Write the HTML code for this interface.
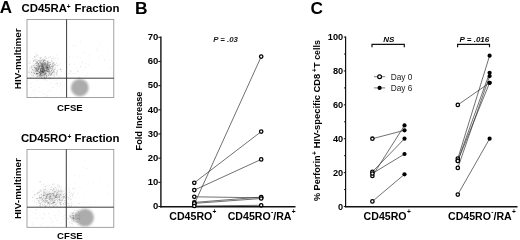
<!DOCTYPE html>
<html><head><meta charset="utf-8"><title>Figure</title>
<style>
html,body{margin:0;padding:0;background:#fff;}
body{width:520px;height:240px;overflow:hidden;font-family:"Liberation Sans",sans-serif;}
svg{display:block;}
</style></head><body>
<svg width="520" height="240" viewBox="0 0 520 240">
<defs><filter id="bl" x="-30%" y="-30%" width="160%" height="160%"><feGaussianBlur stdDeviation="1.1"/></filter><filter id="bl2" x="-50%" y="-50%" width="200%" height="200%"><feGaussianBlur stdDeviation="3"/></filter></defs>
<rect width="520" height="240" fill="#fff"/>
<g opacity="0.999"><text x="-0.3" y="12.7" font-size="17" font-weight="bold" font-family="Liberation Sans, sans-serif">A</text><text x="21.5" y="12.3" font-size="11.4" font-weight="bold" font-family="Liberation Sans, sans-serif">CD45RA</text><text x="66.8" y="8.8" font-size="6.6" font-weight="bold" font-family="Liberation Sans, sans-serif">+</text><text x="74.6" y="12.3" font-size="11.4" font-weight="bold" font-family="Liberation Sans, sans-serif">Fraction</text><rect x="27.0" y="19.5" width="86.8" height="78.0" fill="#fff" stroke="#8a8a8a" stroke-width="0.8"/><ellipse cx="79.8" cy="87.7" rx="8.9" ry="8.7" fill="#acacac" filter="url(#bl)"/><rect x="34.9" y="93.1" width="0.7" height="0.7" fill="#444" fill-opacity="0.07"/><rect x="36.2" y="80.7" width="0.7" height="0.7" fill="#444" fill-opacity="0.05"/><rect x="56.8" y="85.3" width="0.7" height="0.7" fill="#444" fill-opacity="0.10"/><rect x="55.8" y="83.5" width="0.7" height="0.7" fill="#444" fill-opacity="0.18"/><rect x="35.0" y="96.6" width="0.7" height="0.7" fill="#444" fill-opacity="0.18"/><rect x="47.0" y="95.8" width="0.7" height="0.7" fill="#444" fill-opacity="0.18"/><rect x="64.2" y="84.3" width="0.7" height="0.7" fill="#444" fill-opacity="0.11"/><rect x="39.5" y="87.0" width="0.7" height="0.7" fill="#444" fill-opacity="0.13"/><rect x="60.6" y="84.9" width="0.7" height="0.7" fill="#444" fill-opacity="0.13"/><rect x="38.5" y="87.0" width="0.7" height="0.7" fill="#444" fill-opacity="0.06"/><rect x="48.6" y="90.1" width="0.7" height="0.7" fill="#444" fill-opacity="0.14"/><rect x="61.0" y="88.4" width="0.7" height="0.7" fill="#444" fill-opacity="0.09"/><rect x="64.1" y="86.2" width="0.7" height="0.7" fill="#444" fill-opacity="0.08"/><rect x="47.3" y="91.6" width="0.7" height="0.7" fill="#444" fill-opacity="0.09"/><rect x="36.9" y="80.5" width="0.7" height="0.7" fill="#444" fill-opacity="0.13"/><rect x="42.3" y="93.3" width="0.7" height="0.7" fill="#444" fill-opacity="0.07"/><rect x="51.2" y="81.7" width="0.7" height="0.7" fill="#444" fill-opacity="0.08"/><rect x="32.3" y="90.6" width="0.7" height="0.7" fill="#444" fill-opacity="0.16"/><rect x="44.5" y="93.9" width="0.7" height="0.7" fill="#444" fill-opacity="0.17"/><rect x="60.9" y="90.6" width="0.7" height="0.7" fill="#444" fill-opacity="0.12"/><rect x="43.8" y="93.3" width="0.7" height="0.7" fill="#444" fill-opacity="0.09"/><rect x="37.3" y="97.0" width="0.7" height="0.7" fill="#444" fill-opacity="0.19"/><rect x="52.9" y="94.0" width="0.7" height="0.7" fill="#444" fill-opacity="0.06"/><rect x="57.4" y="89.7" width="0.7" height="0.7" fill="#444" fill-opacity="0.09"/><rect x="38.6" y="91.2" width="0.7" height="0.7" fill="#444" fill-opacity="0.19"/><rect x="56.3" y="79.8" width="0.7" height="0.7" fill="#444" fill-opacity="0.14"/><rect x="40.8" y="83.1" width="0.7" height="0.7" fill="#444" fill-opacity="0.06"/><rect x="50.0" y="83.8" width="0.7" height="0.7" fill="#444" fill-opacity="0.10"/><rect x="47.0" y="95.1" width="0.7" height="0.7" fill="#444" fill-opacity="0.09"/><rect x="49.9" y="90.6" width="0.7" height="0.7" fill="#444" fill-opacity="0.16"/><rect x="60.2" y="83.1" width="0.7" height="0.7" fill="#444" fill-opacity="0.18"/><rect x="30.9" y="87.3" width="0.7" height="0.7" fill="#444" fill-opacity="0.16"/><rect x="62.2" y="85.3" width="0.7" height="0.7" fill="#444" fill-opacity="0.15"/><rect x="54.6" y="79.9" width="0.7" height="0.7" fill="#444" fill-opacity="0.16"/><rect x="59.8" y="81.5" width="0.7" height="0.7" fill="#444" fill-opacity="0.10"/><rect x="44.5" y="95.9" width="0.7" height="0.7" fill="#444" fill-opacity="0.19"/><rect x="35.0" y="86.1" width="0.7" height="0.7" fill="#444" fill-opacity="0.07"/><rect x="30.0" y="82.9" width="0.7" height="0.7" fill="#444" fill-opacity="0.19"/><rect x="62.4" y="82.6" width="0.7" height="0.7" fill="#444" fill-opacity="0.14"/><rect x="52.2" y="87.1" width="0.7" height="0.7" fill="#444" fill-opacity="0.18"/><rect x="31.4" y="83.9" width="0.7" height="0.7" fill="#444" fill-opacity="0.07"/><rect x="62.6" y="93.4" width="0.7" height="0.7" fill="#444" fill-opacity="0.12"/><rect x="31.4" y="94.4" width="0.7" height="0.7" fill="#444" fill-opacity="0.17"/><rect x="61.0" y="96.0" width="0.7" height="0.7" fill="#444" fill-opacity="0.15"/><rect x="46.7" y="93.4" width="0.7" height="0.7" fill="#444" fill-opacity="0.07"/><rect x="59.9" y="84.5" width="0.7" height="0.7" fill="#444" fill-opacity="0.12"/><rect x="61.2" y="79.1" width="0.7" height="0.7" fill="#444" fill-opacity="0.10"/><rect x="58.9" y="86.2" width="0.7" height="0.7" fill="#444" fill-opacity="0.19"/><rect x="55.2" y="83.1" width="0.7" height="0.7" fill="#444" fill-opacity="0.12"/><rect x="41.5" y="90.9" width="0.7" height="0.7" fill="#444" fill-opacity="0.16"/><rect x="47.1" y="80.4" width="0.7" height="0.7" fill="#444" fill-opacity="0.18"/><rect x="34.8" y="90.4" width="0.7" height="0.7" fill="#444" fill-opacity="0.17"/><rect x="45.4" y="79.9" width="0.7" height="0.7" fill="#444" fill-opacity="0.13"/><rect x="31.8" y="82.1" width="0.7" height="0.7" fill="#444" fill-opacity="0.08"/><rect x="34.5" y="89.4" width="0.7" height="0.7" fill="#444" fill-opacity="0.16"/><rect x="87.3" y="76.2" width="0.7" height="0.7" fill="#444" fill-opacity="0.06"/><rect x="82.2" y="52.3" width="0.7" height="0.7" fill="#444" fill-opacity="0.14"/><rect x="97.8" y="50.5" width="0.7" height="0.7" fill="#444" fill-opacity="0.12"/><rect x="84.6" y="52.9" width="0.7" height="0.7" fill="#444" fill-opacity="0.06"/><rect x="101.4" y="41.1" width="0.7" height="0.7" fill="#444" fill-opacity="0.12"/><rect x="77.4" y="55.9" width="0.7" height="0.7" fill="#444" fill-opacity="0.17"/><rect x="103.7" y="73.0" width="0.7" height="0.7" fill="#444" fill-opacity="0.16"/><rect x="80.1" y="40.4" width="0.7" height="0.7" fill="#444" fill-opacity="0.08"/><rect x="107.7" y="54.5" width="0.7" height="0.7" fill="#444" fill-opacity="0.11"/><rect x="83.2" y="52.8" width="0.7" height="0.7" fill="#444" fill-opacity="0.08"/><rect x="79.9" y="57.9" width="0.7" height="0.7" fill="#444" fill-opacity="0.13"/><rect x="69.8" y="44.2" width="0.7" height="0.7" fill="#444" fill-opacity="0.05"/><rect x="88.5" y="64.6" width="0.7" height="0.7" fill="#444" fill-opacity="0.20"/><rect x="85.4" y="63.0" width="0.7" height="0.7" fill="#444" fill-opacity="0.18"/><rect x="91.6" y="60.5" width="0.7" height="0.7" fill="#444" fill-opacity="0.08"/><rect x="98.4" y="67.6" width="0.7" height="0.7" fill="#444" fill-opacity="0.10"/><rect x="97.4" y="47.9" width="0.7" height="0.7" fill="#444" fill-opacity="0.07"/><rect x="82.2" y="60.8" width="0.7" height="0.7" fill="#444" fill-opacity="0.12"/><rect x="78.5" y="76.6" width="0.7" height="0.7" fill="#444" fill-opacity="0.17"/><rect x="79.9" y="42.7" width="0.7" height="0.7" fill="#444" fill-opacity="0.17"/><rect x="109.4" y="67.3" width="0.7" height="0.7" fill="#444" fill-opacity="0.17"/><rect x="111.5" y="66.4" width="0.7" height="0.7" fill="#444" fill-opacity="0.07"/><rect x="88.7" y="55.0" width="0.7" height="0.7" fill="#444" fill-opacity="0.15"/><rect x="74.2" y="63.8" width="0.7" height="0.7" fill="#444" fill-opacity="0.17"/><rect x="79.5" y="63.7" width="0.7" height="0.7" fill="#444" fill-opacity="0.11"/><rect x="98.0" y="57.8" width="0.7" height="0.7" fill="#444" fill-opacity="0.21"/><rect x="88.4" y="41.6" width="0.7" height="0.7" fill="#444" fill-opacity="0.06"/><rect x="98.7" y="43.6" width="0.7" height="0.7" fill="#444" fill-opacity="0.18"/><rect x="89.8" y="53.1" width="0.7" height="0.7" fill="#444" fill-opacity="0.12"/><rect x="105.8" y="60.5" width="0.7" height="0.7" fill="#444" fill-opacity="0.12"/><rect x="88.7" y="62.0" width="0.7" height="0.7" fill="#444" fill-opacity="0.13"/><rect x="99.7" y="55.5" width="0.7" height="0.7" fill="#444" fill-opacity="0.10"/><rect x="72.5" y="57.3" width="0.7" height="0.7" fill="#444" fill-opacity="0.08"/><rect x="76.0" y="46.6" width="0.7" height="0.7" fill="#444" fill-opacity="0.11"/><rect x="108.9" y="59.4" width="0.7" height="0.7" fill="#444" fill-opacity="0.10"/><rect x="88.8" y="57.4" width="0.7" height="0.7" fill="#444" fill-opacity="0.06"/><rect x="104.2" y="59.3" width="0.7" height="0.7" fill="#444" fill-opacity="0.22"/><rect x="96.1" y="49.3" width="0.7" height="0.7" fill="#444" fill-opacity="0.22"/><rect x="72.1" y="46.3" width="0.7" height="0.7" fill="#444" fill-opacity="0.07"/><rect x="74.2" y="45.1" width="0.7" height="0.7" fill="#444" fill-opacity="0.20"/><ellipse cx="42.8" cy="68.6" rx="9" ry="7" fill="#777" fill-opacity="0.16" filter="url(#bl2)"/><rect x="43.5" y="75.4" width="0.74" height="0.74" fill="#333" fill-opacity="0.18"/><rect x="40.9" y="67.2" width="0.83" height="0.83" fill="#333" fill-opacity="0.10"/><rect x="42.5" y="72.5" width="0.69" height="0.69" fill="#333" fill-opacity="0.32"/><rect x="47.0" y="63.3" width="0.56" height="0.56" fill="#333" fill-opacity="0.24"/><rect x="33.2" y="60.5" width="0.80" height="0.80" fill="#333" fill-opacity="0.22"/><rect x="41.6" y="66.9" width="0.74" height="0.74" fill="#333" fill-opacity="0.27"/><rect x="42.2" y="69.9" width="0.69" height="0.69" fill="#333" fill-opacity="0.29"/><rect x="39.9" y="57.7" width="0.87" height="0.87" fill="#333" fill-opacity="0.26"/><rect x="32.6" y="74.5" width="0.87" height="0.87" fill="#333" fill-opacity="0.20"/><rect x="45.2" y="66.9" width="0.59" height="0.59" fill="#333" fill-opacity="0.13"/><rect x="50.3" y="67.4" width="0.62" height="0.62" fill="#333" fill-opacity="0.24"/><rect x="35.7" y="68.4" width="0.73" height="0.73" fill="#333" fill-opacity="0.18"/><rect x="29.3" y="62.7" width="0.87" height="0.87" fill="#333" fill-opacity="0.25"/><rect x="56.5" y="55.6" width="0.57" height="0.57" fill="#333" fill-opacity="0.25"/><rect x="54.7" y="57.9" width="0.73" height="0.73" fill="#333" fill-opacity="0.30"/><rect x="41.7" y="65.0" width="0.73" height="0.73" fill="#333" fill-opacity="0.28"/><rect x="42.2" y="70.5" width="0.90" height="0.90" fill="#333" fill-opacity="0.29"/><rect x="53.8" y="73.7" width="0.56" height="0.56" fill="#333" fill-opacity="0.19"/><rect x="39.4" y="77.5" width="0.52" height="0.52" fill="#333" fill-opacity="0.29"/><rect x="41.2" y="67.5" width="0.63" height="0.63" fill="#333" fill-opacity="0.26"/><rect x="57.6" y="58.3" width="0.90" height="0.90" fill="#333" fill-opacity="0.21"/><rect x="41.7" y="70.6" width="0.51" height="0.51" fill="#333" fill-opacity="0.23"/><rect x="45.2" y="73.8" width="0.56" height="0.56" fill="#333" fill-opacity="0.23"/><rect x="56.8" y="71.5" width="0.88" height="0.88" fill="#333" fill-opacity="0.17"/><rect x="48.4" y="65.4" width="0.71" height="0.71" fill="#333" fill-opacity="0.20"/><rect x="36.8" y="62.9" width="0.75" height="0.75" fill="#333" fill-opacity="0.22"/><rect x="50.8" y="66.3" width="0.79" height="0.79" fill="#333" fill-opacity="0.19"/><rect x="43.3" y="73.2" width="0.71" height="0.71" fill="#333" fill-opacity="0.32"/><rect x="41.8" y="68.4" width="0.73" height="0.73" fill="#333" fill-opacity="0.19"/><rect x="52.7" y="69.5" width="0.52" height="0.52" fill="#333" fill-opacity="0.24"/><rect x="37.2" y="64.3" width="0.64" height="0.64" fill="#333" fill-opacity="0.25"/><rect x="39.7" y="60.1" width="0.52" height="0.52" fill="#333" fill-opacity="0.10"/><rect x="34.5" y="56.2" width="0.68" height="0.68" fill="#333" fill-opacity="0.16"/><rect x="37.5" y="66.0" width="0.63" height="0.63" fill="#333" fill-opacity="0.18"/><rect x="36.2" y="73.9" width="0.65" height="0.65" fill="#333" fill-opacity="0.17"/><rect x="43.0" y="67.4" width="0.79" height="0.79" fill="#333" fill-opacity="0.23"/><rect x="40.9" y="72.2" width="0.60" height="0.60" fill="#333" fill-opacity="0.28"/><rect x="45.8" y="73.9" width="0.54" height="0.54" fill="#333" fill-opacity="0.25"/><rect x="40.0" y="73.0" width="0.68" height="0.68" fill="#333" fill-opacity="0.28"/><rect x="45.5" y="66.0" width="0.76" height="0.76" fill="#333" fill-opacity="0.17"/><rect x="48.7" y="64.7" width="0.55" height="0.55" fill="#333" fill-opacity="0.15"/><rect x="38.2" y="67.9" width="0.84" height="0.84" fill="#333" fill-opacity="0.28"/><rect x="45.2" y="72.6" width="0.76" height="0.76" fill="#333" fill-opacity="0.28"/><rect x="45.1" y="63.9" width="0.62" height="0.62" fill="#333" fill-opacity="0.13"/><rect x="44.4" y="64.5" width="0.67" height="0.67" fill="#333" fill-opacity="0.18"/><rect x="36.3" y="71.3" width="0.56" height="0.56" fill="#333" fill-opacity="0.30"/><rect x="60.0" y="69.0" width="0.89" height="0.89" fill="#333" fill-opacity="0.29"/><rect x="47.4" y="66.9" width="0.83" height="0.83" fill="#333" fill-opacity="0.26"/><rect x="38.3" y="63.0" width="0.64" height="0.64" fill="#333" fill-opacity="0.16"/><rect x="43.2" y="70.6" width="0.61" height="0.61" fill="#333" fill-opacity="0.23"/><rect x="43.6" y="67.1" width="0.78" height="0.78" fill="#333" fill-opacity="0.30"/><rect x="56.4" y="63.3" width="0.73" height="0.73" fill="#333" fill-opacity="0.30"/><rect x="54.7" y="69.3" width="0.62" height="0.62" fill="#333" fill-opacity="0.14"/><rect x="38.2" y="63.0" width="0.88" height="0.88" fill="#333" fill-opacity="0.19"/><rect x="37.8" y="65.4" width="0.84" height="0.84" fill="#333" fill-opacity="0.16"/><rect x="30.4" y="69.9" width="0.58" height="0.58" fill="#333" fill-opacity="0.18"/><rect x="29.8" y="66.5" width="0.82" height="0.82" fill="#333" fill-opacity="0.14"/><rect x="54.3" y="64.0" width="0.50" height="0.50" fill="#333" fill-opacity="0.28"/><rect x="32.9" y="60.8" width="0.61" height="0.61" fill="#333" fill-opacity="0.11"/><rect x="41.8" y="75.2" width="0.69" height="0.69" fill="#333" fill-opacity="0.19"/><rect x="42.9" y="68.3" width="0.55" height="0.55" fill="#333" fill-opacity="0.11"/><rect x="44.7" y="70.0" width="0.84" height="0.84" fill="#333" fill-opacity="0.31"/><rect x="50.1" y="71.9" width="0.63" height="0.63" fill="#333" fill-opacity="0.17"/><rect x="36.6" y="74.9" width="0.64" height="0.64" fill="#333" fill-opacity="0.23"/><rect x="45.1" y="73.1" width="0.72" height="0.72" fill="#333" fill-opacity="0.13"/><rect x="41.3" y="63.4" width="0.57" height="0.57" fill="#333" fill-opacity="0.12"/><rect x="35.9" y="73.9" width="0.65" height="0.65" fill="#333" fill-opacity="0.27"/><rect x="46.0" y="61.4" width="0.65" height="0.65" fill="#333" fill-opacity="0.19"/><rect x="31.6" y="68.8" width="0.78" height="0.78" fill="#333" fill-opacity="0.19"/><rect x="37.6" y="69.6" width="0.78" height="0.78" fill="#333" fill-opacity="0.22"/><rect x="49.6" y="71.1" width="0.85" height="0.85" fill="#333" fill-opacity="0.19"/><rect x="49.2" y="66.6" width="0.82" height="0.82" fill="#333" fill-opacity="0.30"/><rect x="42.2" y="74.6" width="0.83" height="0.83" fill="#333" fill-opacity="0.13"/><rect x="34.9" y="59.0" width="0.77" height="0.77" fill="#333" fill-opacity="0.27"/><rect x="41.9" y="61.7" width="0.74" height="0.74" fill="#333" fill-opacity="0.12"/><rect x="46.8" y="68.7" width="0.52" height="0.52" fill="#333" fill-opacity="0.27"/><rect x="45.6" y="69.9" width="0.57" height="0.57" fill="#333" fill-opacity="0.29"/><rect x="56.5" y="70.1" width="0.84" height="0.84" fill="#333" fill-opacity="0.13"/><rect x="36.5" y="59.5" width="0.73" height="0.73" fill="#333" fill-opacity="0.31"/><rect x="43.4" y="67.2" width="0.70" height="0.70" fill="#333" fill-opacity="0.27"/><rect x="42.1" y="66.1" width="0.87" height="0.87" fill="#333" fill-opacity="0.26"/><rect x="48.7" y="70.4" width="0.83" height="0.83" fill="#333" fill-opacity="0.22"/><rect x="43.0" y="72.0" width="0.75" height="0.75" fill="#333" fill-opacity="0.15"/><rect x="43.0" y="63.2" width="0.66" height="0.66" fill="#333" fill-opacity="0.18"/><rect x="38.4" y="73.1" width="0.70" height="0.70" fill="#333" fill-opacity="0.12"/><rect x="50.1" y="67.7" width="0.56" height="0.56" fill="#333" fill-opacity="0.26"/><rect x="38.4" y="60.1" width="0.71" height="0.71" fill="#333" fill-opacity="0.25"/><rect x="32.5" y="69.4" width="0.56" height="0.56" fill="#333" fill-opacity="0.30"/><rect x="52.7" y="73.7" width="0.71" height="0.71" fill="#333" fill-opacity="0.30"/><rect x="32.1" y="71.6" width="0.61" height="0.61" fill="#333" fill-opacity="0.14"/><rect x="45.8" y="75.4" width="0.59" height="0.59" fill="#333" fill-opacity="0.17"/><rect x="36.4" y="56.1" width="0.78" height="0.78" fill="#333" fill-opacity="0.17"/><rect x="30.7" y="74.1" width="0.61" height="0.61" fill="#333" fill-opacity="0.23"/><rect x="43.1" y="69.7" width="0.65" height="0.65" fill="#333" fill-opacity="0.21"/><rect x="46.0" y="73.1" width="0.81" height="0.81" fill="#333" fill-opacity="0.17"/><rect x="33.1" y="69.5" width="0.83" height="0.83" fill="#333" fill-opacity="0.20"/><rect x="46.8" y="62.4" width="0.79" height="0.79" fill="#333" fill-opacity="0.21"/><rect x="47.3" y="64.3" width="0.88" height="0.88" fill="#333" fill-opacity="0.26"/><rect x="37.7" y="69.4" width="0.79" height="0.79" fill="#333" fill-opacity="0.15"/><rect x="34.6" y="56.4" width="0.60" height="0.60" fill="#333" fill-opacity="0.29"/><rect x="44.9" y="72.5" width="0.78" height="0.78" fill="#333" fill-opacity="0.14"/><rect x="52.5" y="59.6" width="0.85" height="0.85" fill="#333" fill-opacity="0.16"/><rect x="39.9" y="73.8" width="0.53" height="0.53" fill="#333" fill-opacity="0.26"/><rect x="54.2" y="74.2" width="0.64" height="0.64" fill="#333" fill-opacity="0.16"/><rect x="33.3" y="64.7" width="0.63" height="0.63" fill="#333" fill-opacity="0.10"/><rect x="35.2" y="71.0" width="0.73" height="0.73" fill="#333" fill-opacity="0.15"/><rect x="49.7" y="67.1" width="0.55" height="0.55" fill="#333" fill-opacity="0.22"/><rect x="41.1" y="76.5" width="0.85" height="0.85" fill="#333" fill-opacity="0.12"/><rect x="45.5" y="67.3" width="0.65" height="0.65" fill="#333" fill-opacity="0.31"/><rect x="44.5" y="59.6" width="0.77" height="0.77" fill="#333" fill-opacity="0.17"/><rect x="35.4" y="60.5" width="0.80" height="0.80" fill="#333" fill-opacity="0.16"/><rect x="53.2" y="66.7" width="0.55" height="0.55" fill="#333" fill-opacity="0.22"/><rect x="36.1" y="68.8" width="0.77" height="0.77" fill="#333" fill-opacity="0.26"/><rect x="38.6" y="67.2" width="0.75" height="0.75" fill="#333" fill-opacity="0.24"/><rect x="40.7" y="66.3" width="0.56" height="0.56" fill="#333" fill-opacity="0.31"/><rect x="37.2" y="76.1" width="0.72" height="0.72" fill="#333" fill-opacity="0.23"/><rect x="38.0" y="63.8" width="0.57" height="0.57" fill="#333" fill-opacity="0.17"/><rect x="53.2" y="72.2" width="0.72" height="0.72" fill="#333" fill-opacity="0.27"/><rect x="42.4" y="63.5" width="0.65" height="0.65" fill="#333" fill-opacity="0.16"/><rect x="44.3" y="67.5" width="0.60" height="0.60" fill="#333" fill-opacity="0.21"/><rect x="43.6" y="63.6" width="0.66" height="0.66" fill="#333" fill-opacity="0.17"/><rect x="30.8" y="66.2" width="0.84" height="0.84" fill="#333" fill-opacity="0.18"/><rect x="47.2" y="71.4" width="0.55" height="0.55" fill="#333" fill-opacity="0.12"/><rect x="44.9" y="60.0" width="0.58" height="0.58" fill="#333" fill-opacity="0.14"/><rect x="32.5" y="73.1" width="0.80" height="0.80" fill="#333" fill-opacity="0.28"/><rect x="39.4" y="66.9" width="0.58" height="0.58" fill="#333" fill-opacity="0.19"/><rect x="33.6" y="67.4" width="0.60" height="0.60" fill="#333" fill-opacity="0.14"/><rect x="43.2" y="67.3" width="0.86" height="0.86" fill="#333" fill-opacity="0.28"/><rect x="49.5" y="66.9" width="0.73" height="0.73" fill="#333" fill-opacity="0.22"/><rect x="29.6" y="57.6" width="0.62" height="0.62" fill="#333" fill-opacity="0.25"/><rect x="48.1" y="63.8" width="0.79" height="0.79" fill="#333" fill-opacity="0.23"/><rect x="55.2" y="68.7" width="0.70" height="0.70" fill="#333" fill-opacity="0.25"/><rect x="34.9" y="67.7" width="0.71" height="0.71" fill="#333" fill-opacity="0.14"/><rect x="51.1" y="70.1" width="0.68" height="0.68" fill="#333" fill-opacity="0.24"/><rect x="45.8" y="66.8" width="0.75" height="0.75" fill="#333" fill-opacity="0.27"/><rect x="49.3" y="70.2" width="0.53" height="0.53" fill="#333" fill-opacity="0.15"/><rect x="41.5" y="65.9" width="0.74" height="0.74" fill="#333" fill-opacity="0.29"/><rect x="53.0" y="64.8" width="0.64" height="0.64" fill="#333" fill-opacity="0.26"/><rect x="48.6" y="56.9" width="0.67" height="0.67" fill="#333" fill-opacity="0.29"/><rect x="43.2" y="62.4" width="0.52" height="0.52" fill="#333" fill-opacity="0.12"/><rect x="47.0" y="70.3" width="0.70" height="0.70" fill="#333" fill-opacity="0.14"/><rect x="40.0" y="62.2" width="0.76" height="0.76" fill="#333" fill-opacity="0.19"/><rect x="40.1" y="74.3" width="0.66" height="0.66" fill="#333" fill-opacity="0.27"/><rect x="41.5" y="63.5" width="0.71" height="0.71" fill="#333" fill-opacity="0.18"/><rect x="38.6" y="66.4" width="0.58" height="0.58" fill="#333" fill-opacity="0.10"/><rect x="43.6" y="65.7" width="0.58" height="0.58" fill="#333" fill-opacity="0.20"/><rect x="43.9" y="71.8" width="0.57" height="0.57" fill="#333" fill-opacity="0.19"/><rect x="46.2" y="69.0" width="0.70" height="0.70" fill="#333" fill-opacity="0.14"/><rect x="44.2" y="69.0" width="0.66" height="0.66" fill="#333" fill-opacity="0.20"/><rect x="42.1" y="66.9" width="0.66" height="0.66" fill="#333" fill-opacity="0.19"/><rect x="61.2" y="70.9" width="0.54" height="0.54" fill="#333" fill-opacity="0.15"/><rect x="38.5" y="69.1" width="0.64" height="0.64" fill="#333" fill-opacity="0.24"/><rect x="44.5" y="69.8" width="0.61" height="0.61" fill="#333" fill-opacity="0.26"/><rect x="44.7" y="62.7" width="0.62" height="0.62" fill="#333" fill-opacity="0.31"/><rect x="42.8" y="72.8" width="0.75" height="0.75" fill="#333" fill-opacity="0.28"/><rect x="41.0" y="70.6" width="0.89" height="0.89" fill="#333" fill-opacity="0.25"/><rect x="42.3" y="68.3" width="0.54" height="0.54" fill="#333" fill-opacity="0.11"/><rect x="43.7" y="69.9" width="0.76" height="0.76" fill="#333" fill-opacity="0.11"/><rect x="46.7" y="66.5" width="0.69" height="0.69" fill="#333" fill-opacity="0.31"/><rect x="48.1" y="57.2" width="0.51" height="0.51" fill="#333" fill-opacity="0.31"/><rect x="39.5" y="75.5" width="0.54" height="0.54" fill="#333" fill-opacity="0.31"/><rect x="48.2" y="72.1" width="0.77" height="0.77" fill="#333" fill-opacity="0.17"/><rect x="46.8" y="67.1" width="0.79" height="0.79" fill="#333" fill-opacity="0.26"/><rect x="47.5" y="62.7" width="0.65" height="0.65" fill="#333" fill-opacity="0.30"/><rect x="38.3" y="70.6" width="0.69" height="0.69" fill="#333" fill-opacity="0.27"/><rect x="42.3" y="71.9" width="0.74" height="0.74" fill="#333" fill-opacity="0.26"/><rect x="41.1" y="63.4" width="0.56" height="0.56" fill="#333" fill-opacity="0.21"/><rect x="42.4" y="67.5" width="0.80" height="0.80" fill="#333" fill-opacity="0.20"/><rect x="41.4" y="66.4" width="0.84" height="0.84" fill="#333" fill-opacity="0.15"/><rect x="33.5" y="60.0" width="0.68" height="0.68" fill="#333" fill-opacity="0.29"/><rect x="52.1" y="63.3" width="0.65" height="0.65" fill="#333" fill-opacity="0.17"/><rect x="49.3" y="71.0" width="0.54" height="0.54" fill="#333" fill-opacity="0.31"/><rect x="39.6" y="67.5" width="0.76" height="0.76" fill="#333" fill-opacity="0.12"/><rect x="42.9" y="70.3" width="0.76" height="0.76" fill="#333" fill-opacity="0.13"/><rect x="41.9" y="68.2" width="0.89" height="0.89" fill="#333" fill-opacity="0.15"/><rect x="44.5" y="75.4" width="0.81" height="0.81" fill="#333" fill-opacity="0.19"/><rect x="32.7" y="62.8" width="0.58" height="0.58" fill="#333" fill-opacity="0.22"/><rect x="44.1" y="70.6" width="0.55" height="0.55" fill="#333" fill-opacity="0.28"/><rect x="61.3" y="70.7" width="0.86" height="0.86" fill="#333" fill-opacity="0.14"/><rect x="49.7" y="71.7" width="0.83" height="0.83" fill="#333" fill-opacity="0.15"/><rect x="35.1" y="63.5" width="0.85" height="0.85" fill="#333" fill-opacity="0.27"/><rect x="37.2" y="74.6" width="0.54" height="0.54" fill="#333" fill-opacity="0.20"/><rect x="47.7" y="62.4" width="0.58" height="0.58" fill="#333" fill-opacity="0.28"/><rect x="35.0" y="67.1" width="0.53" height="0.53" fill="#333" fill-opacity="0.26"/><rect x="38.1" y="73.7" width="0.72" height="0.72" fill="#333" fill-opacity="0.12"/><rect x="42.1" y="63.0" width="0.74" height="0.74" fill="#333" fill-opacity="0.24"/><rect x="44.3" y="73.5" width="0.63" height="0.63" fill="#333" fill-opacity="0.32"/><rect x="40.1" y="69.6" width="0.57" height="0.57" fill="#333" fill-opacity="0.15"/><rect x="53.3" y="64.9" width="0.89" height="0.89" fill="#333" fill-opacity="0.29"/><rect x="30.1" y="60.5" width="0.67" height="0.67" fill="#333" fill-opacity="0.22"/><rect x="57.5" y="64.9" width="0.69" height="0.69" fill="#333" fill-opacity="0.31"/><rect x="43.9" y="63.1" width="0.87" height="0.87" fill="#333" fill-opacity="0.32"/><rect x="44.1" y="70.8" width="0.62" height="0.62" fill="#333" fill-opacity="0.26"/><rect x="32.6" y="67.7" width="0.80" height="0.80" fill="#333" fill-opacity="0.11"/><rect x="41.6" y="74.3" width="0.80" height="0.80" fill="#333" fill-opacity="0.18"/><rect x="42.7" y="64.2" width="0.62" height="0.62" fill="#333" fill-opacity="0.12"/><rect x="40.3" y="69.8" width="0.81" height="0.81" fill="#333" fill-opacity="0.13"/><rect x="36.8" y="54.5" width="0.85" height="0.85" fill="#333" fill-opacity="0.32"/><rect x="39.8" y="70.9" width="0.69" height="0.69" fill="#333" fill-opacity="0.17"/><rect x="33.9" y="67.5" width="0.84" height="0.84" fill="#333" fill-opacity="0.18"/><rect x="41.0" y="74.5" width="0.82" height="0.82" fill="#333" fill-opacity="0.30"/><rect x="41.2" y="72.4" width="0.50" height="0.50" fill="#333" fill-opacity="0.28"/><rect x="48.8" y="73.5" width="0.57" height="0.57" fill="#333" fill-opacity="0.22"/><rect x="47.4" y="69.7" width="0.69" height="0.69" fill="#333" fill-opacity="0.27"/><rect x="55.3" y="67.4" width="0.51" height="0.51" fill="#333" fill-opacity="0.32"/><rect x="43.3" y="69.4" width="0.64" height="0.64" fill="#333" fill-opacity="0.20"/><rect x="51.4" y="70.7" width="0.62" height="0.62" fill="#333" fill-opacity="0.12"/><rect x="37.9" y="70.7" width="0.67" height="0.67" fill="#333" fill-opacity="0.11"/><rect x="35.3" y="62.8" width="0.82" height="0.82" fill="#333" fill-opacity="0.30"/><rect x="42.9" y="71.5" width="0.82" height="0.82" fill="#333" fill-opacity="0.27"/><rect x="29.2" y="68.0" width="0.61" height="0.61" fill="#333" fill-opacity="0.22"/><rect x="43.5" y="69.5" width="0.86" height="0.86" fill="#333" fill-opacity="0.24"/><rect x="49.5" y="65.2" width="0.87" height="0.87" fill="#333" fill-opacity="0.25"/><rect x="46.6" y="61.8" width="0.71" height="0.71" fill="#333" fill-opacity="0.19"/><rect x="45.0" y="71.6" width="0.90" height="0.90" fill="#333" fill-opacity="0.25"/><rect x="35.7" y="67.0" width="0.68" height="0.68" fill="#333" fill-opacity="0.18"/><rect x="45.4" y="63.0" width="0.56" height="0.56" fill="#333" fill-opacity="0.31"/><rect x="39.3" y="74.6" width="0.84" height="0.84" fill="#333" fill-opacity="0.19"/><rect x="50.6" y="57.6" width="0.51" height="0.51" fill="#333" fill-opacity="0.23"/><rect x="34.7" y="65.5" width="0.61" height="0.61" fill="#333" fill-opacity="0.21"/><rect x="38.8" y="57.1" width="0.77" height="0.77" fill="#333" fill-opacity="0.12"/><rect x="36.8" y="73.3" width="0.88" height="0.88" fill="#333" fill-opacity="0.30"/><rect x="39.9" y="65.8" width="0.57" height="0.57" fill="#333" fill-opacity="0.30"/><rect x="32.8" y="75.4" width="0.61" height="0.61" fill="#333" fill-opacity="0.17"/><rect x="59.2" y="64.6" width="0.66" height="0.66" fill="#333" fill-opacity="0.17"/><rect x="42.0" y="71.4" width="0.89" height="0.89" fill="#333" fill-opacity="0.16"/><rect x="47.4" y="70.5" width="0.53" height="0.53" fill="#333" fill-opacity="0.14"/><rect x="31.1" y="67.1" width="0.75" height="0.75" fill="#333" fill-opacity="0.28"/><rect x="43.1" y="68.1" width="0.88" height="0.88" fill="#333" fill-opacity="0.16"/><rect x="48.0" y="70.4" width="0.61" height="0.61" fill="#333" fill-opacity="0.21"/><rect x="40.7" y="68.1" width="0.88" height="0.88" fill="#333" fill-opacity="0.15"/><rect x="52.4" y="77.8" width="0.90" height="0.90" fill="#333" fill-opacity="0.14"/><rect x="38.1" y="61.7" width="0.52" height="0.52" fill="#333" fill-opacity="0.13"/><rect x="43.1" y="65.2" width="0.83" height="0.83" fill="#333" fill-opacity="0.14"/><rect x="44.4" y="67.4" width="0.71" height="0.71" fill="#333" fill-opacity="0.31"/><rect x="40.3" y="70.3" width="0.90" height="0.90" fill="#333" fill-opacity="0.19"/><rect x="42.1" y="71.4" width="0.55" height="0.55" fill="#333" fill-opacity="0.13"/><rect x="33.2" y="78.2" width="0.58" height="0.58" fill="#333" fill-opacity="0.12"/><rect x="65.5" y="61.8" width="0.60" height="0.60" fill="#333" fill-opacity="0.32"/><rect x="31.6" y="69.4" width="0.51" height="0.51" fill="#333" fill-opacity="0.17"/><rect x="36.1" y="76.0" width="0.73" height="0.73" fill="#333" fill-opacity="0.27"/><rect x="34.1" y="70.1" width="0.71" height="0.71" fill="#333" fill-opacity="0.20"/><rect x="45.2" y="65.5" width="0.87" height="0.87" fill="#333" fill-opacity="0.23"/><rect x="45.4" y="65.8" width="0.84" height="0.84" fill="#333" fill-opacity="0.31"/><rect x="45.6" y="72.3" width="0.52" height="0.52" fill="#333" fill-opacity="0.14"/><rect x="50.1" y="67.8" width="0.55" height="0.55" fill="#333" fill-opacity="0.29"/><rect x="57.3" y="69.6" width="0.90" height="0.90" fill="#333" fill-opacity="0.27"/><rect x="39.3" y="62.5" width="0.54" height="0.54" fill="#333" fill-opacity="0.27"/><rect x="35.3" y="67.1" width="0.74" height="0.74" fill="#333" fill-opacity="0.13"/><rect x="39.0" y="74.4" width="0.63" height="0.63" fill="#333" fill-opacity="0.18"/><rect x="36.7" y="74.3" width="0.87" height="0.87" fill="#333" fill-opacity="0.32"/><rect x="51.7" y="60.8" width="0.89" height="0.89" fill="#333" fill-opacity="0.16"/><rect x="42.3" y="71.3" width="0.79" height="0.79" fill="#333" fill-opacity="0.21"/><rect x="37.2" y="75.1" width="0.89" height="0.89" fill="#333" fill-opacity="0.16"/><rect x="34.9" y="70.4" width="0.85" height="0.85" fill="#333" fill-opacity="0.22"/><rect x="51.6" y="68.0" width="0.75" height="0.75" fill="#333" fill-opacity="0.20"/><rect x="49.7" y="71.0" width="0.81" height="0.81" fill="#333" fill-opacity="0.29"/><rect x="56.0" y="72.5" width="0.89" height="0.89" fill="#333" fill-opacity="0.18"/><rect x="39.5" y="71.4" width="0.85" height="0.85" fill="#333" fill-opacity="0.22"/><rect x="29.7" y="73.2" width="0.64" height="0.64" fill="#333" fill-opacity="0.26"/><rect x="40.1" y="74.7" width="0.65" height="0.65" fill="#333" fill-opacity="0.19"/><rect x="34.3" y="59.6" width="0.56" height="0.56" fill="#333" fill-opacity="0.23"/><rect x="44.1" y="73.7" width="0.56" height="0.56" fill="#333" fill-opacity="0.24"/><rect x="48.3" y="70.9" width="0.51" height="0.51" fill="#333" fill-opacity="0.16"/><rect x="31.3" y="66.7" width="0.84" height="0.84" fill="#333" fill-opacity="0.28"/><rect x="49.4" y="65.6" width="0.55" height="0.55" fill="#333" fill-opacity="0.25"/><rect x="47.9" y="65.0" width="0.86" height="0.86" fill="#333" fill-opacity="0.20"/><rect x="41.7" y="72.0" width="0.74" height="0.74" fill="#333" fill-opacity="0.28"/><rect x="44.3" y="69.3" width="0.50" height="0.50" fill="#333" fill-opacity="0.18"/><rect x="45.1" y="65.6" width="0.66" height="0.66" fill="#333" fill-opacity="0.16"/><rect x="35.2" y="68.2" width="0.76" height="0.76" fill="#333" fill-opacity="0.24"/><rect x="39.8" y="69.6" width="0.78" height="0.78" fill="#333" fill-opacity="0.32"/><rect x="49.5" y="71.5" width="0.90" height="0.90" fill="#333" fill-opacity="0.27"/><rect x="43.7" y="68.9" width="0.67" height="0.67" fill="#333" fill-opacity="0.21"/><rect x="53.4" y="62.4" width="0.67" height="0.67" fill="#333" fill-opacity="0.17"/><rect x="29.8" y="63.0" width="0.66" height="0.66" fill="#333" fill-opacity="0.14"/><rect x="51.6" y="72.7" width="0.87" height="0.87" fill="#333" fill-opacity="0.11"/><rect x="33.5" y="67.6" width="0.59" height="0.59" fill="#333" fill-opacity="0.12"/><rect x="28.9" y="70.7" width="0.61" height="0.61" fill="#333" fill-opacity="0.22"/><rect x="53.3" y="67.7" width="0.58" height="0.58" fill="#333" fill-opacity="0.22"/><rect x="48.8" y="73.5" width="0.64" height="0.64" fill="#333" fill-opacity="0.24"/><rect x="44.7" y="56.8" width="0.80" height="0.80" fill="#333" fill-opacity="0.29"/><rect x="43.5" y="70.4" width="0.62" height="0.62" fill="#333" fill-opacity="0.20"/><rect x="46.2" y="67.6" width="0.66" height="0.66" fill="#333" fill-opacity="0.30"/><rect x="43.9" y="72.0" width="0.70" height="0.70" fill="#333" fill-opacity="0.11"/><rect x="32.3" y="75.6" width="0.52" height="0.52" fill="#333" fill-opacity="0.28"/><rect x="37.0" y="71.7" width="0.60" height="0.60" fill="#333" fill-opacity="0.14"/><rect x="41.9" y="76.9" width="0.54" height="0.54" fill="#333" fill-opacity="0.17"/><rect x="44.2" y="74.3" width="0.60" height="0.60" fill="#333" fill-opacity="0.22"/><rect x="41.2" y="65.0" width="0.74" height="0.74" fill="#333" fill-opacity="0.25"/><rect x="48.2" y="76.6" width="0.72" height="0.72" fill="#333" fill-opacity="0.19"/><rect x="34.5" y="64.2" width="0.52" height="0.52" fill="#333" fill-opacity="0.20"/><rect x="46.1" y="58.2" width="0.73" height="0.73" fill="#333" fill-opacity="0.21"/><rect x="40.8" y="65.1" width="0.89" height="0.89" fill="#333" fill-opacity="0.28"/><rect x="38.3" y="69.0" width="0.64" height="0.64" fill="#333" fill-opacity="0.26"/><rect x="41.7" y="61.5" width="0.71" height="0.71" fill="#333" fill-opacity="0.12"/><rect x="47.7" y="63.6" width="0.85" height="0.85" fill="#333" fill-opacity="0.22"/><rect x="34.9" y="70.7" width="0.83" height="0.83" fill="#333" fill-opacity="0.23"/><rect x="43.7" y="70.9" width="0.72" height="0.72" fill="#333" fill-opacity="0.27"/><rect x="49.5" y="64.1" width="0.83" height="0.83" fill="#333" fill-opacity="0.32"/><rect x="42.7" y="64.1" width="0.77" height="0.77" fill="#333" fill-opacity="0.10"/><rect x="42.2" y="63.6" width="0.73" height="0.73" fill="#333" fill-opacity="0.21"/><rect x="42.8" y="77.0" width="0.65" height="0.65" fill="#333" fill-opacity="0.22"/><rect x="49.9" y="73.0" width="0.79" height="0.79" fill="#333" fill-opacity="0.17"/><rect x="46.2" y="73.4" width="0.66" height="0.66" fill="#333" fill-opacity="0.14"/><rect x="39.8" y="67.4" width="0.69" height="0.69" fill="#333" fill-opacity="0.11"/><rect x="45.4" y="74.7" width="0.54" height="0.54" fill="#333" fill-opacity="0.14"/><rect x="48.7" y="63.8" width="0.53" height="0.53" fill="#333" fill-opacity="0.19"/><rect x="41.8" y="73.2" width="0.55" height="0.55" fill="#333" fill-opacity="0.31"/><rect x="50.6" y="66.6" width="0.60" height="0.60" fill="#333" fill-opacity="0.20"/><rect x="47.3" y="67.8" width="0.70" height="0.70" fill="#333" fill-opacity="0.23"/><rect x="44.4" y="72.2" width="0.82" height="0.82" fill="#333" fill-opacity="0.32"/><rect x="41.2" y="57.0" width="0.78" height="0.78" fill="#333" fill-opacity="0.12"/><rect x="42.8" y="64.7" width="0.89" height="0.89" fill="#333" fill-opacity="0.20"/><rect x="37.1" y="76.7" width="0.77" height="0.77" fill="#333" fill-opacity="0.14"/><rect x="41.8" y="75.0" width="0.85" height="0.85" fill="#333" fill-opacity="0.18"/><rect x="42.5" y="62.2" width="0.67" height="0.67" fill="#333" fill-opacity="0.25"/><rect x="44.7" y="64.7" width="0.73" height="0.73" fill="#333" fill-opacity="0.22"/><rect x="41.1" y="69.7" width="0.76" height="0.76" fill="#333" fill-opacity="0.14"/><rect x="45.7" y="77.4" width="0.88" height="0.88" fill="#333" fill-opacity="0.21"/><rect x="49.5" y="61.5" width="0.52" height="0.52" fill="#333" fill-opacity="0.18"/><rect x="31.6" y="65.5" width="0.58" height="0.58" fill="#333" fill-opacity="0.30"/><rect x="42.3" y="62.4" width="0.56" height="0.56" fill="#333" fill-opacity="0.26"/><rect x="32.5" y="66.4" width="0.56" height="0.56" fill="#333" fill-opacity="0.23"/><rect x="49.4" y="74.3" width="0.56" height="0.56" fill="#333" fill-opacity="0.29"/><rect x="45.8" y="68.7" width="0.66" height="0.66" fill="#333" fill-opacity="0.27"/><rect x="38.5" y="65.9" width="0.50" height="0.50" fill="#333" fill-opacity="0.25"/><rect x="40.6" y="76.8" width="0.51" height="0.51" fill="#333" fill-opacity="0.14"/><rect x="36.4" y="68.0" width="0.54" height="0.54" fill="#333" fill-opacity="0.31"/><rect x="45.1" y="63.5" width="0.68" height="0.68" fill="#333" fill-opacity="0.28"/><rect x="39.6" y="64.4" width="0.68" height="0.68" fill="#333" fill-opacity="0.15"/><rect x="44.9" y="63.9" width="0.67" height="0.67" fill="#333" fill-opacity="0.15"/><rect x="48.0" y="71.3" width="0.72" height="0.72" fill="#333" fill-opacity="0.23"/><rect x="37.9" y="66.0" width="0.51" height="0.51" fill="#333" fill-opacity="0.11"/><rect x="40.3" y="71.6" width="0.61" height="0.61" fill="#333" fill-opacity="0.23"/><rect x="43.5" y="61.3" width="0.79" height="0.79" fill="#333" fill-opacity="0.25"/><rect x="35.3" y="67.8" width="0.53" height="0.53" fill="#333" fill-opacity="0.17"/><rect x="45.1" y="62.5" width="0.87" height="0.87" fill="#333" fill-opacity="0.12"/><rect x="34.0" y="64.9" width="0.55" height="0.55" fill="#333" fill-opacity="0.20"/><rect x="47.2" y="68.6" width="0.90" height="0.90" fill="#333" fill-opacity="0.18"/><rect x="48.9" y="73.0" width="0.60" height="0.60" fill="#333" fill-opacity="0.21"/><rect x="49.4" y="66.1" width="0.69" height="0.69" fill="#333" fill-opacity="0.10"/><rect x="54.1" y="68.9" width="0.86" height="0.86" fill="#333" fill-opacity="0.29"/><rect x="53.1" y="71.0" width="0.69" height="0.69" fill="#333" fill-opacity="0.17"/><rect x="40.9" y="73.0" width="0.75" height="0.75" fill="#333" fill-opacity="0.13"/><rect x="58.6" y="76.0" width="0.89" height="0.89" fill="#333" fill-opacity="0.11"/><rect x="43.9" y="70.7" width="0.71" height="0.71" fill="#333" fill-opacity="0.26"/><rect x="43.8" y="62.2" width="0.53" height="0.53" fill="#333" fill-opacity="0.24"/><rect x="38.8" y="62.9" width="0.50" height="0.50" fill="#333" fill-opacity="0.31"/><rect x="52.6" y="72.0" width="0.67" height="0.67" fill="#333" fill-opacity="0.30"/><rect x="40.6" y="61.9" width="0.69" height="0.69" fill="#333" fill-opacity="0.19"/><rect x="41.4" y="67.8" width="0.80" height="0.80" fill="#333" fill-opacity="0.17"/><rect x="42.4" y="74.7" width="0.64" height="0.64" fill="#333" fill-opacity="0.16"/><rect x="35.8" y="61.4" width="0.69" height="0.69" fill="#333" fill-opacity="0.31"/><rect x="44.7" y="73.3" width="0.60" height="0.60" fill="#333" fill-opacity="0.11"/><rect x="34.3" y="64.8" width="0.57" height="0.57" fill="#333" fill-opacity="0.15"/><rect x="46.5" y="70.6" width="0.60" height="0.60" fill="#333" fill-opacity="0.21"/><rect x="49.7" y="64.0" width="0.67" height="0.67" fill="#333" fill-opacity="0.17"/><rect x="54.1" y="70.8" width="0.65" height="0.65" fill="#333" fill-opacity="0.27"/><rect x="41.9" y="64.3" width="0.59" height="0.59" fill="#333" fill-opacity="0.15"/><rect x="46.0" y="75.6" width="0.79" height="0.79" fill="#333" fill-opacity="0.24"/><rect x="52.6" y="74.2" width="0.65" height="0.65" fill="#333" fill-opacity="0.21"/><rect x="35.1" y="68.5" width="0.66" height="0.66" fill="#333" fill-opacity="0.14"/><rect x="35.9" y="61.8" width="0.58" height="0.58" fill="#333" fill-opacity="0.30"/><rect x="52.8" y="62.5" width="0.89" height="0.89" fill="#333" fill-opacity="0.26"/><rect x="50.9" y="75.7" width="0.55" height="0.55" fill="#333" fill-opacity="0.30"/><rect x="28.3" y="61.3" width="0.84" height="0.84" fill="#333" fill-opacity="0.16"/><rect x="49.2" y="65.4" width="0.59" height="0.59" fill="#333" fill-opacity="0.13"/><rect x="46.4" y="63.6" width="0.68" height="0.68" fill="#333" fill-opacity="0.17"/><rect x="47.8" y="66.8" width="0.88" height="0.88" fill="#333" fill-opacity="0.10"/><rect x="39.9" y="73.5" width="0.61" height="0.61" fill="#333" fill-opacity="0.31"/><rect x="55.7" y="74.4" width="0.59" height="0.59" fill="#333" fill-opacity="0.15"/><rect x="47.6" y="67.1" width="0.63" height="0.63" fill="#333" fill-opacity="0.30"/><rect x="41.2" y="72.2" width="0.72" height="0.72" fill="#333" fill-opacity="0.22"/><rect x="35.9" y="72.4" width="0.84" height="0.84" fill="#333" fill-opacity="0.17"/><rect x="53.8" y="65.0" width="0.53" height="0.53" fill="#333" fill-opacity="0.28"/><rect x="42.8" y="72.2" width="0.89" height="0.89" fill="#333" fill-opacity="0.13"/><rect x="56.0" y="61.9" width="0.55" height="0.55" fill="#333" fill-opacity="0.22"/><rect x="40.6" y="69.4" width="0.61" height="0.61" fill="#333" fill-opacity="0.30"/><rect x="38.8" y="76.0" width="0.86" height="0.86" fill="#333" fill-opacity="0.12"/><rect x="37.5" y="71.6" width="0.74" height="0.74" fill="#333" fill-opacity="0.24"/><rect x="42.8" y="71.4" width="0.51" height="0.51" fill="#333" fill-opacity="0.23"/><rect x="47.4" y="65.0" width="0.63" height="0.63" fill="#333" fill-opacity="0.14"/><rect x="47.5" y="71.7" width="0.66" height="0.66" fill="#333" fill-opacity="0.22"/><rect x="39.8" y="72.5" width="0.81" height="0.81" fill="#333" fill-opacity="0.21"/><rect x="31.4" y="72.1" width="0.55" height="0.55" fill="#333" fill-opacity="0.21"/><rect x="49.5" y="77.8" width="0.65" height="0.65" fill="#333" fill-opacity="0.21"/><rect x="28.9" y="67.6" width="0.64" height="0.64" fill="#333" fill-opacity="0.18"/><rect x="42.1" y="69.2" width="0.69" height="0.69" fill="#333" fill-opacity="0.22"/><rect x="34.9" y="68.8" width="0.79" height="0.79" fill="#333" fill-opacity="0.20"/><rect x="53.7" y="75.7" width="0.82" height="0.82" fill="#333" fill-opacity="0.14"/><rect x="42.6" y="70.8" width="0.84" height="0.84" fill="#333" fill-opacity="0.22"/><rect x="51.1" y="59.5" width="0.52" height="0.52" fill="#333" fill-opacity="0.32"/><rect x="40.3" y="70.4" width="0.68" height="0.68" fill="#333" fill-opacity="0.27"/><rect x="42.3" y="59.0" width="0.77" height="0.77" fill="#333" fill-opacity="0.32"/><rect x="49.2" y="63.8" width="0.86" height="0.86" fill="#333" fill-opacity="0.12"/><rect x="45.4" y="69.8" width="0.61" height="0.61" fill="#333" fill-opacity="0.28"/><rect x="41.9" y="67.5" width="0.79" height="0.79" fill="#333" fill-opacity="0.15"/><rect x="51.2" y="70.1" width="0.59" height="0.59" fill="#333" fill-opacity="0.31"/><rect x="39.5" y="60.0" width="0.81" height="0.81" fill="#333" fill-opacity="0.24"/><rect x="42.4" y="67.7" width="0.71" height="0.71" fill="#333" fill-opacity="0.14"/><rect x="47.7" y="67.9" width="0.55" height="0.55" fill="#333" fill-opacity="0.23"/><rect x="47.3" y="63.8" width="0.77" height="0.77" fill="#333" fill-opacity="0.21"/><rect x="50.4" y="75.2" width="0.84" height="0.84" fill="#333" fill-opacity="0.28"/><rect x="41.8" y="72.5" width="0.86" height="0.86" fill="#333" fill-opacity="0.14"/><rect x="36.2" y="70.6" width="0.78" height="0.78" fill="#333" fill-opacity="0.21"/><rect x="40.1" y="73.0" width="0.81" height="0.81" fill="#333" fill-opacity="0.27"/><rect x="42.0" y="70.6" width="0.79" height="0.79" fill="#333" fill-opacity="0.30"/><rect x="36.7" y="65.5" width="0.67" height="0.67" fill="#333" fill-opacity="0.31"/><rect x="43.5" y="71.0" width="0.74" height="0.74" fill="#333" fill-opacity="0.18"/><rect x="38.1" y="63.8" width="0.74" height="0.74" fill="#333" fill-opacity="0.25"/><rect x="36.6" y="64.3" width="0.70" height="0.70" fill="#333" fill-opacity="0.22"/><rect x="45.1" y="65.5" width="0.62" height="0.62" fill="#333" fill-opacity="0.27"/><rect x="44.4" y="66.9" width="0.68" height="0.68" fill="#333" fill-opacity="0.21"/><rect x="41.6" y="65.1" width="0.55" height="0.55" fill="#333" fill-opacity="0.16"/><rect x="34.1" y="65.9" width="0.57" height="0.57" fill="#333" fill-opacity="0.10"/><rect x="33.9" y="70.5" width="0.76" height="0.76" fill="#333" fill-opacity="0.16"/><rect x="46.9" y="61.2" width="0.68" height="0.68" fill="#333" fill-opacity="0.10"/><rect x="40.6" y="68.7" width="0.63" height="0.63" fill="#333" fill-opacity="0.27"/><rect x="40.1" y="75.9" width="0.70" height="0.70" fill="#333" fill-opacity="0.23"/><rect x="48.3" y="63.5" width="0.53" height="0.53" fill="#333" fill-opacity="0.18"/><rect x="36.3" y="66.9" width="0.64" height="0.64" fill="#333" fill-opacity="0.22"/><rect x="44.8" y="68.7" width="0.54" height="0.54" fill="#333" fill-opacity="0.13"/><rect x="48.4" y="62.9" width="0.78" height="0.78" fill="#333" fill-opacity="0.15"/><rect x="41.1" y="67.2" width="0.59" height="0.59" fill="#333" fill-opacity="0.27"/><rect x="46.8" y="68.6" width="0.60" height="0.60" fill="#333" fill-opacity="0.16"/><rect x="51.4" y="61.0" width="0.56" height="0.56" fill="#333" fill-opacity="0.23"/><rect x="32.7" y="72.2" width="0.87" height="0.87" fill="#333" fill-opacity="0.11"/><rect x="51.9" y="58.1" width="0.75" height="0.75" fill="#333" fill-opacity="0.25"/><rect x="48.4" y="67.9" width="0.55" height="0.55" fill="#333" fill-opacity="0.17"/><rect x="48.3" y="77.4" width="0.80" height="0.80" fill="#333" fill-opacity="0.12"/><rect x="31.1" y="75.3" width="0.77" height="0.77" fill="#333" fill-opacity="0.27"/><rect x="44.0" y="67.3" width="0.65" height="0.65" fill="#333" fill-opacity="0.16"/><rect x="33.1" y="72.1" width="0.80" height="0.80" fill="#333" fill-opacity="0.29"/><rect x="52.8" y="65.0" width="0.70" height="0.70" fill="#333" fill-opacity="0.18"/><rect x="42.7" y="58.7" width="0.64" height="0.64" fill="#333" fill-opacity="0.18"/><rect x="38.9" y="66.0" width="0.50" height="0.50" fill="#333" fill-opacity="0.29"/><rect x="37.9" y="63.6" width="0.73" height="0.73" fill="#333" fill-opacity="0.14"/><rect x="50.0" y="63.8" width="0.85" height="0.85" fill="#333" fill-opacity="0.29"/><rect x="49.7" y="77.3" width="0.90" height="0.90" fill="#333" fill-opacity="0.28"/><rect x="43.2" y="63.2" width="0.76" height="0.76" fill="#333" fill-opacity="0.15"/><rect x="45.8" y="77.4" width="0.83" height="0.83" fill="#333" fill-opacity="0.23"/><rect x="39.0" y="72.2" width="0.77" height="0.77" fill="#333" fill-opacity="0.30"/><rect x="36.1" y="73.4" width="0.76" height="0.76" fill="#333" fill-opacity="0.20"/><rect x="36.9" y="68.1" width="0.85" height="0.85" fill="#333" fill-opacity="0.32"/><rect x="43.1" y="64.2" width="0.79" height="0.79" fill="#333" fill-opacity="0.14"/><rect x="47.4" y="61.5" width="0.79" height="0.79" fill="#333" fill-opacity="0.15"/><rect x="35.9" y="67.8" width="0.68" height="0.68" fill="#333" fill-opacity="0.23"/><rect x="35.7" y="61.3" width="0.54" height="0.54" fill="#333" fill-opacity="0.32"/><rect x="37.6" y="62.7" width="0.51" height="0.51" fill="#333" fill-opacity="0.29"/><rect x="45.5" y="61.3" width="0.62" height="0.62" fill="#333" fill-opacity="0.23"/><rect x="40.1" y="66.7" width="0.60" height="0.60" fill="#333" fill-opacity="0.22"/><rect x="54.6" y="64.5" width="0.80" height="0.80" fill="#333" fill-opacity="0.20"/><rect x="36.2" y="73.0" width="0.84" height="0.84" fill="#333" fill-opacity="0.14"/><rect x="43.9" y="59.5" width="0.83" height="0.83" fill="#333" fill-opacity="0.12"/><rect x="52.1" y="69.1" width="0.52" height="0.52" fill="#333" fill-opacity="0.21"/><rect x="29.5" y="73.9" width="0.63" height="0.63" fill="#333" fill-opacity="0.24"/><rect x="45.5" y="63.9" width="0.66" height="0.66" fill="#333" fill-opacity="0.30"/><rect x="59.8" y="75.4" width="0.60" height="0.60" fill="#333" fill-opacity="0.12"/><rect x="43.3" y="66.0" width="0.84" height="0.84" fill="#333" fill-opacity="0.22"/><rect x="37.2" y="65.9" width="0.83" height="0.83" fill="#333" fill-opacity="0.27"/><rect x="33.9" y="65.0" width="0.66" height="0.66" fill="#333" fill-opacity="0.17"/><rect x="62.0" y="67.9" width="0.58" height="0.58" fill="#333" fill-opacity="0.10"/><rect x="44.8" y="78.1" width="0.57" height="0.57" fill="#333" fill-opacity="0.14"/><rect x="43.2" y="65.3" width="0.68" height="0.68" fill="#333" fill-opacity="0.32"/><rect x="53.5" y="62.7" width="0.81" height="0.81" fill="#333" fill-opacity="0.15"/><rect x="38.4" y="70.5" width="0.78" height="0.78" fill="#333" fill-opacity="0.11"/><rect x="37.1" y="66.9" width="0.58" height="0.58" fill="#333" fill-opacity="0.28"/><rect x="39.9" y="69.4" width="0.85" height="0.85" fill="#333" fill-opacity="0.18"/><rect x="38.6" y="68.6" width="0.76" height="0.76" fill="#333" fill-opacity="0.15"/><rect x="56.3" y="72.6" width="0.83" height="0.83" fill="#333" fill-opacity="0.24"/><rect x="41.1" y="70.2" width="0.75" height="0.75" fill="#333" fill-opacity="0.14"/><rect x="46.2" y="69.0" width="0.85" height="0.85" fill="#333" fill-opacity="0.27"/><rect x="51.3" y="60.5" width="0.85" height="0.85" fill="#333" fill-opacity="0.22"/><rect x="39.8" y="62.1" width="0.51" height="0.51" fill="#333" fill-opacity="0.19"/><rect x="47.4" y="70.8" width="0.55" height="0.55" fill="#333" fill-opacity="0.20"/><rect x="52.1" y="67.3" width="0.86" height="0.86" fill="#333" fill-opacity="0.26"/><rect x="48.3" y="67.5" width="0.82" height="0.82" fill="#333" fill-opacity="0.13"/><rect x="52.7" y="62.4" width="0.74" height="0.74" fill="#333" fill-opacity="0.19"/><rect x="46.8" y="71.2" width="0.80" height="0.80" fill="#333" fill-opacity="0.19"/><rect x="56.8" y="75.2" width="0.89" height="0.89" fill="#333" fill-opacity="0.11"/><rect x="50.2" y="56.4" width="0.78" height="0.78" fill="#333" fill-opacity="0.20"/><rect x="54.4" y="75.7" width="0.52" height="0.52" fill="#333" fill-opacity="0.23"/><rect x="48.7" y="66.9" width="0.60" height="0.60" fill="#333" fill-opacity="0.11"/><rect x="48.6" y="69.3" width="0.90" height="0.90" fill="#333" fill-opacity="0.26"/><rect x="33.2" y="60.8" width="0.79" height="0.79" fill="#333" fill-opacity="0.28"/><rect x="38.7" y="71.3" width="0.72" height="0.72" fill="#333" fill-opacity="0.13"/><rect x="46.2" y="77.1" width="0.73" height="0.73" fill="#333" fill-opacity="0.17"/><rect x="36.1" y="66.9" width="0.60" height="0.60" fill="#333" fill-opacity="0.21"/><rect x="41.5" y="65.9" width="0.89" height="0.89" fill="#333" fill-opacity="0.42"/><rect x="33.0" y="75.5" width="0.88" height="0.88" fill="#333" fill-opacity="0.40"/><rect x="34.6" y="67.4" width="0.58" height="0.58" fill="#333" fill-opacity="0.42"/><rect x="36.2" y="68.0" width="0.76" height="0.76" fill="#333" fill-opacity="0.34"/><rect x="50.3" y="64.6" width="0.56" height="0.56" fill="#333" fill-opacity="0.47"/><rect x="40.8" y="63.0" width="0.50" height="0.50" fill="#333" fill-opacity="0.53"/><rect x="37.4" y="73.3" width="0.66" height="0.66" fill="#333" fill-opacity="0.39"/><rect x="36.8" y="70.6" width="0.71" height="0.71" fill="#333" fill-opacity="0.54"/><rect x="43.9" y="65.1" width="0.74" height="0.74" fill="#333" fill-opacity="0.43"/><rect x="42.4" y="60.0" width="0.89" height="0.89" fill="#333" fill-opacity="0.18"/><rect x="39.8" y="66.5" width="0.54" height="0.54" fill="#333" fill-opacity="0.34"/><rect x="43.9" y="76.6" width="0.85" height="0.85" fill="#333" fill-opacity="0.43"/><rect x="44.1" y="70.3" width="0.70" height="0.70" fill="#333" fill-opacity="0.30"/><rect x="41.8" y="65.2" width="0.73" height="0.73" fill="#333" fill-opacity="0.44"/><rect x="40.7" y="75.8" width="0.74" height="0.74" fill="#333" fill-opacity="0.18"/><rect x="43.4" y="69.7" width="0.71" height="0.71" fill="#333" fill-opacity="0.34"/><rect x="39.1" y="66.0" width="0.81" height="0.81" fill="#333" fill-opacity="0.52"/><rect x="43.1" y="68.9" width="0.66" height="0.66" fill="#333" fill-opacity="0.53"/><rect x="45.3" y="70.2" width="0.57" height="0.57" fill="#333" fill-opacity="0.43"/><rect x="37.6" y="73.1" width="0.76" height="0.76" fill="#333" fill-opacity="0.29"/><rect x="51.2" y="66.2" width="0.75" height="0.75" fill="#333" fill-opacity="0.40"/><rect x="40.2" y="74.2" width="0.73" height="0.73" fill="#333" fill-opacity="0.41"/><rect x="34.5" y="69.0" width="0.79" height="0.79" fill="#333" fill-opacity="0.23"/><rect x="44.1" y="68.4" width="0.89" height="0.89" fill="#333" fill-opacity="0.25"/><rect x="50.8" y="72.4" width="0.53" height="0.53" fill="#333" fill-opacity="0.38"/><rect x="42.4" y="68.2" width="0.62" height="0.62" fill="#333" fill-opacity="0.49"/><rect x="52.3" y="64.5" width="0.66" height="0.66" fill="#333" fill-opacity="0.20"/><rect x="47.6" y="74.4" width="0.53" height="0.53" fill="#333" fill-opacity="0.19"/><rect x="50.2" y="74.1" width="0.63" height="0.63" fill="#333" fill-opacity="0.25"/><rect x="36.8" y="70.4" width="0.88" height="0.88" fill="#333" fill-opacity="0.32"/><rect x="39.7" y="72.6" width="0.60" height="0.60" fill="#333" fill-opacity="0.49"/><rect x="47.2" y="75.7" width="0.86" height="0.86" fill="#333" fill-opacity="0.28"/><rect x="44.9" y="65.0" width="0.54" height="0.54" fill="#333" fill-opacity="0.28"/><rect x="46.6" y="65.4" width="0.57" height="0.57" fill="#333" fill-opacity="0.29"/><rect x="44.3" y="77.0" width="0.72" height="0.72" fill="#333" fill-opacity="0.20"/><rect x="38.5" y="65.0" width="0.66" height="0.66" fill="#333" fill-opacity="0.35"/><rect x="46.1" y="75.9" width="0.73" height="0.73" fill="#333" fill-opacity="0.51"/><rect x="42.7" y="77.9" width="0.57" height="0.57" fill="#333" fill-opacity="0.23"/><rect x="36.2" y="63.0" width="0.54" height="0.54" fill="#333" fill-opacity="0.38"/><rect x="45.7" y="68.3" width="0.90" height="0.90" fill="#333" fill-opacity="0.29"/><rect x="45.0" y="61.8" width="0.84" height="0.84" fill="#333" fill-opacity="0.18"/><rect x="42.2" y="69.0" width="0.87" height="0.87" fill="#333" fill-opacity="0.47"/><rect x="48.1" y="70.0" width="0.63" height="0.63" fill="#333" fill-opacity="0.51"/><rect x="40.0" y="75.5" width="0.90" height="0.90" fill="#333" fill-opacity="0.33"/><rect x="48.9" y="62.1" width="0.58" height="0.58" fill="#333" fill-opacity="0.43"/><rect x="40.3" y="63.5" width="0.73" height="0.73" fill="#333" fill-opacity="0.34"/><rect x="41.7" y="71.2" width="0.65" height="0.65" fill="#333" fill-opacity="0.51"/><rect x="53.6" y="75.7" width="0.77" height="0.77" fill="#333" fill-opacity="0.35"/><rect x="41.3" y="70.6" width="0.83" height="0.83" fill="#333" fill-opacity="0.28"/><rect x="41.2" y="77.8" width="0.86" height="0.86" fill="#333" fill-opacity="0.27"/><rect x="45.1" y="72.7" width="0.56" height="0.56" fill="#333" fill-opacity="0.20"/><rect x="38.1" y="68.0" width="0.59" height="0.59" fill="#333" fill-opacity="0.37"/><rect x="41.2" y="72.0" width="0.53" height="0.53" fill="#333" fill-opacity="0.51"/><rect x="34.3" y="72.7" width="0.60" height="0.60" fill="#333" fill-opacity="0.38"/><rect x="45.2" y="68.6" width="0.51" height="0.51" fill="#333" fill-opacity="0.20"/><rect x="33.6" y="71.7" width="0.61" height="0.61" fill="#333" fill-opacity="0.26"/><rect x="43.4" y="67.0" width="0.77" height="0.77" fill="#333" fill-opacity="0.16"/><rect x="48.0" y="71.3" width="0.74" height="0.74" fill="#333" fill-opacity="0.21"/><rect x="46.1" y="64.9" width="0.75" height="0.75" fill="#333" fill-opacity="0.26"/><rect x="42.3" y="67.2" width="0.65" height="0.65" fill="#333" fill-opacity="0.25"/><rect x="38.8" y="68.5" width="0.60" height="0.60" fill="#333" fill-opacity="0.41"/><rect x="46.6" y="66.4" width="0.53" height="0.53" fill="#333" fill-opacity="0.24"/><rect x="45.2" y="70.7" width="0.67" height="0.67" fill="#333" fill-opacity="0.50"/><rect x="30.9" y="72.3" width="0.81" height="0.81" fill="#333" fill-opacity="0.54"/><rect x="43.1" y="72.3" width="0.60" height="0.60" fill="#333" fill-opacity="0.35"/><rect x="40.8" y="71.0" width="0.80" height="0.80" fill="#333" fill-opacity="0.25"/><rect x="38.5" y="65.8" width="0.75" height="0.75" fill="#333" fill-opacity="0.34"/><rect x="42.4" y="67.8" width="0.69" height="0.69" fill="#333" fill-opacity="0.49"/><rect x="35.9" y="77.5" width="0.64" height="0.64" fill="#333" fill-opacity="0.45"/><rect x="48.1" y="69.3" width="0.65" height="0.65" fill="#333" fill-opacity="0.33"/><rect x="48.2" y="71.8" width="0.80" height="0.80" fill="#333" fill-opacity="0.25"/><rect x="38.7" y="68.0" width="0.68" height="0.68" fill="#333" fill-opacity="0.48"/><rect x="46.3" y="70.3" width="0.67" height="0.67" fill="#333" fill-opacity="0.17"/><rect x="52.8" y="63.2" width="0.56" height="0.56" fill="#333" fill-opacity="0.41"/><rect x="43.0" y="71.4" width="0.76" height="0.76" fill="#333" fill-opacity="0.30"/><rect x="48.5" y="69.3" width="0.76" height="0.76" fill="#333" fill-opacity="0.32"/><rect x="45.1" y="64.9" width="0.61" height="0.61" fill="#333" fill-opacity="0.39"/><rect x="36.0" y="70.3" width="0.71" height="0.71" fill="#333" fill-opacity="0.17"/><rect x="39.6" y="68.6" width="0.83" height="0.83" fill="#333" fill-opacity="0.25"/><rect x="40.9" y="70.8" width="0.71" height="0.71" fill="#333" fill-opacity="0.26"/><rect x="39.1" y="70.9" width="0.59" height="0.59" fill="#333" fill-opacity="0.28"/><rect x="36.0" y="68.4" width="0.74" height="0.74" fill="#333" fill-opacity="0.19"/><rect x="45.3" y="67.8" width="0.64" height="0.64" fill="#333" fill-opacity="0.43"/><rect x="50.6" y="74.1" width="0.81" height="0.81" fill="#333" fill-opacity="0.51"/><rect x="33.8" y="59.8" width="0.77" height="0.77" fill="#333" fill-opacity="0.37"/><rect x="37.1" y="61.8" width="0.62" height="0.62" fill="#333" fill-opacity="0.49"/><rect x="44.4" y="73.7" width="0.64" height="0.64" fill="#333" fill-opacity="0.39"/><rect x="49.0" y="62.3" width="0.71" height="0.71" fill="#333" fill-opacity="0.42"/><rect x="41.7" y="66.0" width="0.55" height="0.55" fill="#333" fill-opacity="0.47"/><rect x="48.6" y="65.2" width="0.58" height="0.58" fill="#333" fill-opacity="0.26"/><rect x="38.3" y="65.8" width="0.54" height="0.54" fill="#333" fill-opacity="0.43"/><rect x="46.5" y="65.5" width="0.80" height="0.80" fill="#333" fill-opacity="0.33"/><rect x="38.5" y="65.8" width="0.69" height="0.69" fill="#333" fill-opacity="0.27"/><rect x="46.6" y="69.2" width="0.55" height="0.55" fill="#333" fill-opacity="0.48"/><rect x="51.1" y="72.8" width="0.71" height="0.71" fill="#333" fill-opacity="0.30"/><rect x="36.0" y="65.1" width="0.81" height="0.81" fill="#333" fill-opacity="0.28"/><rect x="52.5" y="68.6" width="0.75" height="0.75" fill="#333" fill-opacity="0.27"/><rect x="40.0" y="75.2" width="0.74" height="0.74" fill="#333" fill-opacity="0.30"/><rect x="38.7" y="75.8" width="0.58" height="0.58" fill="#333" fill-opacity="0.46"/><rect x="43.3" y="58.6" width="0.58" height="0.58" fill="#333" fill-opacity="0.24"/><rect x="54.5" y="64.1" width="0.81" height="0.81" fill="#333" fill-opacity="0.20"/><rect x="46.3" y="67.2" width="0.62" height="0.62" fill="#333" fill-opacity="0.46"/><rect x="44.2" y="63.7" width="0.55" height="0.55" fill="#333" fill-opacity="0.34"/><rect x="38.3" y="63.3" width="0.52" height="0.52" fill="#333" fill-opacity="0.27"/><rect x="46.1" y="70.4" width="0.80" height="0.80" fill="#333" fill-opacity="0.55"/><rect x="49.4" y="64.4" width="0.65" height="0.65" fill="#333" fill-opacity="0.20"/><rect x="52.1" y="66.1" width="0.83" height="0.83" fill="#333" fill-opacity="0.55"/><rect x="40.7" y="61.7" width="0.67" height="0.67" fill="#333" fill-opacity="0.52"/><rect x="47.0" y="69.4" width="0.61" height="0.61" fill="#333" fill-opacity="0.16"/><rect x="39.4" y="66.8" width="0.54" height="0.54" fill="#333" fill-opacity="0.25"/><rect x="39.0" y="72.5" width="0.88" height="0.88" fill="#333" fill-opacity="0.39"/><rect x="46.3" y="70.0" width="0.87" height="0.87" fill="#333" fill-opacity="0.18"/><rect x="37.9" y="64.1" width="0.50" height="0.50" fill="#333" fill-opacity="0.48"/><rect x="46.5" y="66.4" width="0.66" height="0.66" fill="#333" fill-opacity="0.40"/><rect x="42.7" y="65.0" width="0.60" height="0.60" fill="#333" fill-opacity="0.26"/><rect x="41.9" y="64.0" width="0.64" height="0.64" fill="#333" fill-opacity="0.21"/><rect x="38.4" y="66.9" width="0.84" height="0.84" fill="#333" fill-opacity="0.39"/><rect x="37.1" y="62.8" width="0.85" height="0.85" fill="#333" fill-opacity="0.27"/><rect x="48.5" y="66.7" width="0.53" height="0.53" fill="#333" fill-opacity="0.16"/><rect x="43.3" y="60.2" width="0.70" height="0.70" fill="#333" fill-opacity="0.44"/><rect x="40.4" y="68.1" width="0.90" height="0.90" fill="#333" fill-opacity="0.39"/><rect x="44.7" y="74.1" width="0.76" height="0.76" fill="#333" fill-opacity="0.49"/><rect x="40.6" y="71.1" width="0.87" height="0.87" fill="#333" fill-opacity="0.44"/><rect x="46.4" y="65.6" width="0.82" height="0.82" fill="#333" fill-opacity="0.45"/><rect x="36.9" y="73.6" width="0.58" height="0.58" fill="#333" fill-opacity="0.30"/><rect x="50.8" y="68.6" width="0.52" height="0.52" fill="#333" fill-opacity="0.45"/><rect x="46.9" y="70.0" width="0.79" height="0.79" fill="#333" fill-opacity="0.23"/><rect x="45.2" y="73.8" width="0.64" height="0.64" fill="#333" fill-opacity="0.37"/><rect x="46.1" y="65.0" width="0.77" height="0.77" fill="#333" fill-opacity="0.35"/><rect x="40.2" y="70.1" width="0.80" height="0.80" fill="#333" fill-opacity="0.53"/><rect x="37.2" y="67.2" width="0.62" height="0.62" fill="#333" fill-opacity="0.40"/><rect x="48.4" y="70.9" width="0.54" height="0.54" fill="#333" fill-opacity="0.51"/><rect x="47.6" y="68.1" width="0.81" height="0.81" fill="#333" fill-opacity="0.55"/><rect x="42.3" y="71.5" width="0.89" height="0.89" fill="#333" fill-opacity="0.51"/><rect x="45.0" y="63.4" width="0.81" height="0.81" fill="#333" fill-opacity="0.37"/><rect x="47.0" y="61.5" width="0.83" height="0.83" fill="#333" fill-opacity="0.27"/><rect x="49.1" y="67.0" width="0.58" height="0.58" fill="#333" fill-opacity="0.15"/><rect x="39.7" y="65.0" width="0.76" height="0.76" fill="#333" fill-opacity="0.52"/><rect x="41.9" y="66.3" width="0.78" height="0.78" fill="#333" fill-opacity="0.36"/><rect x="52.1" y="64.1" width="0.70" height="0.70" fill="#333" fill-opacity="0.26"/><rect x="45.0" y="68.4" width="0.57" height="0.57" fill="#333" fill-opacity="0.18"/><rect x="42.3" y="64.9" width="0.83" height="0.83" fill="#333" fill-opacity="0.43"/><rect x="43.3" y="67.5" width="0.82" height="0.82" fill="#333" fill-opacity="0.43"/><rect x="39.9" y="60.6" width="0.75" height="0.75" fill="#333" fill-opacity="0.48"/><rect x="47.0" y="64.7" width="0.61" height="0.61" fill="#333" fill-opacity="0.19"/><rect x="46.9" y="67.0" width="0.85" height="0.85" fill="#333" fill-opacity="0.34"/><rect x="39.3" y="61.8" width="0.70" height="0.70" fill="#333" fill-opacity="0.34"/><rect x="45.8" y="69.9" width="0.71" height="0.71" fill="#333" fill-opacity="0.21"/><rect x="40.9" y="68.3" width="0.54" height="0.54" fill="#333" fill-opacity="0.40"/><rect x="41.9" y="69.2" width="0.56" height="0.56" fill="#333" fill-opacity="0.34"/><rect x="47.2" y="67.1" width="0.68" height="0.68" fill="#333" fill-opacity="0.48"/><rect x="38.3" y="75.7" width="0.71" height="0.71" fill="#333" fill-opacity="0.26"/><rect x="32.5" y="58.3" width="0.52" height="0.52" fill="#333" fill-opacity="0.43"/><rect x="30.9" y="71.4" width="0.65" height="0.65" fill="#333" fill-opacity="0.49"/><rect x="45.5" y="71.0" width="0.57" height="0.57" fill="#333" fill-opacity="0.45"/><rect x="45.9" y="66.5" width="0.78" height="0.78" fill="#333" fill-opacity="0.43"/><rect x="43.1" y="73.7" width="0.61" height="0.61" fill="#333" fill-opacity="0.40"/><rect x="35.9" y="67.4" width="0.61" height="0.61" fill="#333" fill-opacity="0.53"/><rect x="45.5" y="73.0" width="0.69" height="0.69" fill="#333" fill-opacity="0.39"/><rect x="45.7" y="67.1" width="0.69" height="0.69" fill="#333" fill-opacity="0.35"/><rect x="44.6" y="73.0" width="0.65" height="0.65" fill="#333" fill-opacity="0.33"/><rect x="44.9" y="56.4" width="0.59" height="0.59" fill="#333" fill-opacity="0.54"/><rect x="34.3" y="76.0" width="0.54" height="0.54" fill="#333" fill-opacity="0.18"/><rect x="54.4" y="72.8" width="0.67" height="0.67" fill="#333" fill-opacity="0.35"/><rect x="51.3" y="73.7" width="0.78" height="0.78" fill="#333" fill-opacity="0.55"/><rect x="48.3" y="65.7" width="0.57" height="0.57" fill="#333" fill-opacity="0.27"/><rect x="41.9" y="70.9" width="0.52" height="0.52" fill="#333" fill-opacity="0.30"/><rect x="53.1" y="70.9" width="0.83" height="0.83" fill="#333" fill-opacity="0.49"/><rect x="39.5" y="72.3" width="0.81" height="0.81" fill="#333" fill-opacity="0.37"/><rect x="40.8" y="73.4" width="0.84" height="0.84" fill="#333" fill-opacity="0.37"/><rect x="42.6" y="68.9" width="0.85" height="0.85" fill="#333" fill-opacity="0.31"/><rect x="46.0" y="73.8" width="0.61" height="0.61" fill="#333" fill-opacity="0.20"/><rect x="41.2" y="67.2" width="0.73" height="0.73" fill="#333" fill-opacity="0.33"/><rect x="36.4" y="73.2" width="0.61" height="0.61" fill="#333" fill-opacity="0.49"/><rect x="43.4" y="61.6" width="0.74" height="0.74" fill="#333" fill-opacity="0.39"/><rect x="35.3" y="65.8" width="0.61" height="0.61" fill="#333" fill-opacity="0.43"/><rect x="38.2" y="63.2" width="0.86" height="0.86" fill="#333" fill-opacity="0.33"/><rect x="40.3" y="73.5" width="0.74" height="0.74" fill="#333" fill-opacity="0.38"/><rect x="45.8" y="74.3" width="0.71" height="0.71" fill="#333" fill-opacity="0.20"/><rect x="35.5" y="70.6" width="0.89" height="0.89" fill="#333" fill-opacity="0.49"/><rect x="44.2" y="77.7" width="0.70" height="0.70" fill="#333" fill-opacity="0.34"/><rect x="52.4" y="70.7" width="0.61" height="0.61" fill="#333" fill-opacity="0.24"/><rect x="41.6" y="71.5" width="0.62" height="0.62" fill="#333" fill-opacity="0.27"/><rect x="38.2" y="67.8" width="0.87" height="0.87" fill="#333" fill-opacity="0.45"/><rect x="47.2" y="66.9" width="0.79" height="0.79" fill="#333" fill-opacity="0.42"/><rect x="42.0" y="64.4" width="0.80" height="0.80" fill="#333" fill-opacity="0.23"/><rect x="40.2" y="65.4" width="0.53" height="0.53" fill="#333" fill-opacity="0.42"/><rect x="45.0" y="59.8" width="0.55" height="0.55" fill="#333" fill-opacity="0.54"/><rect x="39.7" y="61.8" width="0.74" height="0.74" fill="#333" fill-opacity="0.21"/><rect x="44.1" y="71.3" width="0.61" height="0.61" fill="#333" fill-opacity="0.16"/><rect x="46.7" y="64.1" width="0.89" height="0.89" fill="#333" fill-opacity="0.47"/><rect x="48.4" y="75.2" width="0.76" height="0.76" fill="#333" fill-opacity="0.51"/><rect x="41.2" y="70.9" width="0.65" height="0.65" fill="#333" fill-opacity="0.33"/><rect x="42.3" y="74.9" width="0.60" height="0.60" fill="#333" fill-opacity="0.40"/><rect x="45.5" y="73.0" width="0.77" height="0.77" fill="#333" fill-opacity="0.43"/><rect x="36.1" y="61.7" width="0.68" height="0.68" fill="#333" fill-opacity="0.45"/><rect x="42.6" y="62.4" width="0.57" height="0.57" fill="#333" fill-opacity="0.29"/><rect x="37.1" y="73.3" width="0.62" height="0.62" fill="#333" fill-opacity="0.45"/><rect x="40.9" y="68.2" width="0.68" height="0.68" fill="#333" fill-opacity="0.39"/><rect x="43.9" y="60.3" width="0.89" height="0.89" fill="#333" fill-opacity="0.17"/><rect x="48.9" y="78.1" width="0.59" height="0.59" fill="#333" fill-opacity="0.54"/><rect x="42.1" y="70.9" width="0.80" height="0.80" fill="#333" fill-opacity="0.51"/><rect x="51.7" y="67.0" width="0.81" height="0.81" fill="#333" fill-opacity="0.29"/><rect x="40.0" y="71.5" width="0.78" height="0.78" fill="#333" fill-opacity="0.32"/><rect x="40.2" y="73.5" width="0.82" height="0.82" fill="#333" fill-opacity="0.38"/><rect x="37.7" y="69.4" width="0.68" height="0.68" fill="#333" fill-opacity="0.37"/><rect x="42.5" y="66.6" width="0.52" height="0.52" fill="#333" fill-opacity="0.22"/><rect x="34.5" y="72.8" width="0.75" height="0.75" fill="#333" fill-opacity="0.39"/><rect x="51.3" y="65.5" width="0.59" height="0.59" fill="#333" fill-opacity="0.27"/><rect x="39.3" y="67.9" width="0.53" height="0.53" fill="#333" fill-opacity="0.39"/><rect x="36.6" y="72.9" width="0.56" height="0.56" fill="#333" fill-opacity="0.25"/><rect x="42.8" y="65.8" width="0.75" height="0.75" fill="#333" fill-opacity="0.51"/><rect x="47.5" y="65.3" width="0.60" height="0.60" fill="#333" fill-opacity="0.35"/><rect x="54.4" y="72.3" width="0.53" height="0.53" fill="#333" fill-opacity="0.24"/><rect x="48.5" y="66.5" width="0.87" height="0.87" fill="#333" fill-opacity="0.38"/><rect x="42.4" y="65.4" width="0.76" height="0.76" fill="#333" fill-opacity="0.26"/><rect x="41.3" y="65.9" width="0.70" height="0.70" fill="#333" fill-opacity="0.25"/><rect x="51.2" y="71.4" width="0.56" height="0.56" fill="#333" fill-opacity="0.41"/><rect x="36.9" y="65.9" width="0.67" height="0.67" fill="#333" fill-opacity="0.19"/><rect x="44.2" y="64.1" width="0.59" height="0.59" fill="#333" fill-opacity="0.44"/><rect x="50.2" y="68.5" width="0.50" height="0.50" fill="#333" fill-opacity="0.37"/><rect x="42.6" y="68.8" width="0.57" height="0.57" fill="#333" fill-opacity="0.33"/><rect x="42.9" y="72.2" width="0.61" height="0.61" fill="#333" fill-opacity="0.21"/><rect x="40.1" y="68.5" width="0.88" height="0.88" fill="#333" fill-opacity="0.37"/><rect x="40.6" y="58.3" width="0.76" height="0.76" fill="#333" fill-opacity="0.19"/><rect x="43.5" y="78.4" width="0.79" height="0.79" fill="#333" fill-opacity="0.35"/><rect x="43.2" y="66.4" width="0.82" height="0.82" fill="#333" fill-opacity="0.19"/><rect x="45.0" y="64.5" width="0.51" height="0.51" fill="#333" fill-opacity="0.16"/><rect x="45.2" y="62.5" width="0.77" height="0.77" fill="#333" fill-opacity="0.30"/><rect x="43.0" y="68.1" width="0.89" height="0.89" fill="#333" fill-opacity="0.45"/><rect x="49.9" y="62.2" width="0.74" height="0.74" fill="#333" fill-opacity="0.33"/><rect x="49.5" y="73.5" width="0.66" height="0.66" fill="#333" fill-opacity="0.41"/><rect x="45.8" y="69.4" width="0.87" height="0.87" fill="#333" fill-opacity="0.31"/><rect x="32.9" y="70.1" width="0.60" height="0.60" fill="#333" fill-opacity="0.22"/><rect x="43.1" y="72.0" width="0.65" height="0.65" fill="#333" fill-opacity="0.47"/><rect x="39.6" y="74.3" width="0.85" height="0.85" fill="#333" fill-opacity="0.33"/><rect x="39.6" y="61.1" width="0.66" height="0.66" fill="#333" fill-opacity="0.32"/><rect x="28.6" y="72.3" width="0.73" height="0.73" fill="#333" fill-opacity="0.53"/><rect x="40.9" y="68.7" width="0.74" height="0.74" fill="#333" fill-opacity="0.49"/><rect x="40.2" y="69.9" width="0.78" height="0.78" fill="#333" fill-opacity="0.34"/><rect x="42.3" y="71.9" width="0.70" height="0.70" fill="#333" fill-opacity="0.35"/><rect x="44.6" y="68.7" width="0.78" height="0.78" fill="#333" fill-opacity="0.30"/><rect x="42.1" y="69.1" width="0.58" height="0.58" fill="#333" fill-opacity="0.25"/><rect x="43.1" y="65.6" width="0.62" height="0.62" fill="#333" fill-opacity="0.54"/><rect x="43.2" y="69.3" width="0.71" height="0.71" fill="#333" fill-opacity="0.35"/><rect x="44.2" y="62.5" width="0.52" height="0.52" fill="#333" fill-opacity="0.37"/><rect x="46.2" y="67.2" width="0.57" height="0.57" fill="#333" fill-opacity="0.24"/><rect x="36.6" y="65.4" width="0.60" height="0.60" fill="#333" fill-opacity="0.28"/><rect x="49.5" y="69.0" width="0.55" height="0.55" fill="#333" fill-opacity="0.43"/><rect x="43.3" y="75.6" width="0.55" height="0.55" fill="#333" fill-opacity="0.43"/><rect x="50.7" y="68.1" width="0.63" height="0.63" fill="#333" fill-opacity="0.44"/><rect x="48.1" y="67.7" width="0.89" height="0.89" fill="#333" fill-opacity="0.40"/><rect x="44.4" y="66.3" width="0.58" height="0.58" fill="#333" fill-opacity="0.20"/><rect x="50.4" y="74.6" width="0.69" height="0.69" fill="#333" fill-opacity="0.37"/><rect x="38.8" y="72.2" width="0.79" height="0.79" fill="#333" fill-opacity="0.32"/><rect x="34.1" y="72.9" width="0.85" height="0.85" fill="#333" fill-opacity="0.49"/><rect x="42.8" y="66.0" width="0.84" height="0.84" fill="#333" fill-opacity="0.32"/><rect x="38.8" y="72.9" width="0.83" height="0.83" fill="#333" fill-opacity="0.23"/><rect x="40.4" y="72.0" width="0.54" height="0.54" fill="#333" fill-opacity="0.48"/><rect x="48.1" y="68.8" width="0.55" height="0.55" fill="#333" fill-opacity="0.33"/><rect x="36.1" y="73.1" width="0.87" height="0.87" fill="#333" fill-opacity="0.50"/><rect x="43.3" y="67.0" width="0.68" height="0.68" fill="#333" fill-opacity="0.30"/><rect x="51.4" y="69.9" width="0.81" height="0.81" fill="#333" fill-opacity="0.26"/><rect x="41.0" y="65.6" width="0.68" height="0.68" fill="#333" fill-opacity="0.29"/><rect x="43.1" y="69.2" width="0.59" height="0.59" fill="#333" fill-opacity="0.32"/><rect x="42.5" y="76.0" width="0.66" height="0.66" fill="#333" fill-opacity="0.45"/><rect x="51.2" y="69.7" width="0.54" height="0.54" fill="#333" fill-opacity="0.26"/><rect x="43.0" y="59.5" width="0.72" height="0.72" fill="#333" fill-opacity="0.25"/><rect x="47.4" y="65.3" width="0.56" height="0.56" fill="#333" fill-opacity="0.29"/><rect x="53.2" y="70.1" width="0.57" height="0.57" fill="#333" fill-opacity="0.47"/><rect x="40.8" y="66.4" width="0.65" height="0.65" fill="#333" fill-opacity="0.45"/><rect x="40.7" y="63.7" width="0.73" height="0.73" fill="#333" fill-opacity="0.18"/><rect x="41.9" y="67.5" width="0.61" height="0.61" fill="#333" fill-opacity="0.16"/><rect x="40.4" y="57.2" width="0.84" height="0.84" fill="#333" fill-opacity="0.33"/><rect x="41.8" y="65.3" width="0.84" height="0.84" fill="#333" fill-opacity="0.33"/><rect x="36.9" y="69.1" width="0.56" height="0.56" fill="#333" fill-opacity="0.44"/><rect x="36.9" y="69.9" width="0.78" height="0.78" fill="#333" fill-opacity="0.38"/><rect x="42.1" y="73.3" width="0.54" height="0.54" fill="#333" fill-opacity="0.33"/><rect x="45.7" y="58.3" width="0.66" height="0.66" fill="#333" fill-opacity="0.37"/><rect x="39.1" y="72.0" width="0.61" height="0.61" fill="#333" fill-opacity="0.30"/><rect x="47.3" y="67.3" width="0.76" height="0.76" fill="#333" fill-opacity="0.24"/><rect x="47.5" y="68.7" width="0.83" height="0.83" fill="#333" fill-opacity="0.37"/><rect x="42.3" y="69.9" width="0.50" height="0.50" fill="#333" fill-opacity="0.54"/><rect x="37.6" y="71.1" width="0.64" height="0.64" fill="#333" fill-opacity="0.54"/><rect x="43.0" y="72.0" width="0.56" height="0.56" fill="#333" fill-opacity="0.30"/><rect x="47.6" y="65.6" width="0.61" height="0.61" fill="#333" fill-opacity="0.44"/><rect x="37.3" y="60.6" width="0.88" height="0.88" fill="#333" fill-opacity="0.24"/><rect x="41.1" y="75.1" width="0.69" height="0.69" fill="#333" fill-opacity="0.53"/><rect x="47.4" y="66.8" width="0.87" height="0.87" fill="#333" fill-opacity="0.32"/><rect x="41.5" y="67.8" width="0.71" height="0.71" fill="#333" fill-opacity="0.21"/><rect x="41.9" y="69.8" width="0.63" height="0.63" fill="#333" fill-opacity="0.48"/><rect x="46.7" y="66.3" width="0.67" height="0.67" fill="#333" fill-opacity="0.22"/><rect x="47.8" y="60.5" width="0.60" height="0.60" fill="#333" fill-opacity="0.38"/><rect x="39.0" y="68.0" width="0.50" height="0.50" fill="#333" fill-opacity="0.29"/><rect x="54.3" y="69.7" width="0.60" height="0.60" fill="#333" fill-opacity="0.46"/><rect x="41.7" y="67.8" width="0.75" height="0.75" fill="#333" fill-opacity="0.48"/><rect x="41.8" y="64.2" width="0.83" height="0.83" fill="#333" fill-opacity="0.32"/><rect x="42.0" y="70.1" width="0.87" height="0.87" fill="#333" fill-opacity="0.20"/><rect x="42.5" y="70.1" width="0.55" height="0.55" fill="#333" fill-opacity="0.38"/><rect x="35.1" y="71.8" width="0.67" height="0.67" fill="#333" fill-opacity="0.24"/><rect x="52.0" y="65.1" width="0.51" height="0.51" fill="#333" fill-opacity="0.50"/><rect x="49.1" y="67.7" width="0.89" height="0.89" fill="#333" fill-opacity="0.21"/><rect x="53.2" y="77.1" width="0.53" height="0.53" fill="#333" fill-opacity="0.16"/><rect x="36.0" y="69.6" width="0.83" height="0.83" fill="#333" fill-opacity="0.38"/><rect x="49.1" y="72.8" width="0.88" height="0.88" fill="#333" fill-opacity="0.28"/><rect x="37.4" y="64.0" width="0.87" height="0.87" fill="#333" fill-opacity="0.20"/><rect x="42.0" y="71.4" width="0.81" height="0.81" fill="#333" fill-opacity="0.32"/><rect x="40.3" y="72.9" width="0.60" height="0.60" fill="#333" fill-opacity="0.39"/><rect x="46.6" y="71.5" width="0.77" height="0.77" fill="#333" fill-opacity="0.44"/><rect x="44.5" y="74.6" width="0.78" height="0.78" fill="#333" fill-opacity="0.48"/><rect x="43.4" y="69.7" width="0.78" height="0.78" fill="#333" fill-opacity="0.54"/><rect x="41.6" y="75.4" width="0.75" height="0.75" fill="#333" fill-opacity="0.38"/><rect x="38.1" y="73.4" width="0.65" height="0.65" fill="#333" fill-opacity="0.30"/><rect x="39.1" y="74.7" width="0.62" height="0.62" fill="#333" fill-opacity="0.49"/><rect x="46.2" y="70.0" width="0.64" height="0.64" fill="#333" fill-opacity="0.45"/><rect x="52.4" y="69.1" width="0.53" height="0.53" fill="#333" fill-opacity="0.32"/><rect x="42.7" y="63.6" width="0.83" height="0.83" fill="#333" fill-opacity="0.49"/><rect x="47.4" y="60.8" width="0.82" height="0.82" fill="#333" fill-opacity="0.30"/><rect x="35.5" y="68.8" width="0.75" height="0.75" fill="#333" fill-opacity="0.24"/><rect x="51.7" y="72.3" width="0.73" height="0.73" fill="#333" fill-opacity="0.22"/><rect x="47.9" y="62.0" width="0.67" height="0.67" fill="#333" fill-opacity="0.49"/><rect x="55.9" y="73.8" width="0.85" height="0.85" fill="#333" fill-opacity="0.27"/><rect x="38.2" y="71.0" width="0.72" height="0.72" fill="#333" fill-opacity="0.37"/><rect x="44.0" y="63.1" width="0.71" height="0.71" fill="#333" fill-opacity="0.22"/><rect x="50.9" y="73.2" width="0.65" height="0.65" fill="#333" fill-opacity="0.22"/><rect x="38.9" y="66.5" width="0.82" height="0.82" fill="#333" fill-opacity="0.51"/><rect x="40.2" y="72.5" width="0.70" height="0.70" fill="#333" fill-opacity="0.45"/><rect x="39.8" y="65.7" width="0.74" height="0.74" fill="#333" fill-opacity="0.38"/><rect x="46.6" y="66.3" width="0.59" height="0.59" fill="#333" fill-opacity="0.47"/><rect x="41.9" y="71.6" width="0.54" height="0.54" fill="#333" fill-opacity="0.52"/><rect x="41.5" y="73.2" width="0.76" height="0.76" fill="#333" fill-opacity="0.43"/><rect x="46.4" y="71.5" width="0.56" height="0.56" fill="#333" fill-opacity="0.44"/><rect x="49.5" y="74.0" width="0.53" height="0.53" fill="#333" fill-opacity="0.15"/><rect x="46.4" y="76.0" width="0.67" height="0.67" fill="#333" fill-opacity="0.29"/><rect x="32.6" y="66.4" width="0.58" height="0.58" fill="#333" fill-opacity="0.17"/><rect x="36.9" y="72.1" width="0.67" height="0.67" fill="#333" fill-opacity="0.20"/><rect x="41.1" y="68.0" width="0.52" height="0.52" fill="#333" fill-opacity="0.28"/><rect x="43.4" y="68.3" width="0.75" height="0.75" fill="#333" fill-opacity="0.21"/><rect x="43.6" y="74.0" width="0.90" height="0.90" fill="#333" fill-opacity="0.29"/><rect x="38.6" y="67.0" width="0.69" height="0.69" fill="#333" fill-opacity="0.22"/><rect x="44.0" y="62.0" width="0.71" height="0.71" fill="#333" fill-opacity="0.43"/><rect x="47.4" y="66.9" width="0.88" height="0.88" fill="#333" fill-opacity="0.37"/><rect x="44.2" y="64.0" width="0.81" height="0.81" fill="#333" fill-opacity="0.47"/><rect x="41.4" y="72.7" width="0.65" height="0.65" fill="#333" fill-opacity="0.45"/><rect x="39.1" y="72.8" width="0.60" height="0.60" fill="#333" fill-opacity="0.18"/><rect x="46.6" y="68.3" width="0.50" height="0.50" fill="#333" fill-opacity="0.47"/><rect x="40.7" y="73.3" width="0.88" height="0.88" fill="#333" fill-opacity="0.28"/><rect x="46.9" y="67.7" width="0.87" height="0.87" fill="#333" fill-opacity="0.20"/><rect x="44.5" y="63.7" width="0.50" height="0.50" fill="#333" fill-opacity="0.17"/><rect x="39.9" y="62.7" width="0.63" height="0.63" fill="#333" fill-opacity="0.34"/><rect x="42.0" y="72.6" width="0.74" height="0.74" fill="#333" fill-opacity="0.32"/><rect x="38.9" y="70.6" width="0.76" height="0.76" fill="#333" fill-opacity="0.24"/><rect x="45.7" y="67.6" width="0.76" height="0.76" fill="#333" fill-opacity="0.46"/><rect x="43.1" y="70.9" width="0.56" height="0.56" fill="#333" fill-opacity="0.48"/><rect x="44.4" y="69.8" width="0.65" height="0.65" fill="#333" fill-opacity="0.48"/><rect x="46.9" y="68.6" width="0.69" height="0.69" fill="#333" fill-opacity="0.36"/><rect x="48.6" y="75.1" width="0.61" height="0.61" fill="#333" fill-opacity="0.43"/><rect x="41.2" y="71.5" width="0.74" height="0.74" fill="#333" fill-opacity="0.16"/><rect x="41.7" y="74.7" width="0.63" height="0.63" fill="#333" fill-opacity="0.49"/><rect x="41.7" y="72.5" width="0.52" height="0.52" fill="#333" fill-opacity="0.34"/><rect x="39.5" y="70.9" width="0.83" height="0.83" fill="#333" fill-opacity="0.19"/><rect x="40.9" y="64.0" width="0.79" height="0.79" fill="#333" fill-opacity="0.18"/><rect x="35.3" y="74.6" width="0.60" height="0.60" fill="#333" fill-opacity="0.41"/><rect x="42.9" y="63.0" width="0.82" height="0.82" fill="#333" fill-opacity="0.29"/><rect x="41.5" y="70.7" width="0.75" height="0.75" fill="#333" fill-opacity="0.17"/><rect x="42.4" y="71.0" width="0.81" height="0.81" fill="#333" fill-opacity="0.17"/><rect x="41.0" y="76.8" width="0.83" height="0.83" fill="#333" fill-opacity="0.51"/><rect x="35.9" y="62.9" width="0.63" height="0.63" fill="#333" fill-opacity="0.51"/><rect x="35.3" y="74.9" width="0.54" height="0.54" fill="#333" fill-opacity="0.27"/><rect x="49.0" y="69.9" width="0.88" height="0.88" fill="#333" fill-opacity="0.27"/><rect x="47.8" y="68.9" width="0.74" height="0.74" fill="#333" fill-opacity="0.43"/><rect x="46.4" y="63.3" width="0.89" height="0.89" fill="#333" fill-opacity="0.50"/><rect x="47.2" y="64.3" width="0.71" height="0.71" fill="#333" fill-opacity="0.31"/><rect x="43.5" y="71.8" width="0.68" height="0.68" fill="#333" fill-opacity="0.36"/><rect x="41.2" y="69.7" width="0.63" height="0.63" fill="#333" fill-opacity="0.54"/><rect x="38.2" y="69.1" width="0.81" height="0.81" fill="#333" fill-opacity="0.37"/><rect x="49.1" y="66.4" width="0.65" height="0.65" fill="#333" fill-opacity="0.53"/><rect x="38.3" y="69.2" width="0.55" height="0.55" fill="#333" fill-opacity="0.54"/><rect x="44.1" y="75.7" width="0.53" height="0.53" fill="#333" fill-opacity="0.25"/><rect x="39.0" y="72.1" width="0.59" height="0.59" fill="#333" fill-opacity="0.33"/><rect x="40.4" y="71.4" width="0.70" height="0.70" fill="#333" fill-opacity="0.22"/><rect x="43.3" y="71.3" width="0.85" height="0.85" fill="#333" fill-opacity="0.52"/><rect x="38.3" y="72.1" width="0.51" height="0.51" fill="#333" fill-opacity="0.19"/><rect x="30.8" y="67.8" width="0.68" height="0.68" fill="#333" fill-opacity="0.18"/><rect x="43.0" y="68.0" width="0.60" height="0.60" fill="#333" fill-opacity="0.38"/><rect x="43.0" y="60.8" width="0.81" height="0.81" fill="#333" fill-opacity="0.50"/><rect x="49.0" y="71.8" width="0.62" height="0.62" fill="#333" fill-opacity="0.37"/><rect x="44.5" y="73.1" width="0.66" height="0.66" fill="#333" fill-opacity="0.32"/><rect x="46.3" y="67.7" width="0.56" height="0.56" fill="#333" fill-opacity="0.49"/><rect x="40.8" y="64.4" width="0.69" height="0.69" fill="#333" fill-opacity="0.31"/><rect x="45.2" y="70.8" width="0.58" height="0.58" fill="#333" fill-opacity="0.31"/><rect x="47.1" y="63.3" width="0.78" height="0.78" fill="#333" fill-opacity="0.40"/><rect x="43.2" y="69.1" width="0.85" height="0.85" fill="#333" fill-opacity="0.18"/><rect x="29.4" y="69.5" width="0.65" height="0.65" fill="#333" fill-opacity="0.28"/><rect x="37.0" y="62.1" width="0.69" height="0.69" fill="#333" fill-opacity="0.32"/><rect x="40.5" y="71.0" width="0.86" height="0.86" fill="#333" fill-opacity="0.51"/><rect x="40.3" y="69.5" width="0.69" height="0.69" fill="#333" fill-opacity="0.50"/><rect x="42.7" y="64.2" width="0.80" height="0.80" fill="#333" fill-opacity="0.18"/><rect x="52.1" y="74.7" width="0.64" height="0.64" fill="#333" fill-opacity="0.22"/><rect x="46.3" y="68.7" width="0.54" height="0.54" fill="#333" fill-opacity="0.41"/><rect x="44.1" y="69.6" width="0.71" height="0.71" fill="#333" fill-opacity="0.16"/><rect x="44.1" y="75.5" width="0.70" height="0.70" fill="#333" fill-opacity="0.42"/><rect x="54.7" y="63.7" width="0.81" height="0.81" fill="#333" fill-opacity="0.27"/><rect x="41.7" y="66.1" width="0.51" height="0.51" fill="#333" fill-opacity="0.46"/><rect x="37.8" y="60.5" width="0.78" height="0.78" fill="#333" fill-opacity="0.41"/><rect x="40.0" y="65.0" width="0.65" height="0.65" fill="#333" fill-opacity="0.19"/><rect x="39.4" y="75.7" width="0.89" height="0.89" fill="#333" fill-opacity="0.50"/><rect x="37.5" y="76.3" width="0.51" height="0.51" fill="#333" fill-opacity="0.51"/><rect x="40.7" y="68.1" width="0.68" height="0.68" fill="#333" fill-opacity="0.18"/><rect x="41.9" y="66.1" width="0.69" height="0.69" fill="#333" fill-opacity="0.28"/><rect x="40.3" y="68.0" width="0.51" height="0.51" fill="#333" fill-opacity="0.22"/><rect x="46.1" y="75.1" width="0.84" height="0.84" fill="#333" fill-opacity="0.41"/><rect x="43.4" y="67.2" width="0.83" height="0.83" fill="#333" fill-opacity="0.28"/><rect x="36.8" y="62.0" width="0.84" height="0.84" fill="#333" fill-opacity="0.16"/><rect x="35.8" y="73.1" width="0.64" height="0.64" fill="#333" fill-opacity="0.38"/><rect x="41.7" y="68.4" width="0.85" height="0.85" fill="#333" fill-opacity="0.52"/><rect x="38.5" y="63.7" width="0.68" height="0.68" fill="#333" fill-opacity="0.44"/><rect x="43.1" y="74.7" width="0.85" height="0.85" fill="#333" fill-opacity="0.54"/><rect x="43.7" y="66.2" width="0.61" height="0.61" fill="#333" fill-opacity="0.27"/><rect x="32.9" y="65.0" width="0.73" height="0.73" fill="#333" fill-opacity="0.40"/><rect x="40.0" y="69.8" width="0.89" height="0.89" fill="#333" fill-opacity="0.26"/><rect x="48.9" y="65.3" width="0.59" height="0.59" fill="#333" fill-opacity="0.42"/><rect x="43.9" y="68.7" width="0.58" height="0.58" fill="#333" fill-opacity="0.16"/><rect x="49.3" y="67.9" width="0.54" height="0.54" fill="#333" fill-opacity="0.24"/><rect x="43.6" y="68.7" width="0.63" height="0.63" fill="#333" fill-opacity="0.20"/><rect x="44.8" y="71.1" width="0.55" height="0.55" fill="#333" fill-opacity="0.40"/><rect x="48.5" y="74.0" width="0.75" height="0.75" fill="#333" fill-opacity="0.26"/><rect x="41.1" y="74.9" width="0.61" height="0.61" fill="#333" fill-opacity="0.15"/><rect x="45.5" y="66.0" width="0.58" height="0.58" fill="#333" fill-opacity="0.40"/><rect x="46.9" y="71.3" width="0.51" height="0.51" fill="#333" fill-opacity="0.33"/><rect x="37.6" y="67.8" width="0.80" height="0.80" fill="#333" fill-opacity="0.29"/><rect x="46.7" y="65.8" width="0.81" height="0.81" fill="#333" fill-opacity="0.27"/><rect x="43.1" y="63.6" width="0.64" height="0.64" fill="#333" fill-opacity="0.40"/><rect x="41.8" y="63.2" width="0.62" height="0.62" fill="#333" fill-opacity="0.49"/><rect x="52.0" y="72.0" width="0.82" height="0.82" fill="#333" fill-opacity="0.38"/><rect x="42.6" y="61.4" width="0.85" height="0.85" fill="#333" fill-opacity="0.29"/><rect x="39.0" y="65.7" width="0.54" height="0.54" fill="#333" fill-opacity="0.22"/><rect x="43.3" y="72.3" width="0.75" height="0.75" fill="#333" fill-opacity="0.28"/><rect x="49.0" y="67.3" width="0.50" height="0.50" fill="#333" fill-opacity="0.42"/><rect x="40.7" y="63.7" width="0.64" height="0.64" fill="#333" fill-opacity="0.46"/><rect x="39.1" y="64.6" width="0.67" height="0.67" fill="#333" fill-opacity="0.46"/><rect x="47.4" y="61.1" width="0.70" height="0.70" fill="#333" fill-opacity="0.36"/><rect x="41.1" y="63.7" width="0.87" height="0.87" fill="#333" fill-opacity="0.54"/><rect x="35.2" y="68.7" width="0.86" height="0.86" fill="#333" fill-opacity="0.19"/><rect x="42.0" y="67.9" width="0.84" height="0.84" fill="#333" fill-opacity="0.15"/><rect x="44.2" y="62.9" width="0.60" height="0.60" fill="#333" fill-opacity="0.31"/><rect x="32.0" y="69.5" width="0.52" height="0.52" fill="#333" fill-opacity="0.40"/><rect x="43.4" y="70.3" width="0.84" height="0.84" fill="#333" fill-opacity="0.50"/><rect x="47.5" y="66.6" width="0.52" height="0.52" fill="#333" fill-opacity="0.28"/><rect x="42.7" y="72.5" width="0.64" height="0.64" fill="#333" fill-opacity="0.31"/><rect x="41.4" y="60.4" width="0.83" height="0.83" fill="#333" fill-opacity="0.30"/><rect x="41.8" y="71.8" width="0.54" height="0.54" fill="#333" fill-opacity="0.47"/><rect x="56.7" y="74.6" width="0.66" height="0.66" fill="#333" fill-opacity="0.34"/><rect x="44.2" y="59.8" width="0.82" height="0.82" fill="#333" fill-opacity="0.30"/><rect x="50.0" y="75.0" width="0.65" height="0.65" fill="#333" fill-opacity="0.32"/><rect x="44.7" y="68.8" width="0.55" height="0.55" fill="#333" fill-opacity="0.31"/><rect x="33.8" y="56.6" width="0.80" height="0.80" fill="#333" fill-opacity="0.27"/><rect x="36.8" y="65.6" width="0.69" height="0.69" fill="#333" fill-opacity="0.46"/><rect x="44.2" y="66.4" width="0.71" height="0.71" fill="#333" fill-opacity="0.42"/><rect x="44.0" y="71.5" width="0.75" height="0.75" fill="#333" fill-opacity="0.53"/><rect x="36.9" y="68.7" width="0.75" height="0.75" fill="#333" fill-opacity="0.49"/><rect x="44.9" y="78.4" width="0.81" height="0.81" fill="#333" fill-opacity="0.49"/><rect x="40.9" y="62.5" width="0.89" height="0.89" fill="#333" fill-opacity="0.28"/><rect x="42.1" y="66.2" width="0.67" height="0.67" fill="#333" fill-opacity="0.47"/><rect x="52.4" y="71.8" width="0.67" height="0.67" fill="#333" fill-opacity="0.24"/><rect x="47.8" y="71.5" width="0.83" height="0.83" fill="#333" fill-opacity="0.37"/><rect x="52.8" y="66.1" width="0.66" height="0.66" fill="#333" fill-opacity="0.42"/><rect x="46.1" y="67.5" width="0.73" height="0.73" fill="#333" fill-opacity="0.28"/><rect x="38.4" y="72.6" width="0.60" height="0.60" fill="#333" fill-opacity="0.20"/><rect x="48.1" y="69.2" width="0.83" height="0.83" fill="#333" fill-opacity="0.25"/><rect x="42.7" y="71.3" width="0.58" height="0.58" fill="#333" fill-opacity="0.44"/><rect x="46.1" y="64.2" width="0.78" height="0.78" fill="#333" fill-opacity="0.21"/><rect x="47.1" y="68.5" width="0.72" height="0.72" fill="#333" fill-opacity="0.37"/><rect x="56.9" y="64.8" width="0.65" height="0.65" fill="#333" fill-opacity="0.17"/><rect x="44.6" y="64.5" width="0.73" height="0.73" fill="#333" fill-opacity="0.35"/><rect x="44.2" y="68.7" width="0.66" height="0.66" fill="#333" fill-opacity="0.51"/><rect x="36.8" y="70.4" width="0.86" height="0.86" fill="#333" fill-opacity="0.45"/><rect x="48.9" y="71.6" width="0.72" height="0.72" fill="#333" fill-opacity="0.15"/><rect x="45.1" y="64.2" width="0.84" height="0.84" fill="#333" fill-opacity="0.30"/><rect x="38.9" y="59.9" width="0.62" height="0.62" fill="#333" fill-opacity="0.37"/><rect x="40.8" y="64.1" width="0.55" height="0.55" fill="#333" fill-opacity="0.15"/><rect x="49.8" y="67.1" width="0.80" height="0.80" fill="#333" fill-opacity="0.16"/><rect x="42.9" y="67.3" width="0.57" height="0.57" fill="#333" fill-opacity="0.55"/><rect x="34.9" y="68.3" width="0.64" height="0.64" fill="#333" fill-opacity="0.35"/><rect x="35.8" y="69.4" width="0.85" height="0.85" fill="#333" fill-opacity="0.53"/><rect x="51.8" y="68.1" width="0.64" height="0.64" fill="#333" fill-opacity="0.34"/><rect x="52.3" y="63.5" width="0.81" height="0.81" fill="#333" fill-opacity="0.27"/><rect x="41.8" y="69.8" width="0.86" height="0.86" fill="#333" fill-opacity="0.34"/><rect x="33.8" y="67.0" width="0.82" height="0.82" fill="#333" fill-opacity="0.49"/><rect x="39.5" y="77.4" width="0.70" height="0.70" fill="#333" fill-opacity="0.18"/><rect x="47.1" y="70.7" width="0.83" height="0.83" fill="#333" fill-opacity="0.50"/><rect x="49.2" y="68.4" width="0.57" height="0.57" fill="#333" fill-opacity="0.36"/><rect x="32.0" y="69.5" width="0.84" height="0.84" fill="#333" fill-opacity="0.29"/><rect x="39.8" y="75.7" width="0.89" height="0.89" fill="#333" fill-opacity="0.23"/><rect x="44.3" y="69.8" width="0.81" height="0.81" fill="#333" fill-opacity="0.38"/><rect x="41.6" y="64.4" width="0.58" height="0.58" fill="#333" fill-opacity="0.44"/><rect x="40.9" y="71.7" width="0.52" height="0.52" fill="#333" fill-opacity="0.24"/><rect x="44.2" y="73.7" width="0.63" height="0.63" fill="#333" fill-opacity="0.39"/><rect x="39.4" y="66.2" width="0.51" height="0.51" fill="#333" fill-opacity="0.47"/><rect x="44.3" y="59.7" width="0.75" height="0.75" fill="#333" fill-opacity="0.38"/><rect x="45.6" y="68.3" width="0.70" height="0.70" fill="#333" fill-opacity="0.19"/><rect x="41.8" y="63.5" width="0.67" height="0.67" fill="#333" fill-opacity="0.34"/><rect x="32.9" y="70.7" width="0.76" height="0.76" fill="#333" fill-opacity="0.18"/><rect x="50.8" y="73.0" width="0.82" height="0.82" fill="#333" fill-opacity="0.25"/><rect x="39.8" y="74.0" width="0.88" height="0.88" fill="#333" fill-opacity="0.35"/><rect x="36.9" y="69.5" width="0.60" height="0.60" fill="#333" fill-opacity="0.35"/><rect x="47.1" y="67.2" width="0.58" height="0.58" fill="#333" fill-opacity="0.21"/><rect x="40.7" y="59.7" width="0.88" height="0.88" fill="#333" fill-opacity="0.39"/><rect x="44.5" y="77.2" width="0.59" height="0.59" fill="#333" fill-opacity="0.46"/><rect x="47.2" y="71.0" width="0.70" height="0.70" fill="#333" fill-opacity="0.32"/><rect x="42.2" y="65.6" width="0.63" height="0.63" fill="#333" fill-opacity="0.25"/><rect x="45.7" y="72.4" width="0.61" height="0.61" fill="#333" fill-opacity="0.39"/><rect x="48.1" y="73.7" width="0.84" height="0.84" fill="#333" fill-opacity="0.18"/><rect x="40.1" y="66.6" width="0.84" height="0.84" fill="#333" fill-opacity="0.15"/><rect x="51.1" y="69.6" width="0.78" height="0.78" fill="#333" fill-opacity="0.36"/><rect x="79.0" y="77.2" width="0.74" height="0.74" fill="#333" fill-opacity="0.12"/><rect x="83.9" y="69.8" width="0.60" height="0.60" fill="#333" fill-opacity="0.11"/><rect x="77.8" y="67.2" width="0.64" height="0.64" fill="#333" fill-opacity="0.18"/><rect x="70.8" y="71.2" width="0.65" height="0.65" fill="#333" fill-opacity="0.24"/><rect x="72.6" y="76.1" width="0.54" height="0.54" fill="#333" fill-opacity="0.12"/><rect x="72.7" y="73.4" width="0.74" height="0.74" fill="#333" fill-opacity="0.13"/><rect x="75.1" y="75.9" width="0.52" height="0.52" fill="#333" fill-opacity="0.17"/><rect x="78.4" y="77.5" width="0.70" height="0.70" fill="#333" fill-opacity="0.09"/><rect x="68.3" y="73.7" width="0.55" height="0.55" fill="#333" fill-opacity="0.08"/><rect x="86.7" y="74.8" width="0.59" height="0.59" fill="#333" fill-opacity="0.12"/><rect x="69.8" y="70.3" width="0.87" height="0.87" fill="#333" fill-opacity="0.25"/><rect x="75.3" y="68.0" width="0.68" height="0.68" fill="#333" fill-opacity="0.12"/><rect x="74.2" y="73.5" width="0.61" height="0.61" fill="#333" fill-opacity="0.11"/><rect x="75.1" y="72.8" width="0.88" height="0.88" fill="#333" fill-opacity="0.13"/><rect x="80.3" y="66.3" width="0.88" height="0.88" fill="#333" fill-opacity="0.24"/><rect x="77.6" y="71.7" width="0.71" height="0.71" fill="#333" fill-opacity="0.14"/><rect x="77.4" y="71.0" width="0.82" height="0.82" fill="#333" fill-opacity="0.20"/><rect x="77.8" y="69.7" width="0.69" height="0.69" fill="#333" fill-opacity="0.19"/><rect x="76.5" y="68.7" width="0.50" height="0.50" fill="#333" fill-opacity="0.19"/><rect x="82.2" y="71.9" width="0.67" height="0.67" fill="#333" fill-opacity="0.14"/><rect x="69.9" y="73.4" width="0.85" height="0.85" fill="#333" fill-opacity="0.14"/><rect x="68.7" y="73.4" width="0.83" height="0.83" fill="#333" fill-opacity="0.12"/><rect x="69.0" y="63.8" width="0.82" height="0.82" fill="#333" fill-opacity="0.25"/><rect x="84.8" y="75.4" width="0.55" height="0.55" fill="#333" fill-opacity="0.24"/><rect x="86.6" y="72.8" width="0.77" height="0.77" fill="#333" fill-opacity="0.14"/><rect x="82.0" y="62.3" width="0.84" height="0.84" fill="#333" fill-opacity="0.17"/><rect x="84.7" y="67.4" width="0.87" height="0.87" fill="#333" fill-opacity="0.14"/><rect x="36.4" y="74.4" width="0.54" height="0.54" fill="#333" fill-opacity="0.09"/><rect x="54.9" y="65.6" width="0.69" height="0.69" fill="#333" fill-opacity="0.23"/><rect x="43.2" y="60.6" width="0.63" height="0.63" fill="#333" fill-opacity="0.11"/><rect x="41.1" y="65.9" width="0.52" height="0.52" fill="#333" fill-opacity="0.27"/><rect x="44.3" y="65.1" width="0.78" height="0.78" fill="#333" fill-opacity="0.10"/><rect x="41.2" y="70.7" width="0.77" height="0.77" fill="#333" fill-opacity="0.11"/><rect x="53.2" y="69.9" width="0.60" height="0.60" fill="#333" fill-opacity="0.27"/><rect x="46.4" y="67.7" width="0.52" height="0.52" fill="#333" fill-opacity="0.12"/><rect x="43.4" y="60.0" width="0.83" height="0.83" fill="#333" fill-opacity="0.23"/><rect x="44.2" y="65.7" width="0.51" height="0.51" fill="#333" fill-opacity="0.17"/><rect x="47.8" y="62.5" width="0.86" height="0.86" fill="#333" fill-opacity="0.17"/><rect x="58.6" y="68.5" width="0.85" height="0.85" fill="#333" fill-opacity="0.16"/><rect x="48.9" y="65.0" width="0.88" height="0.88" fill="#333" fill-opacity="0.17"/><rect x="67.1" y="67.5" width="0.57" height="0.57" fill="#333" fill-opacity="0.18"/><rect x="50.3" y="66.0" width="0.66" height="0.66" fill="#333" fill-opacity="0.20"/><rect x="50.5" y="63.5" width="0.84" height="0.84" fill="#333" fill-opacity="0.16"/><rect x="39.7" y="44.2" width="0.55" height="0.55" fill="#333" fill-opacity="0.10"/><rect x="39.8" y="61.6" width="0.69" height="0.69" fill="#333" fill-opacity="0.26"/><rect x="55.9" y="71.3" width="0.82" height="0.82" fill="#333" fill-opacity="0.13"/><rect x="52.2" y="56.0" width="0.73" height="0.73" fill="#333" fill-opacity="0.10"/><rect x="53.8" y="87.3" width="0.76" height="0.76" fill="#333" fill-opacity="0.11"/><rect x="43.6" y="64.4" width="0.55" height="0.55" fill="#333" fill-opacity="0.20"/><rect x="52.7" y="70.9" width="0.68" height="0.68" fill="#333" fill-opacity="0.10"/><rect x="35.1" y="54.6" width="0.69" height="0.69" fill="#333" fill-opacity="0.13"/><rect x="41.8" y="63.3" width="0.65" height="0.65" fill="#333" fill-opacity="0.14"/><rect x="49.8" y="63.3" width="0.56" height="0.56" fill="#333" fill-opacity="0.23"/><rect x="42.0" y="74.4" width="0.56" height="0.56" fill="#333" fill-opacity="0.13"/><rect x="30.5" y="76.8" width="0.90" height="0.90" fill="#333" fill-opacity="0.21"/><rect x="41.6" y="74.5" width="0.70" height="0.70" fill="#333" fill-opacity="0.13"/><rect x="57.9" y="77.9" width="0.52" height="0.52" fill="#333" fill-opacity="0.16"/><rect x="34.4" y="68.7" width="0.62" height="0.62" fill="#333" fill-opacity="0.12"/><rect x="38.9" y="65.7" width="0.63" height="0.63" fill="#333" fill-opacity="0.09"/><rect x="45.6" y="76.3" width="0.61" height="0.61" fill="#333" fill-opacity="0.17"/><rect x="56.9" y="82.8" width="0.79" height="0.79" fill="#333" fill-opacity="0.27"/><rect x="56.7" y="65.1" width="0.68" height="0.68" fill="#333" fill-opacity="0.23"/><rect x="34.9" y="57.4" width="0.82" height="0.82" fill="#333" fill-opacity="0.22"/><rect x="38.0" y="64.8" width="0.86" height="0.86" fill="#333" fill-opacity="0.24"/><rect x="45.6" y="73.2" width="0.60" height="0.60" fill="#333" fill-opacity="0.08"/><rect x="47.8" y="73.3" width="0.63" height="0.63" fill="#333" fill-opacity="0.11"/><rect x="57.4" y="84.6" width="0.51" height="0.51" fill="#333" fill-opacity="0.09"/><rect x="53.6" y="65.7" width="0.63" height="0.63" fill="#333" fill-opacity="0.23"/><rect x="47.8" y="69.2" width="0.52" height="0.52" fill="#333" fill-opacity="0.26"/><rect x="37.7" y="70.9" width="0.65" height="0.65" fill="#333" fill-opacity="0.21"/><rect x="47.5" y="64.5" width="0.89" height="0.89" fill="#333" fill-opacity="0.19"/><rect x="64.6" y="73.4" width="0.90" height="0.90" fill="#333" fill-opacity="0.16"/><rect x="42.6" y="63.9" width="0.57" height="0.57" fill="#333" fill-opacity="0.23"/><rect x="28.8" y="67.0" width="0.52" height="0.52" fill="#333" fill-opacity="0.11"/><rect x="48.5" y="65.2" width="0.69" height="0.69" fill="#333" fill-opacity="0.23"/><rect x="51.8" y="82.0" width="0.61" height="0.61" fill="#333" fill-opacity="0.15"/><rect x="69.1" y="56.5" width="0.89" height="0.89" fill="#333" fill-opacity="0.15"/><rect x="58.8" y="76.8" width="0.60" height="0.60" fill="#333" fill-opacity="0.20"/><rect x="38.0" y="72.7" width="0.67" height="0.67" fill="#333" fill-opacity="0.21"/><rect x="31.7" y="73.5" width="0.53" height="0.53" fill="#333" fill-opacity="0.15"/><rect x="45.5" y="74.5" width="0.57" height="0.57" fill="#333" fill-opacity="0.26"/><rect x="53.2" y="67.5" width="0.79" height="0.79" fill="#333" fill-opacity="0.12"/><rect x="53.7" y="64.0" width="0.55" height="0.55" fill="#333" fill-opacity="0.13"/><rect x="60.6" y="69.5" width="0.63" height="0.63" fill="#333" fill-opacity="0.23"/><rect x="28.2" y="71.0" width="0.77" height="0.77" fill="#333" fill-opacity="0.22"/><rect x="51.5" y="66.4" width="0.75" height="0.75" fill="#333" fill-opacity="0.27"/><rect x="38.6" y="78.6" width="0.66" height="0.66" fill="#333" fill-opacity="0.14"/><rect x="53.0" y="57.6" width="0.82" height="0.82" fill="#333" fill-opacity="0.20"/><rect x="51.6" y="63.8" width="0.88" height="0.88" fill="#333" fill-opacity="0.10"/><rect x="55.1" y="71.8" width="0.72" height="0.72" fill="#333" fill-opacity="0.10"/><rect x="45.5" y="67.2" width="0.66" height="0.66" fill="#333" fill-opacity="0.18"/><rect x="34.6" y="55.9" width="0.52" height="0.52" fill="#333" fill-opacity="0.21"/><rect x="38.3" y="75.2" width="0.84" height="0.84" fill="#333" fill-opacity="0.11"/><rect x="39.0" y="74.1" width="0.71" height="0.71" fill="#333" fill-opacity="0.12"/><rect x="46.7" y="65.8" width="0.62" height="0.62" fill="#333" fill-opacity="0.18"/><rect x="54.3" y="71.7" width="0.75" height="0.75" fill="#333" fill-opacity="0.21"/><rect x="60.6" y="68.7" width="0.79" height="0.79" fill="#333" fill-opacity="0.27"/><rect x="36.5" y="55.3" width="0.80" height="0.80" fill="#333" fill-opacity="0.25"/><rect x="41.2" y="74.0" width="0.51" height="0.51" fill="#333" fill-opacity="0.25"/><rect x="30.3" y="77.5" width="0.70" height="0.70" fill="#333" fill-opacity="0.14"/><rect x="36.8" y="77.2" width="0.52" height="0.52" fill="#333" fill-opacity="0.25"/><rect x="28.4" y="76.4" width="0.89" height="0.89" fill="#333" fill-opacity="0.16"/><rect x="43.4" y="77.2" width="0.85" height="0.85" fill="#333" fill-opacity="0.11"/><rect x="42.0" y="63.9" width="0.53" height="0.53" fill="#333" fill-opacity="0.25"/><rect x="60.6" y="63.5" width="0.73" height="0.73" fill="#333" fill-opacity="0.13"/><rect x="38.5" y="75.4" width="0.68" height="0.68" fill="#333" fill-opacity="0.27"/><rect x="42.4" y="68.0" width="0.69" height="0.69" fill="#333" fill-opacity="0.09"/><rect x="44.0" y="70.5" width="0.76" height="0.76" fill="#333" fill-opacity="0.23"/><rect x="47.3" y="73.6" width="0.86" height="0.86" fill="#333" fill-opacity="0.17"/><rect x="39.8" y="62.5" width="0.64" height="0.64" fill="#333" fill-opacity="0.19"/><rect x="40.0" y="71.7" width="0.51" height="0.51" fill="#333" fill-opacity="0.22"/><rect x="40.7" y="68.5" width="0.80" height="0.80" fill="#333" fill-opacity="0.11"/><rect x="52.8" y="62.7" width="0.78" height="0.78" fill="#333" fill-opacity="0.27"/><rect x="31.7" y="66.7" width="0.54" height="0.54" fill="#333" fill-opacity="0.08"/><rect x="44.9" y="62.2" width="0.60" height="0.60" fill="#333" fill-opacity="0.27"/><rect x="43.6" y="73.7" width="0.72" height="0.72" fill="#333" fill-opacity="0.27"/><rect x="44.9" y="71.6" width="0.51" height="0.51" fill="#333" fill-opacity="0.20"/><rect x="48.8" y="65.9" width="0.85" height="0.85" fill="#333" fill-opacity="0.23"/><rect x="41.8" y="78.0" width="0.68" height="0.68" fill="#333" fill-opacity="0.22"/><rect x="44.5" y="78.0" width="0.73" height="0.73" fill="#333" fill-opacity="0.08"/><rect x="54.9" y="67.7" width="0.63" height="0.63" fill="#333" fill-opacity="0.23"/><rect x="37.8" y="73.9" width="0.63" height="0.63" fill="#333" fill-opacity="0.26"/><rect x="57.1" y="71.5" width="0.74" height="0.74" fill="#333" fill-opacity="0.20"/><rect x="36.8" y="70.1" width="0.60" height="0.60" fill="#333" fill-opacity="0.22"/><rect x="44.6" y="73.4" width="0.58" height="0.58" fill="#333" fill-opacity="0.09"/><rect x="40.4" y="62.7" width="0.59" height="0.59" fill="#333" fill-opacity="0.17"/><rect x="44.2" y="79.6" width="0.56" height="0.56" fill="#333" fill-opacity="0.27"/><rect x="35.6" y="52.5" width="0.86" height="0.86" fill="#333" fill-opacity="0.19"/><line x1="27.0" x2="113.8" y1="78.2" y2="78.2" stroke="#262626" stroke-width="0.9"/><line x1="66.6" x2="66.6" y1="19.5" y2="97.5" stroke="#262626" stroke-width="0.9"/><text transform="translate(21.0,58.8) rotate(-90)" text-anchor="middle" font-size="9.85" font-weight="bold" font-family="Liberation Sans, sans-serif">HIV-multimer</text><text x="69.9" y="110.7" text-anchor="middle" font-size="9.6" font-weight="bold" font-family="Liberation Sans, sans-serif">CFSE</text><text x="20.9" y="142.3" font-size="11.4" font-weight="bold" font-family="Liberation Sans, sans-serif">CD45RO</text><text x="67.4" y="138.8" font-size="6.6" font-weight="bold" font-family="Liberation Sans, sans-serif">+</text><text x="74.6" y="142.3" font-size="11.4" font-weight="bold" font-family="Liberation Sans, sans-serif">Fraction</text><rect x="27.0" y="149.4" width="86.8" height="77.9" fill="#fff" stroke="#8a8a8a" stroke-width="0.8"/><ellipse cx="84.9" cy="217.6" rx="9.0" ry="8.9" fill="#acacac" filter="url(#bl)"/><rect x="54.2" y="215.2" width="0.7" height="0.7" fill="#444" fill-opacity="0.18"/><rect x="31.3" y="214.7" width="0.7" height="0.7" fill="#444" fill-opacity="0.07"/><rect x="62.9" y="218.9" width="0.7" height="0.7" fill="#444" fill-opacity="0.13"/><rect x="46.0" y="213.8" width="0.7" height="0.7" fill="#444" fill-opacity="0.05"/><rect x="43.5" y="214.7" width="0.7" height="0.7" fill="#444" fill-opacity="0.11"/><rect x="53.2" y="212.3" width="0.7" height="0.7" fill="#444" fill-opacity="0.08"/><rect x="32.7" y="222.2" width="0.7" height="0.7" fill="#444" fill-opacity="0.18"/><rect x="34.8" y="212.5" width="0.7" height="0.7" fill="#444" fill-opacity="0.07"/><rect x="42.9" y="217.7" width="0.7" height="0.7" fill="#444" fill-opacity="0.17"/><rect x="35.2" y="213.1" width="0.7" height="0.7" fill="#444" fill-opacity="0.17"/><rect x="32.8" y="224.5" width="0.7" height="0.7" fill="#444" fill-opacity="0.17"/><rect x="58.2" y="211.4" width="0.7" height="0.7" fill="#444" fill-opacity="0.12"/><rect x="57.7" y="217.1" width="0.7" height="0.7" fill="#444" fill-opacity="0.08"/><rect x="51.9" y="221.4" width="0.7" height="0.7" fill="#444" fill-opacity="0.14"/><rect x="35.0" y="209.3" width="0.7" height="0.7" fill="#444" fill-opacity="0.09"/><rect x="55.0" y="216.9" width="0.7" height="0.7" fill="#444" fill-opacity="0.18"/><rect x="38.3" y="222.9" width="0.7" height="0.7" fill="#444" fill-opacity="0.06"/><rect x="36.4" y="209.1" width="0.7" height="0.7" fill="#444" fill-opacity="0.14"/><rect x="64.1" y="214.4" width="0.7" height="0.7" fill="#444" fill-opacity="0.09"/><rect x="32.3" y="212.0" width="0.7" height="0.7" fill="#444" fill-opacity="0.09"/><rect x="33.2" y="218.4" width="0.7" height="0.7" fill="#444" fill-opacity="0.10"/><rect x="30.6" y="220.7" width="0.7" height="0.7" fill="#444" fill-opacity="0.11"/><rect x="43.0" y="223.7" width="0.7" height="0.7" fill="#444" fill-opacity="0.09"/><rect x="58.7" y="210.5" width="0.7" height="0.7" fill="#444" fill-opacity="0.17"/><rect x="31.7" y="223.7" width="0.7" height="0.7" fill="#444" fill-opacity="0.18"/><rect x="41.2" y="218.3" width="0.7" height="0.7" fill="#444" fill-opacity="0.13"/><rect x="60.1" y="213.1" width="0.7" height="0.7" fill="#444" fill-opacity="0.14"/><rect x="44.2" y="208.3" width="0.7" height="0.7" fill="#444" fill-opacity="0.14"/><rect x="62.6" y="216.1" width="0.7" height="0.7" fill="#444" fill-opacity="0.10"/><rect x="48.7" y="225.5" width="0.7" height="0.7" fill="#444" fill-opacity="0.13"/><rect x="58.8" y="221.9" width="0.7" height="0.7" fill="#444" fill-opacity="0.05"/><rect x="52.6" y="225.7" width="0.7" height="0.7" fill="#444" fill-opacity="0.13"/><rect x="36.1" y="218.3" width="0.7" height="0.7" fill="#444" fill-opacity="0.18"/><rect x="43.6" y="212.9" width="0.7" height="0.7" fill="#444" fill-opacity="0.17"/><rect x="55.7" y="214.4" width="0.7" height="0.7" fill="#444" fill-opacity="0.10"/><rect x="30.3" y="209.9" width="0.7" height="0.7" fill="#444" fill-opacity="0.16"/><rect x="57.3" y="220.3" width="0.7" height="0.7" fill="#444" fill-opacity="0.18"/><rect x="41.0" y="225.2" width="0.7" height="0.7" fill="#444" fill-opacity="0.14"/><rect x="28.6" y="216.7" width="0.7" height="0.7" fill="#444" fill-opacity="0.15"/><rect x="48.1" y="213.3" width="0.7" height="0.7" fill="#444" fill-opacity="0.18"/><rect x="45.2" y="214.4" width="0.7" height="0.7" fill="#444" fill-opacity="0.12"/><rect x="39.7" y="214.2" width="0.7" height="0.7" fill="#444" fill-opacity="0.14"/><rect x="28.7" y="210.6" width="0.7" height="0.7" fill="#444" fill-opacity="0.07"/><rect x="39.9" y="216.3" width="0.7" height="0.7" fill="#444" fill-opacity="0.06"/><rect x="61.9" y="209.5" width="0.7" height="0.7" fill="#444" fill-opacity="0.06"/><rect x="55.5" y="214.4" width="0.7" height="0.7" fill="#444" fill-opacity="0.08"/><rect x="49.8" y="208.2" width="0.7" height="0.7" fill="#444" fill-opacity="0.08"/><rect x="46.5" y="225.5" width="0.7" height="0.7" fill="#444" fill-opacity="0.10"/><rect x="56.0" y="219.4" width="0.7" height="0.7" fill="#444" fill-opacity="0.06"/><rect x="50.9" y="222.4" width="0.7" height="0.7" fill="#444" fill-opacity="0.17"/><rect x="50.0" y="217.5" width="0.7" height="0.7" fill="#444" fill-opacity="0.13"/><rect x="60.7" y="222.9" width="0.7" height="0.7" fill="#444" fill-opacity="0.16"/><rect x="65.1" y="215.1" width="0.7" height="0.7" fill="#444" fill-opacity="0.17"/><rect x="52.1" y="224.8" width="0.7" height="0.7" fill="#444" fill-opacity="0.14"/><rect x="53.0" y="221.4" width="0.7" height="0.7" fill="#444" fill-opacity="0.11"/><rect x="55.0" y="224.9" width="0.7" height="0.7" fill="#444" fill-opacity="0.07"/><rect x="51.1" y="219.0" width="0.7" height="0.7" fill="#444" fill-opacity="0.14"/><rect x="58.5" y="214.6" width="0.7" height="0.7" fill="#444" fill-opacity="0.06"/><rect x="39.7" y="224.7" width="0.7" height="0.7" fill="#444" fill-opacity="0.15"/><rect x="64.3" y="218.5" width="0.7" height="0.7" fill="#444" fill-opacity="0.17"/><rect x="42.3" y="218.2" width="0.7" height="0.7" fill="#444" fill-opacity="0.15"/><rect x="41.8" y="210.9" width="0.7" height="0.7" fill="#444" fill-opacity="0.07"/><rect x="48.8" y="213.1" width="0.7" height="0.7" fill="#444" fill-opacity="0.10"/><rect x="61.5" y="222.4" width="0.7" height="0.7" fill="#444" fill-opacity="0.06"/><rect x="49.3" y="217.1" width="0.7" height="0.7" fill="#444" fill-opacity="0.08"/><rect x="35.9" y="210.6" width="0.7" height="0.7" fill="#444" fill-opacity="0.15"/><rect x="62.7" y="215.7" width="0.7" height="0.7" fill="#444" fill-opacity="0.16"/><rect x="40.4" y="209.2" width="0.7" height="0.7" fill="#444" fill-opacity="0.16"/><rect x="42.9" y="214.4" width="0.7" height="0.7" fill="#444" fill-opacity="0.10"/><rect x="65.2" y="211.0" width="0.7" height="0.7" fill="#444" fill-opacity="0.06"/><rect x="91.8" y="196.3" width="0.7" height="0.7" fill="#444" fill-opacity="0.05"/><rect x="90.0" y="204.0" width="0.7" height="0.7" fill="#444" fill-opacity="0.12"/><rect x="75.1" y="175.1" width="0.7" height="0.7" fill="#444" fill-opacity="0.17"/><rect x="85.7" y="184.1" width="0.7" height="0.7" fill="#444" fill-opacity="0.09"/><rect x="108.3" y="185.4" width="0.7" height="0.7" fill="#444" fill-opacity="0.16"/><rect x="79.7" y="186.4" width="0.7" height="0.7" fill="#444" fill-opacity="0.05"/><rect x="93.5" y="182.4" width="0.7" height="0.7" fill="#444" fill-opacity="0.09"/><rect x="74.9" y="190.1" width="0.7" height="0.7" fill="#444" fill-opacity="0.15"/><rect x="107.2" y="192.9" width="0.7" height="0.7" fill="#444" fill-opacity="0.19"/><rect x="84.5" y="160.3" width="0.7" height="0.7" fill="#444" fill-opacity="0.13"/><rect x="82.4" y="187.6" width="0.7" height="0.7" fill="#444" fill-opacity="0.13"/><rect x="111.7" y="205.8" width="0.7" height="0.7" fill="#444" fill-opacity="0.16"/><rect x="82.6" y="175.1" width="0.7" height="0.7" fill="#444" fill-opacity="0.08"/><rect x="74.7" y="182.7" width="0.7" height="0.7" fill="#444" fill-opacity="0.15"/><rect x="88.0" y="182.7" width="0.7" height="0.7" fill="#444" fill-opacity="0.10"/><rect x="83.4" y="202.3" width="0.7" height="0.7" fill="#444" fill-opacity="0.11"/><rect x="68.0" y="187.9" width="0.7" height="0.7" fill="#444" fill-opacity="0.13"/><rect x="70.2" y="183.8" width="0.7" height="0.7" fill="#444" fill-opacity="0.17"/><rect x="79.2" y="175.6" width="0.7" height="0.7" fill="#444" fill-opacity="0.15"/><rect x="94.8" y="201.4" width="0.7" height="0.7" fill="#444" fill-opacity="0.09"/><rect x="86.6" y="168.0" width="0.7" height="0.7" fill="#444" fill-opacity="0.20"/><rect x="84.2" y="196.7" width="0.7" height="0.7" fill="#444" fill-opacity="0.13"/><rect x="71.4" y="201.5" width="0.7" height="0.7" fill="#444" fill-opacity="0.08"/><rect x="68.1" y="203.2" width="0.7" height="0.7" fill="#444" fill-opacity="0.09"/><rect x="69.3" y="165.9" width="0.7" height="0.7" fill="#444" fill-opacity="0.15"/><rect x="99.5" y="181.7" width="0.7" height="0.7" fill="#444" fill-opacity="0.12"/><rect x="79.6" y="201.7" width="0.7" height="0.7" fill="#444" fill-opacity="0.06"/><rect x="71.2" y="198.8" width="0.7" height="0.7" fill="#444" fill-opacity="0.18"/><rect x="100.8" y="205.8" width="0.7" height="0.7" fill="#444" fill-opacity="0.19"/><rect x="82.6" y="166.3" width="0.7" height="0.7" fill="#444" fill-opacity="0.14"/><ellipse cx="74" cy="217" rx="4" ry="4" fill="#999" fill-opacity="0.22" filter="url(#bl)"/><rect x="76.9" y="218.3" width="0.92" height="0.92" fill="#666" fill-opacity="0.14"/><rect x="79.0" y="218.3" width="0.65" height="0.65" fill="#666" fill-opacity="0.38"/><rect x="72.9" y="217.1" width="0.63" height="0.63" fill="#666" fill-opacity="0.19"/><rect x="72.6" y="217.9" width="0.92" height="0.92" fill="#666" fill-opacity="0.26"/><rect x="76.4" y="210.1" width="0.89" height="0.89" fill="#666" fill-opacity="0.21"/><rect x="76.0" y="214.7" width="0.80" height="0.80" fill="#666" fill-opacity="0.39"/><rect x="74.6" y="216.1" width="0.88" height="0.88" fill="#666" fill-opacity="0.29"/><rect x="78.1" y="214.9" width="0.78" height="0.78" fill="#666" fill-opacity="0.22"/><rect x="72.9" y="215.7" width="1.00" height="1.00" fill="#666" fill-opacity="0.21"/><rect x="74.5" y="222.5" width="0.69" height="0.69" fill="#666" fill-opacity="0.14"/><rect x="76.5" y="218.8" width="0.60" height="0.60" fill="#666" fill-opacity="0.17"/><rect x="76.5" y="215.8" width="0.66" height="0.66" fill="#666" fill-opacity="0.18"/><rect x="75.5" y="219.4" width="0.64" height="0.64" fill="#666" fill-opacity="0.25"/><rect x="72.9" y="215.8" width="0.69" height="0.69" fill="#666" fill-opacity="0.32"/><rect x="70.4" y="214.1" width="0.95" height="0.95" fill="#666" fill-opacity="0.17"/><rect x="72.5" y="214.7" width="0.77" height="0.77" fill="#666" fill-opacity="0.23"/><rect x="78.9" y="216.7" width="0.94" height="0.94" fill="#666" fill-opacity="0.13"/><rect x="69.0" y="215.5" width="0.73" height="0.73" fill="#666" fill-opacity="0.16"/><rect x="79.4" y="215.3" width="0.80" height="0.80" fill="#666" fill-opacity="0.29"/><rect x="74.0" y="220.3" width="0.78" height="0.78" fill="#666" fill-opacity="0.26"/><rect x="69.8" y="217.3" width="0.88" height="0.88" fill="#666" fill-opacity="0.38"/><rect x="74.5" y="215.3" width="0.74" height="0.74" fill="#666" fill-opacity="0.27"/><rect x="75.6" y="219.0" width="1.00" height="1.00" fill="#666" fill-opacity="0.36"/><rect x="72.9" y="217.5" width="0.66" height="0.66" fill="#666" fill-opacity="0.27"/><rect x="72.8" y="217.7" width="0.72" height="0.72" fill="#666" fill-opacity="0.29"/><rect x="73.4" y="219.2" width="0.90" height="0.90" fill="#666" fill-opacity="0.19"/><rect x="75.2" y="215.2" width="0.83" height="0.83" fill="#666" fill-opacity="0.15"/><rect x="73.5" y="218.7" width="0.85" height="0.85" fill="#666" fill-opacity="0.33"/><rect x="69.6" y="222.3" width="0.84" height="0.84" fill="#666" fill-opacity="0.27"/><rect x="69.2" y="215.4" width="0.67" height="0.67" fill="#666" fill-opacity="0.39"/><rect x="69.8" y="215.9" width="0.93" height="0.93" fill="#666" fill-opacity="0.35"/><rect x="75.5" y="217.6" width="0.72" height="0.72" fill="#666" fill-opacity="0.35"/><rect x="76.8" y="214.7" width="0.74" height="0.74" fill="#666" fill-opacity="0.27"/><rect x="76.9" y="217.8" width="0.67" height="0.67" fill="#666" fill-opacity="0.30"/><rect x="74.0" y="221.4" width="0.85" height="0.85" fill="#666" fill-opacity="0.28"/><rect x="77.2" y="221.6" width="0.99" height="0.99" fill="#666" fill-opacity="0.24"/><rect x="74.5" y="217.9" width="0.97" height="0.97" fill="#666" fill-opacity="0.35"/><rect x="73.9" y="220.6" width="0.85" height="0.85" fill="#666" fill-opacity="0.30"/><rect x="74.4" y="217.0" width="0.81" height="0.81" fill="#666" fill-opacity="0.15"/><rect x="73.1" y="218.8" width="0.74" height="0.74" fill="#666" fill-opacity="0.27"/><rect x="76.4" y="215.3" width="0.80" height="0.80" fill="#666" fill-opacity="0.36"/><rect x="78.4" y="218.0" width="0.68" height="0.68" fill="#666" fill-opacity="0.34"/><rect x="71.2" y="212.2" width="0.74" height="0.74" fill="#666" fill-opacity="0.18"/><rect x="77.4" y="210.2" width="0.80" height="0.80" fill="#666" fill-opacity="0.17"/><rect x="71.4" y="222.8" width="0.71" height="0.71" fill="#666" fill-opacity="0.36"/><rect x="71.3" y="216.5" width="0.91" height="0.91" fill="#666" fill-opacity="0.22"/><rect x="75.5" y="218.5" width="0.80" height="0.80" fill="#666" fill-opacity="0.32"/><rect x="72.0" y="217.7" width="0.80" height="0.80" fill="#666" fill-opacity="0.22"/><rect x="78.5" y="212.7" width="0.82" height="0.82" fill="#666" fill-opacity="0.33"/><rect x="72.2" y="213.0" width="0.92" height="0.92" fill="#666" fill-opacity="0.38"/><rect x="76.4" y="212.0" width="0.77" height="0.77" fill="#666" fill-opacity="0.28"/><rect x="68.2" y="219.4" width="0.67" height="0.67" fill="#666" fill-opacity="0.36"/><rect x="75.3" y="216.2" width="0.62" height="0.62" fill="#666" fill-opacity="0.23"/><rect x="77.0" y="217.6" width="0.68" height="0.68" fill="#666" fill-opacity="0.35"/><rect x="76.8" y="222.0" width="0.98" height="0.98" fill="#666" fill-opacity="0.34"/><rect x="75.1" y="214.6" width="0.72" height="0.72" fill="#666" fill-opacity="0.19"/><rect x="74.2" y="209.8" width="1.00" height="1.00" fill="#666" fill-opacity="0.23"/><rect x="74.8" y="214.1" width="0.75" height="0.75" fill="#666" fill-opacity="0.33"/><rect x="77.1" y="213.8" width="0.83" height="0.83" fill="#666" fill-opacity="0.30"/><rect x="71.2" y="220.3" width="0.68" height="0.68" fill="#666" fill-opacity="0.37"/><rect x="73.2" y="211.9" width="0.75" height="0.75" fill="#666" fill-opacity="0.27"/><rect x="72.2" y="218.8" width="0.65" height="0.65" fill="#666" fill-opacity="0.38"/><rect x="76.7" y="221.0" width="0.62" height="0.62" fill="#666" fill-opacity="0.35"/><rect x="71.9" y="223.6" width="0.87" height="0.87" fill="#666" fill-opacity="0.38"/><rect x="70.9" y="217.5" width="0.99" height="0.99" fill="#666" fill-opacity="0.35"/><rect x="69.8" y="215.9" width="0.93" height="0.93" fill="#666" fill-opacity="0.35"/><rect x="73.2" y="217.3" width="0.77" height="0.77" fill="#666" fill-opacity="0.39"/><rect x="72.4" y="212.6" width="0.62" height="0.62" fill="#666" fill-opacity="0.15"/><rect x="67.7" y="217.8" width="0.93" height="0.93" fill="#666" fill-opacity="0.28"/><rect x="72.3" y="220.8" width="0.72" height="0.72" fill="#666" fill-opacity="0.34"/><rect x="69.0" y="221.7" width="0.66" height="0.66" fill="#666" fill-opacity="0.19"/><rect x="71.8" y="218.3" width="0.76" height="0.76" fill="#666" fill-opacity="0.31"/><rect x="72.9" y="215.1" width="0.97" height="0.97" fill="#666" fill-opacity="0.33"/><rect x="73.3" y="220.9" width="0.62" height="0.62" fill="#666" fill-opacity="0.38"/><rect x="75.6" y="219.1" width="0.77" height="0.77" fill="#666" fill-opacity="0.24"/><rect x="76.3" y="217.2" width="0.75" height="0.75" fill="#666" fill-opacity="0.13"/><rect x="72.8" y="220.2" width="0.60" height="0.60" fill="#666" fill-opacity="0.29"/><rect x="73.6" y="212.4" width="0.80" height="0.80" fill="#666" fill-opacity="0.14"/><rect x="75.5" y="215.8" width="0.82" height="0.82" fill="#666" fill-opacity="0.35"/><rect x="73.2" y="212.1" width="0.79" height="0.79" fill="#666" fill-opacity="0.34"/><rect x="76.5" y="222.5" width="0.72" height="0.72" fill="#666" fill-opacity="0.14"/><rect x="75.2" y="214.4" width="0.98" height="0.98" fill="#666" fill-opacity="0.25"/><rect x="76.0" y="212.9" width="0.73" height="0.73" fill="#666" fill-opacity="0.32"/><rect x="70.3" y="212.2" width="0.75" height="0.75" fill="#666" fill-opacity="0.16"/><rect x="72.2" y="216.8" width="0.94" height="0.94" fill="#666" fill-opacity="0.38"/><rect x="76.9" y="218.0" width="0.61" height="0.61" fill="#666" fill-opacity="0.26"/><rect x="75.2" y="213.8" width="0.72" height="0.72" fill="#666" fill-opacity="0.18"/><rect x="76.2" y="220.8" width="0.78" height="0.78" fill="#666" fill-opacity="0.40"/><rect x="79.1" y="219.3" width="0.78" height="0.78" fill="#666" fill-opacity="0.34"/><rect x="73.2" y="214.9" width="1.00" height="1.00" fill="#666" fill-opacity="0.35"/><rect x="75.2" y="220.1" width="0.65" height="0.65" fill="#666" fill-opacity="0.21"/><rect x="76.1" y="218.9" width="0.83" height="0.83" fill="#666" fill-opacity="0.12"/><rect x="75.1" y="220.9" width="0.92" height="0.92" fill="#666" fill-opacity="0.38"/><rect x="74.3" y="218.2" width="0.60" height="0.60" fill="#666" fill-opacity="0.30"/><rect x="72.7" y="217.3" width="0.79" height="0.79" fill="#666" fill-opacity="0.29"/><rect x="69.6" y="216.5" width="0.74" height="0.74" fill="#666" fill-opacity="0.22"/><rect x="73.3" y="218.3" width="0.70" height="0.70" fill="#666" fill-opacity="0.17"/><rect x="73.5" y="217.3" width="0.92" height="0.92" fill="#666" fill-opacity="0.36"/><rect x="79.4" y="215.9" width="0.88" height="0.88" fill="#666" fill-opacity="0.13"/><rect x="77.6" y="211.3" width="0.97" height="0.97" fill="#666" fill-opacity="0.34"/><rect x="71.9" y="215.1" width="0.86" height="0.86" fill="#666" fill-opacity="0.24"/><rect x="70.6" y="213.7" width="0.74" height="0.74" fill="#666" fill-opacity="0.14"/><rect x="74.9" y="212.1" width="0.80" height="0.80" fill="#666" fill-opacity="0.24"/><rect x="75.6" y="221.9" width="0.70" height="0.70" fill="#666" fill-opacity="0.34"/><rect x="73.0" y="220.3" width="0.61" height="0.61" fill="#666" fill-opacity="0.33"/><rect x="75.4" y="212.5" width="0.94" height="0.94" fill="#666" fill-opacity="0.23"/><rect x="75.4" y="217.1" width="0.70" height="0.70" fill="#666" fill-opacity="0.30"/><rect x="74.1" y="218.4" width="0.94" height="0.94" fill="#666" fill-opacity="0.34"/><rect x="73.2" y="216.7" width="0.89" height="0.89" fill="#666" fill-opacity="0.33"/><rect x="73.0" y="218.7" width="0.71" height="0.71" fill="#666" fill-opacity="0.21"/><rect x="77.7" y="224.1" width="0.80" height="0.80" fill="#666" fill-opacity="0.33"/><rect x="73.3" y="218.5" width="0.74" height="0.74" fill="#666" fill-opacity="0.28"/><rect x="74.0" y="215.1" width="0.81" height="0.81" fill="#666" fill-opacity="0.24"/><rect x="72.0" y="215.3" width="0.92" height="0.92" fill="#666" fill-opacity="0.21"/><rect x="72.6" y="213.0" width="0.70" height="0.70" fill="#666" fill-opacity="0.27"/><rect x="75.2" y="216.8" width="0.62" height="0.62" fill="#666" fill-opacity="0.26"/><rect x="78.7" y="218.3" width="0.75" height="0.75" fill="#666" fill-opacity="0.28"/><rect x="74.3" y="216.3" width="0.99" height="0.99" fill="#666" fill-opacity="0.22"/><rect x="75.3" y="213.3" width="0.97" height="0.97" fill="#666" fill-opacity="0.33"/><rect x="73.1" y="218.0" width="0.81" height="0.81" fill="#666" fill-opacity="0.35"/><rect x="76.9" y="213.5" width="0.61" height="0.61" fill="#666" fill-opacity="0.19"/><rect x="71.3" y="215.2" width="0.88" height="0.88" fill="#666" fill-opacity="0.22"/><rect x="70.2" y="221.2" width="0.61" height="0.61" fill="#666" fill-opacity="0.14"/><rect x="72.8" y="218.5" width="0.86" height="0.86" fill="#666" fill-opacity="0.37"/><ellipse cx="52" cy="197" rx="13" ry="7.5" fill="#777" fill-opacity="0.10" filter="url(#bl2)"/><rect x="58.1" y="202.0" width="0.62" height="0.62" fill="#333" fill-opacity="0.15"/><rect x="58.9" y="199.9" width="0.79" height="0.79" fill="#333" fill-opacity="0.19"/><rect x="57.5" y="196.8" width="0.75" height="0.75" fill="#333" fill-opacity="0.25"/><rect x="55.1" y="196.8" width="0.66" height="0.66" fill="#333" fill-opacity="0.31"/><rect x="38.8" y="196.9" width="0.65" height="0.65" fill="#333" fill-opacity="0.32"/><rect x="56.4" y="190.3" width="0.58" height="0.58" fill="#333" fill-opacity="0.17"/><rect x="56.9" y="206.5" width="0.56" height="0.56" fill="#333" fill-opacity="0.38"/><rect x="49.2" y="195.8" width="0.77" height="0.77" fill="#333" fill-opacity="0.12"/><rect x="43.6" y="195.0" width="0.68" height="0.68" fill="#333" fill-opacity="0.24"/><rect x="47.0" y="200.1" width="0.53" height="0.53" fill="#333" fill-opacity="0.40"/><rect x="47.5" y="195.2" width="0.52" height="0.52" fill="#333" fill-opacity="0.22"/><rect x="59.2" y="202.9" width="0.67" height="0.67" fill="#333" fill-opacity="0.11"/><rect x="43.6" y="192.4" width="0.67" height="0.67" fill="#333" fill-opacity="0.13"/><rect x="44.9" y="205.8" width="0.74" height="0.74" fill="#333" fill-opacity="0.38"/><rect x="53.9" y="191.4" width="0.79" height="0.79" fill="#333" fill-opacity="0.41"/><rect x="55.9" y="194.9" width="0.77" height="0.77" fill="#333" fill-opacity="0.32"/><rect x="45.9" y="186.0" width="0.55" height="0.55" fill="#333" fill-opacity="0.17"/><rect x="46.4" y="195.5" width="0.86" height="0.86" fill="#333" fill-opacity="0.41"/><rect x="36.7" y="198.2" width="0.87" height="0.87" fill="#333" fill-opacity="0.30"/><rect x="46.5" y="195.8" width="0.61" height="0.61" fill="#333" fill-opacity="0.42"/><rect x="63.2" y="203.2" width="0.85" height="0.85" fill="#333" fill-opacity="0.31"/><rect x="57.9" y="190.1" width="0.81" height="0.81" fill="#333" fill-opacity="0.11"/><rect x="48.8" y="199.1" width="0.88" height="0.88" fill="#333" fill-opacity="0.20"/><rect x="48.2" y="202.6" width="0.78" height="0.78" fill="#333" fill-opacity="0.39"/><rect x="46.7" y="200.6" width="0.71" height="0.71" fill="#333" fill-opacity="0.28"/><rect x="50.1" y="189.2" width="0.85" height="0.85" fill="#333" fill-opacity="0.16"/><rect x="55.2" y="190.8" width="0.68" height="0.68" fill="#333" fill-opacity="0.15"/><rect x="56.4" y="193.7" width="0.78" height="0.78" fill="#333" fill-opacity="0.20"/><rect x="51.1" y="186.6" width="0.79" height="0.79" fill="#333" fill-opacity="0.23"/><rect x="52.3" y="198.7" width="0.59" height="0.59" fill="#333" fill-opacity="0.32"/><rect x="57.4" y="193.6" width="0.84" height="0.84" fill="#333" fill-opacity="0.21"/><rect x="50.8" y="198.4" width="0.55" height="0.55" fill="#333" fill-opacity="0.21"/><rect x="51.9" y="203.5" width="0.58" height="0.58" fill="#333" fill-opacity="0.28"/><rect x="56.8" y="197.0" width="0.61" height="0.61" fill="#333" fill-opacity="0.13"/><rect x="52.9" y="197.8" width="0.64" height="0.64" fill="#333" fill-opacity="0.30"/><rect x="59.0" y="201.2" width="0.53" height="0.53" fill="#333" fill-opacity="0.16"/><rect x="45.7" y="196.8" width="0.70" height="0.70" fill="#333" fill-opacity="0.21"/><rect x="63.6" y="196.7" width="0.62" height="0.62" fill="#333" fill-opacity="0.28"/><rect x="45.5" y="198.1" width="0.87" height="0.87" fill="#333" fill-opacity="0.37"/><rect x="56.5" y="192.2" width="0.62" height="0.62" fill="#333" fill-opacity="0.33"/><rect x="57.5" y="184.0" width="0.53" height="0.53" fill="#333" fill-opacity="0.16"/><rect x="63.1" y="196.7" width="0.84" height="0.84" fill="#333" fill-opacity="0.35"/><rect x="53.3" y="194.6" width="0.65" height="0.65" fill="#333" fill-opacity="0.18"/><rect x="61.6" y="190.6" width="0.56" height="0.56" fill="#333" fill-opacity="0.17"/><rect x="57.0" y="186.3" width="0.63" height="0.63" fill="#333" fill-opacity="0.11"/><rect x="58.9" y="200.8" width="0.65" height="0.65" fill="#333" fill-opacity="0.11"/><rect x="53.4" y="198.6" width="0.56" height="0.56" fill="#333" fill-opacity="0.41"/><rect x="64.3" y="193.1" width="0.65" height="0.65" fill="#333" fill-opacity="0.21"/><rect x="47.2" y="200.2" width="0.55" height="0.55" fill="#333" fill-opacity="0.28"/><rect x="43.6" y="193.6" width="0.88" height="0.88" fill="#333" fill-opacity="0.16"/><rect x="49.2" y="204.5" width="0.80" height="0.80" fill="#333" fill-opacity="0.33"/><rect x="43.7" y="194.1" width="0.80" height="0.80" fill="#333" fill-opacity="0.24"/><rect x="62.1" y="199.7" width="0.68" height="0.68" fill="#333" fill-opacity="0.37"/><rect x="39.1" y="197.9" width="0.63" height="0.63" fill="#333" fill-opacity="0.35"/><rect x="39.5" y="191.0" width="0.58" height="0.58" fill="#333" fill-opacity="0.30"/><rect x="59.8" y="196.9" width="0.52" height="0.52" fill="#333" fill-opacity="0.31"/><rect x="47.5" y="190.7" width="0.59" height="0.59" fill="#333" fill-opacity="0.39"/><rect x="59.5" y="197.7" width="0.77" height="0.77" fill="#333" fill-opacity="0.24"/><rect x="46.7" y="205.8" width="0.51" height="0.51" fill="#333" fill-opacity="0.37"/><rect x="55.1" y="196.8" width="0.53" height="0.53" fill="#333" fill-opacity="0.18"/><rect x="58.5" y="184.1" width="0.73" height="0.73" fill="#333" fill-opacity="0.19"/><rect x="51.5" y="203.1" width="0.85" height="0.85" fill="#333" fill-opacity="0.39"/><rect x="40.9" y="197.7" width="0.66" height="0.66" fill="#333" fill-opacity="0.12"/><rect x="52.8" y="195.5" width="0.73" height="0.73" fill="#333" fill-opacity="0.16"/><rect x="57.3" y="197.4" width="0.57" height="0.57" fill="#333" fill-opacity="0.34"/><rect x="32.0" y="197.3" width="0.78" height="0.78" fill="#333" fill-opacity="0.27"/><rect x="61.5" y="199.7" width="0.69" height="0.69" fill="#333" fill-opacity="0.27"/><rect x="48.9" y="197.3" width="0.64" height="0.64" fill="#333" fill-opacity="0.30"/><rect x="50.1" y="193.0" width="0.69" height="0.69" fill="#333" fill-opacity="0.39"/><rect x="57.1" y="191.2" width="0.67" height="0.67" fill="#333" fill-opacity="0.19"/><rect x="50.0" y="203.6" width="0.61" height="0.61" fill="#333" fill-opacity="0.22"/><rect x="41.1" y="196.5" width="0.75" height="0.75" fill="#333" fill-opacity="0.36"/><rect x="43.3" y="200.3" width="0.53" height="0.53" fill="#333" fill-opacity="0.36"/><rect x="49.0" y="198.2" width="0.51" height="0.51" fill="#333" fill-opacity="0.28"/><rect x="47.8" y="198.1" width="0.89" height="0.89" fill="#333" fill-opacity="0.21"/><rect x="52.8" y="202.3" width="0.58" height="0.58" fill="#333" fill-opacity="0.36"/><rect x="53.3" y="202.7" width="0.58" height="0.58" fill="#333" fill-opacity="0.30"/><rect x="51.9" y="199.0" width="0.66" height="0.66" fill="#333" fill-opacity="0.19"/><rect x="46.1" y="194.4" width="0.81" height="0.81" fill="#333" fill-opacity="0.27"/><rect x="49.4" y="205.6" width="0.87" height="0.87" fill="#333" fill-opacity="0.34"/><rect x="51.2" y="189.2" width="0.65" height="0.65" fill="#333" fill-opacity="0.30"/><rect x="56.3" y="194.8" width="0.55" height="0.55" fill="#333" fill-opacity="0.22"/><rect x="33.7" y="196.3" width="0.51" height="0.51" fill="#333" fill-opacity="0.31"/><rect x="54.1" y="195.7" width="0.69" height="0.69" fill="#333" fill-opacity="0.16"/><rect x="43.4" y="183.9" width="0.67" height="0.67" fill="#333" fill-opacity="0.31"/><rect x="52.9" y="201.8" width="0.83" height="0.83" fill="#333" fill-opacity="0.30"/><rect x="56.0" y="203.2" width="0.59" height="0.59" fill="#333" fill-opacity="0.31"/><rect x="50.2" y="192.7" width="0.58" height="0.58" fill="#333" fill-opacity="0.21"/><rect x="54.3" y="196.5" width="0.75" height="0.75" fill="#333" fill-opacity="0.20"/><rect x="46.0" y="196.8" width="0.69" height="0.69" fill="#333" fill-opacity="0.26"/><rect x="43.2" y="195.3" width="0.78" height="0.78" fill="#333" fill-opacity="0.15"/><rect x="44.7" y="205.8" width="0.85" height="0.85" fill="#333" fill-opacity="0.21"/><rect x="52.2" y="204.9" width="0.62" height="0.62" fill="#333" fill-opacity="0.41"/><rect x="55.7" y="190.5" width="0.74" height="0.74" fill="#333" fill-opacity="0.10"/><rect x="49.7" y="198.5" width="0.78" height="0.78" fill="#333" fill-opacity="0.36"/><rect x="56.2" y="195.9" width="0.73" height="0.73" fill="#333" fill-opacity="0.22"/><rect x="49.5" y="199.4" width="0.67" height="0.67" fill="#333" fill-opacity="0.22"/><rect x="42.8" y="197.3" width="0.70" height="0.70" fill="#333" fill-opacity="0.23"/><rect x="49.4" y="193.2" width="0.84" height="0.84" fill="#333" fill-opacity="0.25"/><rect x="54.7" y="187.5" width="0.69" height="0.69" fill="#333" fill-opacity="0.40"/><rect x="59.9" y="188.7" width="0.81" height="0.81" fill="#333" fill-opacity="0.21"/><rect x="41.1" y="197.7" width="0.79" height="0.79" fill="#333" fill-opacity="0.15"/><rect x="47.5" y="202.1" width="0.80" height="0.80" fill="#333" fill-opacity="0.27"/><rect x="48.5" y="193.0" width="0.75" height="0.75" fill="#333" fill-opacity="0.27"/><rect x="40.8" y="206.6" width="0.71" height="0.71" fill="#333" fill-opacity="0.20"/><rect x="57.8" y="196.4" width="0.87" height="0.87" fill="#333" fill-opacity="0.24"/><rect x="60.5" y="194.6" width="0.73" height="0.73" fill="#333" fill-opacity="0.32"/><rect x="65.4" y="188.4" width="0.72" height="0.72" fill="#333" fill-opacity="0.17"/><rect x="59.1" y="187.2" width="0.52" height="0.52" fill="#333" fill-opacity="0.37"/><rect x="48.8" y="192.4" width="0.70" height="0.70" fill="#333" fill-opacity="0.14"/><rect x="58.3" y="199.2" width="0.66" height="0.66" fill="#333" fill-opacity="0.24"/><rect x="47.7" y="202.7" width="0.56" height="0.56" fill="#333" fill-opacity="0.26"/><rect x="52.9" y="201.9" width="0.71" height="0.71" fill="#333" fill-opacity="0.11"/><rect x="57.2" y="194.6" width="0.65" height="0.65" fill="#333" fill-opacity="0.38"/><rect x="37.9" y="200.0" width="0.70" height="0.70" fill="#333" fill-opacity="0.24"/><rect x="54.8" y="196.0" width="0.62" height="0.62" fill="#333" fill-opacity="0.24"/><rect x="41.3" y="197.2" width="0.62" height="0.62" fill="#333" fill-opacity="0.32"/><rect x="54.0" y="189.6" width="0.52" height="0.52" fill="#333" fill-opacity="0.35"/><rect x="45.3" y="192.9" width="0.77" height="0.77" fill="#333" fill-opacity="0.20"/><rect x="39.3" y="205.3" width="0.61" height="0.61" fill="#333" fill-opacity="0.13"/><rect x="47.4" y="197.5" width="0.77" height="0.77" fill="#333" fill-opacity="0.14"/><rect x="51.6" y="199.9" width="0.84" height="0.84" fill="#333" fill-opacity="0.32"/><rect x="43.0" y="192.0" width="0.86" height="0.86" fill="#333" fill-opacity="0.19"/><rect x="55.3" y="187.3" width="0.59" height="0.59" fill="#333" fill-opacity="0.27"/><rect x="43.7" y="197.9" width="0.56" height="0.56" fill="#333" fill-opacity="0.30"/><rect x="55.3" y="203.6" width="0.56" height="0.56" fill="#333" fill-opacity="0.14"/><rect x="43.1" y="195.4" width="0.89" height="0.89" fill="#333" fill-opacity="0.36"/><rect x="40.5" y="194.3" width="0.74" height="0.74" fill="#333" fill-opacity="0.24"/><rect x="39.8" y="204.8" width="0.60" height="0.60" fill="#333" fill-opacity="0.26"/><rect x="37.7" y="202.2" width="0.90" height="0.90" fill="#333" fill-opacity="0.11"/><rect x="52.0" y="190.5" width="0.60" height="0.60" fill="#333" fill-opacity="0.19"/><rect x="44.3" y="204.3" width="0.70" height="0.70" fill="#333" fill-opacity="0.30"/><rect x="45.5" y="200.9" width="0.65" height="0.65" fill="#333" fill-opacity="0.15"/><rect x="51.4" y="196.0" width="0.51" height="0.51" fill="#333" fill-opacity="0.40"/><rect x="45.3" y="198.5" width="0.60" height="0.60" fill="#333" fill-opacity="0.27"/><rect x="50.0" y="196.0" width="0.87" height="0.87" fill="#333" fill-opacity="0.39"/><rect x="61.1" y="190.8" width="0.75" height="0.75" fill="#333" fill-opacity="0.14"/><rect x="38.6" y="192.4" width="0.81" height="0.81" fill="#333" fill-opacity="0.25"/><rect x="51.2" y="198.3" width="0.90" height="0.90" fill="#333" fill-opacity="0.15"/><rect x="49.9" y="199.6" width="0.88" height="0.88" fill="#333" fill-opacity="0.15"/><rect x="55.3" y="191.5" width="0.82" height="0.82" fill="#333" fill-opacity="0.12"/><rect x="44.9" y="199.4" width="0.76" height="0.76" fill="#333" fill-opacity="0.11"/><rect x="58.6" y="192.7" width="0.57" height="0.57" fill="#333" fill-opacity="0.38"/><rect x="47.9" y="202.2" width="0.90" height="0.90" fill="#333" fill-opacity="0.16"/><rect x="51.7" y="197.0" width="0.56" height="0.56" fill="#333" fill-opacity="0.30"/><rect x="42.6" y="205.1" width="0.61" height="0.61" fill="#333" fill-opacity="0.21"/><rect x="56.3" y="193.7" width="0.51" height="0.51" fill="#333" fill-opacity="0.40"/><rect x="44.0" y="192.3" width="0.62" height="0.62" fill="#333" fill-opacity="0.35"/><rect x="56.7" y="193.7" width="0.70" height="0.70" fill="#333" fill-opacity="0.38"/><rect x="53.5" y="194.1" width="0.86" height="0.86" fill="#333" fill-opacity="0.25"/><rect x="46.5" y="198.3" width="0.55" height="0.55" fill="#333" fill-opacity="0.25"/><rect x="62.0" y="200.4" width="0.66" height="0.66" fill="#333" fill-opacity="0.10"/><rect x="45.8" y="206.0" width="0.68" height="0.68" fill="#333" fill-opacity="0.22"/><rect x="48.6" y="194.5" width="0.58" height="0.58" fill="#333" fill-opacity="0.25"/><rect x="39.5" y="202.8" width="0.88" height="0.88" fill="#333" fill-opacity="0.40"/><rect x="52.8" y="195.5" width="0.65" height="0.65" fill="#333" fill-opacity="0.24"/><rect x="45.2" y="201.3" width="0.50" height="0.50" fill="#333" fill-opacity="0.32"/><rect x="49.6" y="196.0" width="0.87" height="0.87" fill="#333" fill-opacity="0.34"/><rect x="44.7" y="188.8" width="0.87" height="0.87" fill="#333" fill-opacity="0.41"/><rect x="49.2" y="204.3" width="0.71" height="0.71" fill="#333" fill-opacity="0.25"/><rect x="50.6" y="197.5" width="0.51" height="0.51" fill="#333" fill-opacity="0.21"/><rect x="63.3" y="190.6" width="0.76" height="0.76" fill="#333" fill-opacity="0.12"/><rect x="60.7" y="191.7" width="0.69" height="0.69" fill="#333" fill-opacity="0.31"/><rect x="46.1" y="200.2" width="0.62" height="0.62" fill="#333" fill-opacity="0.13"/><rect x="54.2" y="202.6" width="0.62" height="0.62" fill="#333" fill-opacity="0.22"/><rect x="58.1" y="196.8" width="0.83" height="0.83" fill="#333" fill-opacity="0.22"/><rect x="50.2" y="198.3" width="0.64" height="0.64" fill="#333" fill-opacity="0.28"/><rect x="54.2" y="192.3" width="0.70" height="0.70" fill="#333" fill-opacity="0.21"/><rect x="48.9" y="194.9" width="0.81" height="0.81" fill="#333" fill-opacity="0.12"/><rect x="55.9" y="190.7" width="0.60" height="0.60" fill="#333" fill-opacity="0.13"/><rect x="63.2" y="197.9" width="0.79" height="0.79" fill="#333" fill-opacity="0.28"/><rect x="40.3" y="206.2" width="0.78" height="0.78" fill="#333" fill-opacity="0.38"/><rect x="32.5" y="196.7" width="0.50" height="0.50" fill="#333" fill-opacity="0.26"/><rect x="54.8" y="195.5" width="0.65" height="0.65" fill="#333" fill-opacity="0.22"/><rect x="59.2" y="191.2" width="0.90" height="0.90" fill="#333" fill-opacity="0.28"/><rect x="61.3" y="191.9" width="0.59" height="0.59" fill="#333" fill-opacity="0.24"/><rect x="61.8" y="191.2" width="0.66" height="0.66" fill="#333" fill-opacity="0.39"/><rect x="55.2" y="196.4" width="0.88" height="0.88" fill="#333" fill-opacity="0.19"/><rect x="52.8" y="193.6" width="0.59" height="0.59" fill="#333" fill-opacity="0.21"/><rect x="43.2" y="190.8" width="0.66" height="0.66" fill="#333" fill-opacity="0.29"/><rect x="59.0" y="198.9" width="0.79" height="0.79" fill="#333" fill-opacity="0.40"/><rect x="42.7" y="192.9" width="0.51" height="0.51" fill="#333" fill-opacity="0.23"/><rect x="54.0" y="201.6" width="0.64" height="0.64" fill="#333" fill-opacity="0.10"/><rect x="48.4" y="202.1" width="0.81" height="0.81" fill="#333" fill-opacity="0.23"/><rect x="34.1" y="195.3" width="0.63" height="0.63" fill="#333" fill-opacity="0.28"/><rect x="39.8" y="199.6" width="0.78" height="0.78" fill="#333" fill-opacity="0.15"/><rect x="65.4" y="195.0" width="0.83" height="0.83" fill="#333" fill-opacity="0.32"/><rect x="62.8" y="197.5" width="0.57" height="0.57" fill="#333" fill-opacity="0.22"/><rect x="50.0" y="198.1" width="0.54" height="0.54" fill="#333" fill-opacity="0.32"/><rect x="49.3" y="198.7" width="0.59" height="0.59" fill="#333" fill-opacity="0.42"/><rect x="50.4" y="196.7" width="0.66" height="0.66" fill="#333" fill-opacity="0.19"/><rect x="50.6" y="195.8" width="0.55" height="0.55" fill="#333" fill-opacity="0.24"/><rect x="39.1" y="201.4" width="0.83" height="0.83" fill="#333" fill-opacity="0.17"/><rect x="40.1" y="197.7" width="0.57" height="0.57" fill="#333" fill-opacity="0.41"/><rect x="49.5" y="184.9" width="0.59" height="0.59" fill="#333" fill-opacity="0.26"/><rect x="53.5" y="191.0" width="0.86" height="0.86" fill="#333" fill-opacity="0.11"/><rect x="60.8" y="204.1" width="0.68" height="0.68" fill="#333" fill-opacity="0.16"/><rect x="45.3" y="196.4" width="0.90" height="0.90" fill="#333" fill-opacity="0.28"/><rect x="47.1" y="203.9" width="0.56" height="0.56" fill="#333" fill-opacity="0.40"/><rect x="50.2" y="195.8" width="0.59" height="0.59" fill="#333" fill-opacity="0.19"/><rect x="46.3" y="196.7" width="0.89" height="0.89" fill="#333" fill-opacity="0.40"/><rect x="65.8" y="201.9" width="0.71" height="0.71" fill="#333" fill-opacity="0.24"/><rect x="44.4" y="198.6" width="0.73" height="0.73" fill="#333" fill-opacity="0.26"/><rect x="49.6" y="200.6" width="0.57" height="0.57" fill="#333" fill-opacity="0.22"/><rect x="44.6" y="191.9" width="0.76" height="0.76" fill="#333" fill-opacity="0.34"/><rect x="47.6" y="194.2" width="0.54" height="0.54" fill="#333" fill-opacity="0.23"/><rect x="57.5" y="185.3" width="0.70" height="0.70" fill="#333" fill-opacity="0.31"/><rect x="47.7" y="203.3" width="0.70" height="0.70" fill="#333" fill-opacity="0.35"/><rect x="49.1" y="195.8" width="0.72" height="0.72" fill="#333" fill-opacity="0.17"/><rect x="56.9" y="193.8" width="0.63" height="0.63" fill="#333" fill-opacity="0.26"/><rect x="57.3" y="200.0" width="0.65" height="0.65" fill="#333" fill-opacity="0.32"/><rect x="42.1" y="199.1" width="0.75" height="0.75" fill="#333" fill-opacity="0.29"/><rect x="45.4" y="186.3" width="0.73" height="0.73" fill="#333" fill-opacity="0.31"/><rect x="59.7" y="193.7" width="0.53" height="0.53" fill="#333" fill-opacity="0.27"/><rect x="44.5" y="191.6" width="0.53" height="0.53" fill="#333" fill-opacity="0.40"/><rect x="52.8" y="206.3" width="0.77" height="0.77" fill="#333" fill-opacity="0.35"/><rect x="36.6" y="193.4" width="0.77" height="0.77" fill="#333" fill-opacity="0.36"/><rect x="39.5" y="196.6" width="0.80" height="0.80" fill="#333" fill-opacity="0.14"/><rect x="62.6" y="193.8" width="0.80" height="0.80" fill="#333" fill-opacity="0.31"/><rect x="49.6" y="194.4" width="0.82" height="0.82" fill="#333" fill-opacity="0.37"/><rect x="52.8" y="204.0" width="0.60" height="0.60" fill="#333" fill-opacity="0.13"/><rect x="45.2" y="201.6" width="0.88" height="0.88" fill="#333" fill-opacity="0.35"/><rect x="52.3" y="192.2" width="0.54" height="0.54" fill="#333" fill-opacity="0.20"/><rect x="44.0" y="195.4" width="0.67" height="0.67" fill="#333" fill-opacity="0.28"/><rect x="44.4" y="189.1" width="0.70" height="0.70" fill="#333" fill-opacity="0.23"/><rect x="49.5" y="193.7" width="0.54" height="0.54" fill="#333" fill-opacity="0.30"/><rect x="48.9" y="202.6" width="0.66" height="0.66" fill="#333" fill-opacity="0.26"/><rect x="56.7" y="193.8" width="0.79" height="0.79" fill="#333" fill-opacity="0.36"/><rect x="53.8" y="201.3" width="0.73" height="0.73" fill="#333" fill-opacity="0.33"/><rect x="38.7" y="190.3" width="0.57" height="0.57" fill="#333" fill-opacity="0.15"/><rect x="59.3" y="196.7" width="0.61" height="0.61" fill="#333" fill-opacity="0.30"/><rect x="63.0" y="204.2" width="0.62" height="0.62" fill="#333" fill-opacity="0.34"/><rect x="64.1" y="202.2" width="0.81" height="0.81" fill="#333" fill-opacity="0.19"/><rect x="57.0" y="200.8" width="0.75" height="0.75" fill="#333" fill-opacity="0.17"/><rect x="52.9" y="194.2" width="0.87" height="0.87" fill="#333" fill-opacity="0.27"/><rect x="41.3" y="202.4" width="0.62" height="0.62" fill="#333" fill-opacity="0.33"/><rect x="63.8" y="190.7" width="0.58" height="0.58" fill="#333" fill-opacity="0.25"/><rect x="64.6" y="204.3" width="0.71" height="0.71" fill="#333" fill-opacity="0.28"/><rect x="51.0" y="197.4" width="0.53" height="0.53" fill="#333" fill-opacity="0.16"/><rect x="41.7" y="200.9" width="0.89" height="0.89" fill="#333" fill-opacity="0.29"/><rect x="56.5" y="196.6" width="0.75" height="0.75" fill="#333" fill-opacity="0.40"/><rect x="42.5" y="204.5" width="0.82" height="0.82" fill="#333" fill-opacity="0.11"/><rect x="54.6" y="195.4" width="0.89" height="0.89" fill="#333" fill-opacity="0.19"/><rect x="63.0" y="194.3" width="0.53" height="0.53" fill="#333" fill-opacity="0.41"/><rect x="37.9" y="202.6" width="0.63" height="0.63" fill="#333" fill-opacity="0.12"/><rect x="58.9" y="202.8" width="0.70" height="0.70" fill="#333" fill-opacity="0.42"/><rect x="53.5" y="195.2" width="0.89" height="0.89" fill="#333" fill-opacity="0.23"/><rect x="58.2" y="196.1" width="0.61" height="0.61" fill="#333" fill-opacity="0.15"/><rect x="55.9" y="195.9" width="0.63" height="0.63" fill="#333" fill-opacity="0.18"/><rect x="37.9" y="200.1" width="0.82" height="0.82" fill="#333" fill-opacity="0.27"/><rect x="36.3" y="198.5" width="0.74" height="0.74" fill="#333" fill-opacity="0.21"/><rect x="45.8" y="201.0" width="0.84" height="0.84" fill="#333" fill-opacity="0.16"/><rect x="49.7" y="194.9" width="0.84" height="0.84" fill="#333" fill-opacity="0.39"/><rect x="46.5" y="194.5" width="0.61" height="0.61" fill="#333" fill-opacity="0.37"/><rect x="58.9" y="199.3" width="0.82" height="0.82" fill="#333" fill-opacity="0.41"/><rect x="52.9" y="202.7" width="0.51" height="0.51" fill="#333" fill-opacity="0.39"/><rect x="59.9" y="204.0" width="0.76" height="0.76" fill="#333" fill-opacity="0.22"/><rect x="43.4" y="200.3" width="0.79" height="0.79" fill="#333" fill-opacity="0.31"/><rect x="60.5" y="201.8" width="0.88" height="0.88" fill="#333" fill-opacity="0.41"/><rect x="60.9" y="200.5" width="0.90" height="0.90" fill="#333" fill-opacity="0.16"/><rect x="36.4" y="204.1" width="0.71" height="0.71" fill="#333" fill-opacity="0.13"/><rect x="44.8" y="193.7" width="0.83" height="0.83" fill="#333" fill-opacity="0.19"/><rect x="65.5" y="202.8" width="0.83" height="0.83" fill="#333" fill-opacity="0.38"/><rect x="46.5" y="192.6" width="0.60" height="0.60" fill="#333" fill-opacity="0.25"/><rect x="51.1" y="203.7" width="0.50" height="0.50" fill="#333" fill-opacity="0.12"/><rect x="41.3" y="184.6" width="0.53" height="0.53" fill="#333" fill-opacity="0.33"/><rect x="54.3" y="198.3" width="0.80" height="0.80" fill="#333" fill-opacity="0.29"/><rect x="49.4" y="197.5" width="0.81" height="0.81" fill="#333" fill-opacity="0.40"/><rect x="59.7" y="206.7" width="0.62" height="0.62" fill="#333" fill-opacity="0.40"/><rect x="51.1" y="196.8" width="0.58" height="0.58" fill="#333" fill-opacity="0.21"/><rect x="64.7" y="193.6" width="0.80" height="0.80" fill="#333" fill-opacity="0.18"/><rect x="54.2" y="198.4" width="0.83" height="0.83" fill="#333" fill-opacity="0.23"/><rect x="58.4" y="194.9" width="0.68" height="0.68" fill="#333" fill-opacity="0.19"/><rect x="41.9" y="202.4" width="0.60" height="0.60" fill="#333" fill-opacity="0.25"/><rect x="50.1" y="203.9" width="0.57" height="0.57" fill="#333" fill-opacity="0.12"/><rect x="54.1" y="200.4" width="0.71" height="0.71" fill="#333" fill-opacity="0.11"/><rect x="47.1" y="193.7" width="0.62" height="0.62" fill="#333" fill-opacity="0.40"/><rect x="39.8" y="197.1" width="0.87" height="0.87" fill="#333" fill-opacity="0.30"/><rect x="55.4" y="197.7" width="0.54" height="0.54" fill="#333" fill-opacity="0.12"/><rect x="44.6" y="202.0" width="0.84" height="0.84" fill="#333" fill-opacity="0.35"/><rect x="43.2" y="193.3" width="0.59" height="0.59" fill="#333" fill-opacity="0.24"/><rect x="53.7" y="202.0" width="0.75" height="0.75" fill="#333" fill-opacity="0.14"/><rect x="45.0" y="205.1" width="0.59" height="0.59" fill="#333" fill-opacity="0.18"/><rect x="42.3" y="199.6" width="0.57" height="0.57" fill="#333" fill-opacity="0.41"/><rect x="55.5" y="197.4" width="0.53" height="0.53" fill="#333" fill-opacity="0.37"/><rect x="57.0" y="195.7" width="0.64" height="0.64" fill="#333" fill-opacity="0.39"/><rect x="59.9" y="193.7" width="0.50" height="0.50" fill="#333" fill-opacity="0.22"/><rect x="44.5" y="200.6" width="0.71" height="0.71" fill="#333" fill-opacity="0.40"/><rect x="57.3" y="192.1" width="0.74" height="0.74" fill="#333" fill-opacity="0.30"/><rect x="60.1" y="202.1" width="0.67" height="0.67" fill="#333" fill-opacity="0.33"/><rect x="54.1" y="200.0" width="0.88" height="0.88" fill="#333" fill-opacity="0.23"/><rect x="45.9" y="197.9" width="0.80" height="0.80" fill="#333" fill-opacity="0.26"/><rect x="54.6" y="194.7" width="0.52" height="0.52" fill="#333" fill-opacity="0.25"/><rect x="48.5" y="202.7" width="0.55" height="0.55" fill="#333" fill-opacity="0.16"/><rect x="53.6" y="193.3" width="0.56" height="0.56" fill="#333" fill-opacity="0.34"/><rect x="54.8" y="200.1" width="0.54" height="0.54" fill="#333" fill-opacity="0.36"/><rect x="54.6" y="204.4" width="0.85" height="0.85" fill="#333" fill-opacity="0.24"/><rect x="51.3" y="198.6" width="0.66" height="0.66" fill="#333" fill-opacity="0.33"/><rect x="46.6" y="196.4" width="0.81" height="0.81" fill="#333" fill-opacity="0.40"/><rect x="52.1" y="202.2" width="0.89" height="0.89" fill="#333" fill-opacity="0.14"/><rect x="57.8" y="201.2" width="0.69" height="0.69" fill="#333" fill-opacity="0.17"/><rect x="46.9" y="194.4" width="0.77" height="0.77" fill="#333" fill-opacity="0.29"/><rect x="43.8" y="201.7" width="0.62" height="0.62" fill="#333" fill-opacity="0.41"/><rect x="58.4" y="197.1" width="0.53" height="0.53" fill="#333" fill-opacity="0.13"/><rect x="62.2" y="192.7" width="0.65" height="0.65" fill="#333" fill-opacity="0.15"/><rect x="49.1" y="199.0" width="0.51" height="0.51" fill="#333" fill-opacity="0.18"/><rect x="60.4" y="194.3" width="0.83" height="0.83" fill="#333" fill-opacity="0.27"/><rect x="43.1" y="194.6" width="0.71" height="0.71" fill="#333" fill-opacity="0.33"/><rect x="45.1" y="205.2" width="0.73" height="0.73" fill="#333" fill-opacity="0.13"/><rect x="57.3" y="202.6" width="0.71" height="0.71" fill="#333" fill-opacity="0.16"/><rect x="44.5" y="203.8" width="0.54" height="0.54" fill="#333" fill-opacity="0.20"/><rect x="45.1" y="193.6" width="0.75" height="0.75" fill="#333" fill-opacity="0.33"/><rect x="63.3" y="197.7" width="0.86" height="0.86" fill="#333" fill-opacity="0.11"/><rect x="42.0" y="193.8" width="0.52" height="0.52" fill="#333" fill-opacity="0.22"/><rect x="49.6" y="201.3" width="0.89" height="0.89" fill="#333" fill-opacity="0.16"/><rect x="51.5" y="203.5" width="0.84" height="0.84" fill="#333" fill-opacity="0.18"/><rect x="55.3" y="200.7" width="0.62" height="0.62" fill="#333" fill-opacity="0.24"/><rect x="64.9" y="202.0" width="0.61" height="0.61" fill="#333" fill-opacity="0.12"/><rect x="54.7" y="197.1" width="0.72" height="0.72" fill="#333" fill-opacity="0.22"/><rect x="61.2" y="197.1" width="0.89" height="0.89" fill="#333" fill-opacity="0.21"/><rect x="63.3" y="195.8" width="0.52" height="0.52" fill="#333" fill-opacity="0.33"/><rect x="34.4" y="194.0" width="0.78" height="0.78" fill="#333" fill-opacity="0.38"/><rect x="53.9" y="183.9" width="0.57" height="0.57" fill="#333" fill-opacity="0.29"/><rect x="49.4" y="193.3" width="0.58" height="0.58" fill="#333" fill-opacity="0.38"/><rect x="60.0" y="190.9" width="0.59" height="0.59" fill="#333" fill-opacity="0.31"/><rect x="41.9" y="198.3" width="0.78" height="0.78" fill="#333" fill-opacity="0.42"/><rect x="41.1" y="200.2" width="0.67" height="0.67" fill="#333" fill-opacity="0.28"/><rect x="48.7" y="201.7" width="0.88" height="0.88" fill="#333" fill-opacity="0.13"/><rect x="47.6" y="201.0" width="0.70" height="0.70" fill="#333" fill-opacity="0.11"/><rect x="54.0" y="202.1" width="0.88" height="0.88" fill="#333" fill-opacity="0.35"/><rect x="64.5" y="200.2" width="0.84" height="0.84" fill="#333" fill-opacity="0.39"/><rect x="57.9" y="188.3" width="0.52" height="0.52" fill="#333" fill-opacity="0.26"/><rect x="56.8" y="206.3" width="0.69" height="0.69" fill="#333" fill-opacity="0.23"/><rect x="49.1" y="191.7" width="0.61" height="0.61" fill="#333" fill-opacity="0.18"/><rect x="60.3" y="194.2" width="0.77" height="0.77" fill="#333" fill-opacity="0.34"/><rect x="47.1" y="201.6" width="0.71" height="0.71" fill="#333" fill-opacity="0.26"/><rect x="47.1" y="194.9" width="0.80" height="0.80" fill="#333" fill-opacity="0.24"/><rect x="50.5" y="202.8" width="0.76" height="0.76" fill="#333" fill-opacity="0.35"/><rect x="48.6" y="195.8" width="0.80" height="0.80" fill="#333" fill-opacity="0.32"/><rect x="56.0" y="199.3" width="0.68" height="0.68" fill="#333" fill-opacity="0.39"/><rect x="52.9" y="195.1" width="0.74" height="0.74" fill="#333" fill-opacity="0.39"/><rect x="54.0" y="205.3" width="0.59" height="0.59" fill="#333" fill-opacity="0.27"/><rect x="54.1" y="196.9" width="0.84" height="0.84" fill="#333" fill-opacity="0.20"/><rect x="56.0" y="194.7" width="0.54" height="0.54" fill="#333" fill-opacity="0.41"/><rect x="42.8" y="204.8" width="0.64" height="0.64" fill="#333" fill-opacity="0.15"/><rect x="43.7" y="200.7" width="0.60" height="0.60" fill="#333" fill-opacity="0.22"/><rect x="43.1" y="198.6" width="0.55" height="0.55" fill="#333" fill-opacity="0.31"/><rect x="42.9" y="190.7" width="0.52" height="0.52" fill="#333" fill-opacity="0.31"/><rect x="64.2" y="206.5" width="0.64" height="0.64" fill="#333" fill-opacity="0.27"/><rect x="52.1" y="193.1" width="0.78" height="0.78" fill="#333" fill-opacity="0.41"/><rect x="53.4" y="206.2" width="0.61" height="0.61" fill="#333" fill-opacity="0.26"/><rect x="55.3" y="199.5" width="0.67" height="0.67" fill="#333" fill-opacity="0.27"/><rect x="58.7" y="194.5" width="0.84" height="0.84" fill="#333" fill-opacity="0.28"/><rect x="53.5" y="189.0" width="0.76" height="0.76" fill="#333" fill-opacity="0.38"/><rect x="58.1" y="189.8" width="0.74" height="0.74" fill="#333" fill-opacity="0.17"/><rect x="51.5" y="188.6" width="0.51" height="0.51" fill="#333" fill-opacity="0.24"/><rect x="38.5" y="192.0" width="0.74" height="0.74" fill="#333" fill-opacity="0.38"/><rect x="46.0" y="197.3" width="0.83" height="0.83" fill="#333" fill-opacity="0.16"/><rect x="61.0" y="198.0" width="0.66" height="0.66" fill="#333" fill-opacity="0.19"/><rect x="55.2" y="196.9" width="0.79" height="0.79" fill="#333" fill-opacity="0.34"/><rect x="57.3" y="198.3" width="0.57" height="0.57" fill="#333" fill-opacity="0.19"/><rect x="40.3" y="203.5" width="0.73" height="0.73" fill="#333" fill-opacity="0.41"/><rect x="41.2" y="199.3" width="0.72" height="0.72" fill="#333" fill-opacity="0.20"/><rect x="48.7" y="203.1" width="0.72" height="0.72" fill="#333" fill-opacity="0.24"/><rect x="41.4" y="193.9" width="0.64" height="0.64" fill="#333" fill-opacity="0.23"/><rect x="43.8" y="201.1" width="0.76" height="0.76" fill="#333" fill-opacity="0.12"/><rect x="48.5" y="193.9" width="0.77" height="0.77" fill="#333" fill-opacity="0.39"/><rect x="56.9" y="192.1" width="0.60" height="0.60" fill="#333" fill-opacity="0.41"/><rect x="41.7" y="195.6" width="0.69" height="0.69" fill="#333" fill-opacity="0.20"/><rect x="53.6" y="196.7" width="0.56" height="0.56" fill="#333" fill-opacity="0.34"/><rect x="39.2" y="194.9" width="0.83" height="0.83" fill="#333" fill-opacity="0.27"/><rect x="52.6" y="195.8" width="0.79" height="0.79" fill="#333" fill-opacity="0.18"/><rect x="49.2" y="190.7" width="0.57" height="0.57" fill="#333" fill-opacity="0.12"/><rect x="47.7" y="203.0" width="0.60" height="0.60" fill="#333" fill-opacity="0.33"/><rect x="44.6" y="190.7" width="0.84" height="0.84" fill="#333" fill-opacity="0.22"/><rect x="54.0" y="206.4" width="0.81" height="0.81" fill="#333" fill-opacity="0.18"/><rect x="44.8" y="198.5" width="0.65" height="0.65" fill="#333" fill-opacity="0.37"/><rect x="54.1" y="190.7" width="0.62" height="0.62" fill="#333" fill-opacity="0.12"/><rect x="52.8" y="199.9" width="0.73" height="0.73" fill="#333" fill-opacity="0.11"/><rect x="39.0" y="197.0" width="0.51" height="0.51" fill="#333" fill-opacity="0.22"/><rect x="60.9" y="189.9" width="0.67" height="0.67" fill="#333" fill-opacity="0.37"/><rect x="61.4" y="200.4" width="0.62" height="0.62" fill="#333" fill-opacity="0.14"/><rect x="48.5" y="196.9" width="0.86" height="0.86" fill="#333" fill-opacity="0.26"/><rect x="53.9" y="195.5" width="0.70" height="0.70" fill="#333" fill-opacity="0.18"/><rect x="59.8" y="198.8" width="0.61" height="0.61" fill="#333" fill-opacity="0.28"/><rect x="53.5" y="183.5" width="0.71" height="0.71" fill="#333" fill-opacity="0.19"/><rect x="50.9" y="193.8" width="0.73" height="0.73" fill="#333" fill-opacity="0.27"/><rect x="57.7" y="190.8" width="0.79" height="0.79" fill="#333" fill-opacity="0.38"/><rect x="61.3" y="204.0" width="0.72" height="0.72" fill="#333" fill-opacity="0.26"/><rect x="40.9" y="197.7" width="0.67" height="0.67" fill="#333" fill-opacity="0.23"/><rect x="55.7" y="194.2" width="0.65" height="0.65" fill="#333" fill-opacity="0.22"/><rect x="55.7" y="197.0" width="0.90" height="0.90" fill="#333" fill-opacity="0.25"/><rect x="46.1" y="195.4" width="0.61" height="0.61" fill="#333" fill-opacity="0.11"/><rect x="58.9" y="195.5" width="0.74" height="0.74" fill="#333" fill-opacity="0.37"/><rect x="49.9" y="197.5" width="0.75" height="0.75" fill="#333" fill-opacity="0.38"/><rect x="59.3" y="200.0" width="0.59" height="0.59" fill="#333" fill-opacity="0.24"/><rect x="40.0" y="189.5" width="0.58" height="0.58" fill="#333" fill-opacity="0.31"/><rect x="63.7" y="195.9" width="0.84" height="0.84" fill="#333" fill-opacity="0.15"/><rect x="62.4" y="196.3" width="0.86" height="0.86" fill="#333" fill-opacity="0.12"/><rect x="39.7" y="181.2" width="0.77" height="0.77" fill="#333" fill-opacity="0.42"/><rect x="59.6" y="199.9" width="0.57" height="0.57" fill="#333" fill-opacity="0.24"/><rect x="46.0" y="204.9" width="0.77" height="0.77" fill="#333" fill-opacity="0.15"/><rect x="53.5" y="199.9" width="0.60" height="0.60" fill="#333" fill-opacity="0.40"/><rect x="63.8" y="197.3" width="0.73" height="0.73" fill="#333" fill-opacity="0.27"/><rect x="58.9" y="195.9" width="0.83" height="0.83" fill="#333" fill-opacity="0.28"/><rect x="55.1" y="204.3" width="0.88" height="0.88" fill="#333" fill-opacity="0.20"/><rect x="57.4" y="198.0" width="0.54" height="0.54" fill="#333" fill-opacity="0.34"/><rect x="47.7" y="192.8" width="0.76" height="0.76" fill="#333" fill-opacity="0.31"/><rect x="46.1" y="184.8" width="0.52" height="0.52" fill="#333" fill-opacity="0.15"/><rect x="51.1" y="198.6" width="0.89" height="0.89" fill="#333" fill-opacity="0.22"/><rect x="53.6" y="202.2" width="0.79" height="0.79" fill="#333" fill-opacity="0.11"/><rect x="42.9" y="200.3" width="0.61" height="0.61" fill="#333" fill-opacity="0.40"/><rect x="47.5" y="194.1" width="0.89" height="0.89" fill="#333" fill-opacity="0.40"/><rect x="38.7" y="206.5" width="0.52" height="0.52" fill="#333" fill-opacity="0.16"/><rect x="46.2" y="199.9" width="0.63" height="0.63" fill="#333" fill-opacity="0.16"/><rect x="53.4" y="201.9" width="0.59" height="0.59" fill="#333" fill-opacity="0.33"/><rect x="37.4" y="192.0" width="0.54" height="0.54" fill="#333" fill-opacity="0.26"/><rect x="52.1" y="199.8" width="0.79" height="0.79" fill="#333" fill-opacity="0.19"/><rect x="48.9" y="191.3" width="0.73" height="0.73" fill="#333" fill-opacity="0.11"/><rect x="60.8" y="195.1" width="0.72" height="0.72" fill="#333" fill-opacity="0.28"/><rect x="32.0" y="200.2" width="0.67" height="0.67" fill="#333" fill-opacity="0.12"/><rect x="55.6" y="196.0" width="0.72" height="0.72" fill="#333" fill-opacity="0.40"/><rect x="34.0" y="200.9" width="0.56" height="0.56" fill="#333" fill-opacity="0.41"/><rect x="52.4" y="198.9" width="0.72" height="0.72" fill="#333" fill-opacity="0.21"/><rect x="44.9" y="203.5" width="0.51" height="0.51" fill="#333" fill-opacity="0.11"/><rect x="45.1" y="198.6" width="0.76" height="0.76" fill="#333" fill-opacity="0.23"/><rect x="49.6" y="196.3" width="0.51" height="0.51" fill="#333" fill-opacity="0.12"/><rect x="52.2" y="183.9" width="0.68" height="0.68" fill="#333" fill-opacity="0.37"/><rect x="53.4" y="189.8" width="0.53" height="0.53" fill="#333" fill-opacity="0.12"/><rect x="52.6" y="190.4" width="0.65" height="0.65" fill="#333" fill-opacity="0.31"/><rect x="51.0" y="200.8" width="0.69" height="0.69" fill="#333" fill-opacity="0.26"/><rect x="42.8" y="195.3" width="0.53" height="0.53" fill="#333" fill-opacity="0.34"/><rect x="56.4" y="194.8" width="0.61" height="0.61" fill="#333" fill-opacity="0.23"/><rect x="55.1" y="197.1" width="0.70" height="0.70" fill="#333" fill-opacity="0.10"/><rect x="60.1" y="202.9" width="0.85" height="0.85" fill="#333" fill-opacity="0.28"/><rect x="52.5" y="201.5" width="0.82" height="0.82" fill="#333" fill-opacity="0.33"/><rect x="61.3" y="186.3" width="0.50" height="0.50" fill="#333" fill-opacity="0.37"/><rect x="39.4" y="196.9" width="0.69" height="0.69" fill="#333" fill-opacity="0.39"/><rect x="51.1" y="199.1" width="0.54" height="0.54" fill="#333" fill-opacity="0.16"/><rect x="47.5" y="197.8" width="0.56" height="0.56" fill="#333" fill-opacity="0.37"/><rect x="46.5" y="194.0" width="0.58" height="0.58" fill="#333" fill-opacity="0.19"/><rect x="38.8" y="201.4" width="0.69" height="0.69" fill="#333" fill-opacity="0.27"/><rect x="53.5" y="201.7" width="0.53" height="0.53" fill="#333" fill-opacity="0.37"/><rect x="43.0" y="189.1" width="0.63" height="0.63" fill="#333" fill-opacity="0.27"/><rect x="53.6" y="205.3" width="0.57" height="0.57" fill="#333" fill-opacity="0.31"/><rect x="44.5" y="205.8" width="0.86" height="0.86" fill="#333" fill-opacity="0.12"/><rect x="47.6" y="194.6" width="0.64" height="0.64" fill="#333" fill-opacity="0.40"/><rect x="45.9" y="192.2" width="0.64" height="0.64" fill="#333" fill-opacity="0.14"/><rect x="60.0" y="204.0" width="0.52" height="0.52" fill="#333" fill-opacity="0.40"/><rect x="54.8" y="202.6" width="0.67" height="0.67" fill="#333" fill-opacity="0.28"/><rect x="39.8" y="182.1" width="0.56" height="0.56" fill="#333" fill-opacity="0.14"/><rect x="39.9" y="197.9" width="0.70" height="0.70" fill="#333" fill-opacity="0.34"/><rect x="58.5" y="193.7" width="0.73" height="0.73" fill="#333" fill-opacity="0.42"/><rect x="56.2" y="187.2" width="0.90" height="0.90" fill="#333" fill-opacity="0.11"/><rect x="56.0" y="189.4" width="0.65" height="0.65" fill="#333" fill-opacity="0.32"/><rect x="44.3" y="195.2" width="0.67" height="0.67" fill="#333" fill-opacity="0.19"/><rect x="39.4" y="202.9" width="0.56" height="0.56" fill="#333" fill-opacity="0.24"/><rect x="53.0" y="188.4" width="0.77" height="0.77" fill="#333" fill-opacity="0.39"/><rect x="56.3" y="197.0" width="0.77" height="0.77" fill="#333" fill-opacity="0.40"/><rect x="36.1" y="202.1" width="0.83" height="0.83" fill="#333" fill-opacity="0.13"/><rect x="52.4" y="198.2" width="0.84" height="0.84" fill="#333" fill-opacity="0.37"/><rect x="64.8" y="197.4" width="0.85" height="0.85" fill="#333" fill-opacity="0.40"/><rect x="37.1" y="192.8" width="0.71" height="0.71" fill="#333" fill-opacity="0.36"/><rect x="56.4" y="195.1" width="0.65" height="0.65" fill="#333" fill-opacity="0.16"/><rect x="54.7" y="195.1" width="0.70" height="0.70" fill="#333" fill-opacity="0.20"/><rect x="62.1" y="196.1" width="0.54" height="0.54" fill="#333" fill-opacity="0.41"/><rect x="48.9" y="199.2" width="0.85" height="0.85" fill="#333" fill-opacity="0.16"/><rect x="47.0" y="202.1" width="0.51" height="0.51" fill="#333" fill-opacity="0.26"/><rect x="63.7" y="196.0" width="0.55" height="0.55" fill="#333" fill-opacity="0.40"/><rect x="41.0" y="190.6" width="0.66" height="0.66" fill="#333" fill-opacity="0.34"/><rect x="58.9" y="185.9" width="0.80" height="0.80" fill="#333" fill-opacity="0.32"/><rect x="56.3" y="203.9" width="0.58" height="0.58" fill="#333" fill-opacity="0.31"/><rect x="50.9" y="194.3" width="0.66" height="0.66" fill="#333" fill-opacity="0.34"/><rect x="59.4" y="197.4" width="0.65" height="0.65" fill="#333" fill-opacity="0.35"/><rect x="42.6" y="196.5" width="0.69" height="0.69" fill="#333" fill-opacity="0.12"/><rect x="38.8" y="200.0" width="0.51" height="0.51" fill="#333" fill-opacity="0.18"/><rect x="58.0" y="189.2" width="0.58" height="0.58" fill="#333" fill-opacity="0.11"/><rect x="54.6" y="192.4" width="0.74" height="0.74" fill="#333" fill-opacity="0.20"/><rect x="61.7" y="191.8" width="0.66" height="0.66" fill="#333" fill-opacity="0.11"/><rect x="64.1" y="196.1" width="0.77" height="0.77" fill="#333" fill-opacity="0.29"/><rect x="51.7" y="195.5" width="0.57" height="0.57" fill="#333" fill-opacity="0.37"/><rect x="46.0" y="198.0" width="0.56" height="0.56" fill="#333" fill-opacity="0.11"/><rect x="38.5" y="198.2" width="0.67" height="0.67" fill="#333" fill-opacity="0.23"/><rect x="58.5" y="190.7" width="0.74" height="0.74" fill="#333" fill-opacity="0.31"/><rect x="50.2" y="200.6" width="0.68" height="0.68" fill="#333" fill-opacity="0.39"/><rect x="51.9" y="190.5" width="0.65" height="0.65" fill="#333" fill-opacity="0.17"/><rect x="46.6" y="201.7" width="0.50" height="0.50" fill="#333" fill-opacity="0.23"/><rect x="56.2" y="205.0" width="0.60" height="0.60" fill="#333" fill-opacity="0.26"/><rect x="52.7" y="193.0" width="0.89" height="0.89" fill="#333" fill-opacity="0.38"/><rect x="43.7" y="194.9" width="0.76" height="0.76" fill="#333" fill-opacity="0.39"/><rect x="61.9" y="199.6" width="0.80" height="0.80" fill="#333" fill-opacity="0.37"/><rect x="53.6" y="192.8" width="0.80" height="0.80" fill="#333" fill-opacity="0.39"/><rect x="42.1" y="204.4" width="0.59" height="0.59" fill="#333" fill-opacity="0.23"/><rect x="40.1" y="190.6" width="0.82" height="0.82" fill="#333" fill-opacity="0.35"/><rect x="60.5" y="195.1" width="0.63" height="0.63" fill="#333" fill-opacity="0.20"/><rect x="46.8" y="201.2" width="0.53" height="0.53" fill="#333" fill-opacity="0.25"/><rect x="41.4" y="194.4" width="0.60" height="0.60" fill="#333" fill-opacity="0.21"/><rect x="56.5" y="188.9" width="0.62" height="0.62" fill="#333" fill-opacity="0.12"/><rect x="49.5" y="187.5" width="0.74" height="0.74" fill="#333" fill-opacity="0.15"/><rect x="51.7" y="186.6" width="0.81" height="0.81" fill="#333" fill-opacity="0.14"/><rect x="32.9" y="190.9" width="0.79" height="0.79" fill="#333" fill-opacity="0.12"/><rect x="52.8" y="202.8" width="0.73" height="0.73" fill="#333" fill-opacity="0.41"/><rect x="43.8" y="198.5" width="0.53" height="0.53" fill="#333" fill-opacity="0.26"/><rect x="39.7" y="205.5" width="0.57" height="0.57" fill="#333" fill-opacity="0.38"/><rect x="44.2" y="186.3" width="0.63" height="0.63" fill="#333" fill-opacity="0.16"/><rect x="45.6" y="195.4" width="0.81" height="0.81" fill="#333" fill-opacity="0.32"/><rect x="40.1" y="204.4" width="0.58" height="0.58" fill="#333" fill-opacity="0.42"/><rect x="50.2" y="194.6" width="0.52" height="0.52" fill="#333" fill-opacity="0.33"/><rect x="42.3" y="203.7" width="0.66" height="0.66" fill="#333" fill-opacity="0.31"/><rect x="60.2" y="205.5" width="0.59" height="0.59" fill="#333" fill-opacity="0.28"/><rect x="60.4" y="189.9" width="0.67" height="0.67" fill="#333" fill-opacity="0.32"/><rect x="51.7" y="194.1" width="0.77" height="0.77" fill="#333" fill-opacity="0.17"/><rect x="45.5" y="198.8" width="0.58" height="0.58" fill="#333" fill-opacity="0.10"/><rect x="52.2" y="195.3" width="0.66" height="0.66" fill="#333" fill-opacity="0.30"/><rect x="45.6" y="200.1" width="0.89" height="0.89" fill="#333" fill-opacity="0.40"/><rect x="36.7" y="198.1" width="0.83" height="0.83" fill="#333" fill-opacity="0.26"/><rect x="59.3" y="195.9" width="0.62" height="0.62" fill="#333" fill-opacity="0.29"/><rect x="50.9" y="192.9" width="0.88" height="0.88" fill="#333" fill-opacity="0.37"/><rect x="58.9" y="203.8" width="0.51" height="0.51" fill="#333" fill-opacity="0.11"/><rect x="60.4" y="200.3" width="0.53" height="0.53" fill="#333" fill-opacity="0.37"/><rect x="59.4" y="193.6" width="0.76" height="0.76" fill="#333" fill-opacity="0.17"/><rect x="55.0" y="191.2" width="0.84" height="0.84" fill="#333" fill-opacity="0.25"/><rect x="55.7" y="195.3" width="0.88" height="0.88" fill="#333" fill-opacity="0.30"/><rect x="70.1" y="196.0" width="0.76" height="0.76" fill="#333" fill-opacity="0.29"/><rect x="72.2" y="194.9" width="0.80" height="0.80" fill="#333" fill-opacity="0.30"/><rect x="69.0" y="205.3" width="0.79" height="0.79" fill="#333" fill-opacity="0.09"/><rect x="68.6" y="204.5" width="0.83" height="0.83" fill="#333" fill-opacity="0.15"/><rect x="67.6" y="203.6" width="0.80" height="0.80" fill="#333" fill-opacity="0.13"/><rect x="69.9" y="199.3" width="0.82" height="0.82" fill="#333" fill-opacity="0.27"/><rect x="72.9" y="191.9" width="0.60" height="0.60" fill="#333" fill-opacity="0.13"/><rect x="69.2" y="194.4" width="0.82" height="0.82" fill="#333" fill-opacity="0.13"/><rect x="70.3" y="194.5" width="0.89" height="0.89" fill="#333" fill-opacity="0.13"/><rect x="68.8" y="206.8" width="0.53" height="0.53" fill="#333" fill-opacity="0.29"/><rect x="71.2" y="204.6" width="0.90" height="0.90" fill="#333" fill-opacity="0.12"/><rect x="68.5" y="205.3" width="0.87" height="0.87" fill="#333" fill-opacity="0.18"/><rect x="67.6" y="203.1" width="0.80" height="0.80" fill="#333" fill-opacity="0.15"/><rect x="70.9" y="205.7" width="0.82" height="0.82" fill="#333" fill-opacity="0.20"/><rect x="68.3" y="197.3" width="0.81" height="0.81" fill="#333" fill-opacity="0.28"/><rect x="69.0" y="191.6" width="0.62" height="0.62" fill="#333" fill-opacity="0.14"/><rect x="77.3" y="192.9" width="0.82" height="0.82" fill="#333" fill-opacity="0.16"/><rect x="74.4" y="188.4" width="0.50" height="0.50" fill="#333" fill-opacity="0.29"/><rect x="72.8" y="187.9" width="0.78" height="0.78" fill="#333" fill-opacity="0.29"/><rect x="70.8" y="205.8" width="0.59" height="0.59" fill="#333" fill-opacity="0.21"/><rect x="75.3" y="197.4" width="0.61" height="0.61" fill="#333" fill-opacity="0.14"/><rect x="73.2" y="193.4" width="0.72" height="0.72" fill="#333" fill-opacity="0.20"/><rect x="68.4" y="199.2" width="0.59" height="0.59" fill="#333" fill-opacity="0.19"/><rect x="72.4" y="193.6" width="0.87" height="0.87" fill="#333" fill-opacity="0.16"/><rect x="68.6" y="188.8" width="0.65" height="0.65" fill="#333" fill-opacity="0.26"/><rect x="70.8" y="192.9" width="0.77" height="0.77" fill="#333" fill-opacity="0.17"/><rect x="69.0" y="198.4" width="0.57" height="0.57" fill="#333" fill-opacity="0.27"/><rect x="67.1" y="196.7" width="0.82" height="0.82" fill="#333" fill-opacity="0.13"/><rect x="68.0" y="198.7" width="0.88" height="0.88" fill="#333" fill-opacity="0.11"/><rect x="72.7" y="196.9" width="0.67" height="0.67" fill="#333" fill-opacity="0.23"/><rect x="70.5" y="192.5" width="0.51" height="0.51" fill="#333" fill-opacity="0.27"/><rect x="69.0" y="192.2" width="0.58" height="0.58" fill="#333" fill-opacity="0.29"/><rect x="72.6" y="203.9" width="0.57" height="0.57" fill="#333" fill-opacity="0.19"/><rect x="70.9" y="202.9" width="0.73" height="0.73" fill="#333" fill-opacity="0.25"/><rect x="67.4" y="197.4" width="0.52" height="0.52" fill="#333" fill-opacity="0.08"/><rect x="75.7" y="205.9" width="0.72" height="0.72" fill="#333" fill-opacity="0.29"/><rect x="69.0" y="189.9" width="0.76" height="0.76" fill="#333" fill-opacity="0.18"/><rect x="78.3" y="203.1" width="0.87" height="0.87" fill="#333" fill-opacity="0.26"/><rect x="71.5" y="206.5" width="0.68" height="0.68" fill="#333" fill-opacity="0.15"/><line x1="27.0" x2="113.8" y1="207.2" y2="207.2" stroke="#262626" stroke-width="0.9"/><line x1="66.3" x2="66.3" y1="149.4" y2="227.3" stroke="#262626" stroke-width="0.9"/><text transform="translate(21.0,188.65000000000003) rotate(-90)" text-anchor="middle" font-size="9.85" font-weight="bold" font-family="Liberation Sans, sans-serif">HIV-multimer</text><text x="69.9" y="239.4" text-anchor="middle" font-size="9.6" font-weight="bold" font-family="Liberation Sans, sans-serif">CFSE</text><text x="134.9" y="13.8" font-size="17.4" font-weight="bold" font-family="Liberation Sans, sans-serif">B</text><line x1="160.9" x2="160.9" y1="36.4" y2="207.5" stroke="#111" stroke-width="1.4"/><line x1="160.20000000000002" x2="295.5" y1="206.8" y2="206.8" stroke="#111" stroke-width="1.5"/><line x1="158.3" x2="160.8" y1="206.5" y2="206.5" stroke="#111" stroke-width="1"/><text x="158.4" y="209.3" text-anchor="end" font-size="9.5" font-weight="bold" font-family="Liberation Sans, sans-serif">0</text><line x1="158.3" x2="160.8" y1="182.33" y2="182.33" stroke="#111" stroke-width="1"/><text x="158.4" y="185.13000000000002" text-anchor="end" font-size="9.5" font-weight="bold" font-family="Liberation Sans, sans-serif">10</text><line x1="158.3" x2="160.8" y1="158.16" y2="158.16" stroke="#111" stroke-width="1"/><text x="158.4" y="160.96" text-anchor="end" font-size="9.5" font-weight="bold" font-family="Liberation Sans, sans-serif">20</text><line x1="158.3" x2="160.8" y1="133.99" y2="133.99" stroke="#111" stroke-width="1"/><text x="158.4" y="136.79000000000002" text-anchor="end" font-size="9.5" font-weight="bold" font-family="Liberation Sans, sans-serif">30</text><line x1="158.3" x2="160.8" y1="109.82000000000001" y2="109.82000000000001" stroke="#111" stroke-width="1"/><text x="158.4" y="112.62" text-anchor="end" font-size="9.5" font-weight="bold" font-family="Liberation Sans, sans-serif">40</text><line x1="158.3" x2="160.8" y1="85.65" y2="85.65" stroke="#111" stroke-width="1"/><text x="158.4" y="88.45" text-anchor="end" font-size="9.5" font-weight="bold" font-family="Liberation Sans, sans-serif">50</text><line x1="158.3" x2="160.8" y1="61.48000000000002" y2="61.48000000000002" stroke="#111" stroke-width="1"/><text x="158.4" y="64.28000000000002" text-anchor="end" font-size="9.5" font-weight="bold" font-family="Liberation Sans, sans-serif">60</text><line x1="158.3" x2="160.8" y1="37.31" y2="37.31" stroke="#111" stroke-width="1"/><text x="158.4" y="40.11" text-anchor="end" font-size="9.5" font-weight="bold" font-family="Liberation Sans, sans-serif">70</text><text transform="translate(141.9,121) rotate(-90)" text-anchor="middle" font-size="9.15" font-weight="bold" font-family="Liberation Sans, sans-serif">Fold Increase</text><text x="213.2" y="41.9" fill="#1a1a1a" font-size="7.8" font-weight="bold" font-style="italic" font-family="Liberation Sans, sans-serif">P = .03</text><line x1="194.3" x2="261.2" y1="182.8" y2="131.6" stroke="#333" stroke-width="0.7"/><line x1="194.3" x2="261.2" y1="190.1" y2="159.4" stroke="#333" stroke-width="0.7"/><line x1="194.3" x2="261.2" y1="204.1" y2="56.6" stroke="#333" stroke-width="0.7"/><line x1="194.3" x2="261.2" y1="196.8" y2="197.8" stroke="#333" stroke-width="0.7"/><line x1="194.3" x2="261.2" y1="202.4" y2="197.1" stroke="#333" stroke-width="0.7"/><line x1="194.3" x2="261.2" y1="203.4" y2="198.5" stroke="#333" stroke-width="0.7"/><line x1="194.3" x2="261.2" y1="206.0" y2="205.3" stroke="#333" stroke-width="0.7"/><circle cx="194.3" cy="182.8" r="1.7" fill="#fff" stroke="#000" stroke-width="1.3"/><circle cx="261.2" cy="131.6" r="1.7" fill="#fff" stroke="#000" stroke-width="1.3"/><circle cx="194.3" cy="190.1" r="1.7" fill="#fff" stroke="#000" stroke-width="1.3"/><circle cx="261.2" cy="159.4" r="1.7" fill="#fff" stroke="#000" stroke-width="1.3"/><circle cx="194.3" cy="204.1" r="1.7" fill="#fff" stroke="#000" stroke-width="1.3"/><circle cx="261.2" cy="56.6" r="1.7" fill="#fff" stroke="#000" stroke-width="1.3"/><circle cx="194.3" cy="196.8" r="1.7" fill="#fff" stroke="#000" stroke-width="1.3"/><circle cx="261.2" cy="197.8" r="1.7" fill="#fff" stroke="#000" stroke-width="1.3"/><circle cx="194.3" cy="202.4" r="1.7" fill="#fff" stroke="#000" stroke-width="1.3"/><circle cx="261.2" cy="197.1" r="1.7" fill="#fff" stroke="#000" stroke-width="1.3"/><circle cx="194.3" cy="203.4" r="1.7" fill="#fff" stroke="#000" stroke-width="1.3"/><circle cx="261.2" cy="198.5" r="1.7" fill="#fff" stroke="#000" stroke-width="1.3"/><circle cx="194.3" cy="206.0" r="1.7" fill="#fff" stroke="#000" stroke-width="1.3"/><circle cx="261.2" cy="205.3" r="1.7" fill="#fff" stroke="#000" stroke-width="1.3"/><text x="169.3" y="219.9" font-size="10.6" font-weight="bold" font-family="Liberation Sans, sans-serif">CD45RO<tspan dy="-5.6" dx="0.3" font-size="6.6">+</tspan></text><text x="227.7" y="219.9" font-size="10.6" font-weight="bold" font-family="Liberation Sans, sans-serif">CD45RO<tspan dy="-5.6" dx="0.3" font-size="6.6">-</tspan><tspan dy="5.6">/RA</tspan><tspan dy="-5.6" dx="0.3" font-size="6.6">+</tspan></text><text x="310.4" y="14.3" font-size="17.3" font-weight="bold" font-family="Liberation Sans, sans-serif">C</text><line x1="345.6" x2="345.6" y1="36.6" y2="207.3" stroke="#111" stroke-width="1.2"/><line x1="345.0" x2="517.5" y1="206.7" y2="206.7" stroke="#111" stroke-width="1.4"/><line x1="343.8" x2="345.6" y1="206.5" y2="206.5" stroke="#111" stroke-width="1"/><text x="343.20000000000005" y="209.8" text-anchor="end" font-size="9.2" font-weight="bold" font-family="Liberation Sans, sans-serif">0</text><line x1="343.8" x2="345.6" y1="172.62" y2="172.62" stroke="#111" stroke-width="1"/><text x="343.20000000000005" y="175.92000000000002" text-anchor="end" font-size="9.2" font-weight="bold" font-family="Liberation Sans, sans-serif">20</text><line x1="343.8" x2="345.6" y1="138.74" y2="138.74" stroke="#111" stroke-width="1"/><text x="343.20000000000005" y="142.04000000000002" text-anchor="end" font-size="9.2" font-weight="bold" font-family="Liberation Sans, sans-serif">40</text><line x1="343.8" x2="345.6" y1="104.86" y2="104.86" stroke="#111" stroke-width="1"/><text x="343.20000000000005" y="108.16" text-anchor="end" font-size="9.2" font-weight="bold" font-family="Liberation Sans, sans-serif">60</text><line x1="343.8" x2="345.6" y1="70.98000000000002" y2="70.98000000000002" stroke="#111" stroke-width="1"/><text x="343.20000000000005" y="74.28000000000002" text-anchor="end" font-size="9.2" font-weight="bold" font-family="Liberation Sans, sans-serif">80</text><line x1="343.8" x2="345.6" y1="37.099999999999994" y2="37.099999999999994" stroke="#111" stroke-width="1"/><text x="343.20000000000005" y="40.39999999999999" text-anchor="end" font-size="9.2" font-weight="bold" font-family="Liberation Sans, sans-serif">100</text><line x1="344.0" x2="345.6" y1="189.56" y2="189.56" stroke="#111" stroke-width="0.9"/><line x1="344.0" x2="345.6" y1="155.68" y2="155.68" stroke="#111" stroke-width="0.9"/><line x1="344.0" x2="345.6" y1="121.8" y2="121.8" stroke="#111" stroke-width="0.9"/><line x1="344.0" x2="345.6" y1="87.92" y2="87.92" stroke="#111" stroke-width="0.9"/><line x1="344.0" x2="345.6" y1="54.03999999999999" y2="54.03999999999999" stroke="#111" stroke-width="0.9"/><text transform="translate(320.4,201.1) rotate(-90)" font-size="9.15" font-weight="bold" font-family="Liberation Sans, sans-serif">% Perforin</text><text transform="translate(316.5,154.9) rotate(-90)" font-size="6.6" font-weight="bold" font-family="Liberation Sans, sans-serif">+</text><text transform="translate(320.4,148.2) rotate(-90)" font-size="9.4" font-weight="bold" font-family="Liberation Sans, sans-serif">HIV-specific CD8</text><text transform="translate(316.5,72.1) rotate(-90)" font-size="6.6" font-weight="bold" font-family="Liberation Sans, sans-serif">+</text><text transform="translate(320.4,67.7) rotate(-90)" font-size="8.9" font-weight="bold" font-family="Liberation Sans, sans-serif">T cells</text><line x1="372.4" x2="404.5" y1="138.7" y2="130.3" stroke="#333" stroke-width="0.7"/><line x1="372.4" x2="404.5" y1="176.0" y2="125.4" stroke="#333" stroke-width="0.7"/><line x1="372.4" x2="404.5" y1="171.8" y2="138.7" stroke="#333" stroke-width="0.7"/><line x1="372.4" x2="404.5" y1="173.5" y2="154.0" stroke="#333" stroke-width="0.7"/><line x1="372.4" x2="404.5" y1="201.4" y2="174.3" stroke="#333" stroke-width="0.7"/><circle cx="372.4" cy="138.7" r="1.7" fill="#fff" stroke="#000" stroke-width="1.3"/><circle cx="404.5" cy="130.3" r="2.1" fill="#000"/><circle cx="372.4" cy="176.0" r="1.7" fill="#fff" stroke="#000" stroke-width="1.3"/><circle cx="404.5" cy="125.4" r="2.1" fill="#000"/><circle cx="372.4" cy="171.8" r="1.7" fill="#fff" stroke="#000" stroke-width="1.3"/><circle cx="404.5" cy="138.7" r="2.1" fill="#000"/><circle cx="372.4" cy="173.5" r="1.7" fill="#fff" stroke="#000" stroke-width="1.3"/><circle cx="404.5" cy="154.0" r="2.1" fill="#000"/><circle cx="372.4" cy="201.4" r="1.7" fill="#fff" stroke="#000" stroke-width="1.3"/><circle cx="404.5" cy="174.3" r="2.1" fill="#000"/><line x1="457.8" x2="489.6" y1="104.9" y2="82.8" stroke="#333" stroke-width="0.7"/><line x1="457.8" x2="489.6" y1="158.6" y2="55.7" stroke="#333" stroke-width="0.7"/><line x1="457.8" x2="489.6" y1="160.8" y2="72.8" stroke="#333" stroke-width="0.7"/><line x1="457.8" x2="489.6" y1="160.9" y2="82.8" stroke="#333" stroke-width="0.7"/><line x1="457.8" x2="489.6" y1="167.9" y2="76.1" stroke="#333" stroke-width="0.7"/><line x1="457.8" x2="489.6" y1="194.6" y2="138.7" stroke="#333" stroke-width="0.7"/><circle cx="457.8" cy="104.9" r="1.7" fill="#fff" stroke="#000" stroke-width="1.3"/><circle cx="489.6" cy="82.8" r="2.1" fill="#000"/><circle cx="457.8" cy="158.6" r="1.7" fill="#fff" stroke="#000" stroke-width="1.3"/><circle cx="489.6" cy="55.7" r="2.1" fill="#000"/><circle cx="457.8" cy="160.8" r="1.7" fill="#fff" stroke="#000" stroke-width="1.3"/><circle cx="489.6" cy="72.8" r="2.1" fill="#000"/><circle cx="457.8" cy="160.9" r="1.7" fill="#fff" stroke="#000" stroke-width="1.3"/><circle cx="489.6" cy="82.8" r="2.1" fill="#000"/><circle cx="457.8" cy="167.9" r="1.7" fill="#fff" stroke="#000" stroke-width="1.3"/><circle cx="489.6" cy="76.1" r="2.1" fill="#000"/><circle cx="457.8" cy="194.6" r="1.7" fill="#fff" stroke="#000" stroke-width="1.3"/><circle cx="489.6" cy="138.7" r="2.1" fill="#000"/><path d="M372.0 47.3 V44.4 H404.3 V47.3" fill="none" stroke="#111" stroke-width="1.2"/><path d="M457.6 47.3 V44.4 H489.5 V47.3" fill="none" stroke="#111" stroke-width="1.2"/><text x="388.9" y="42" text-anchor="middle" font-size="8" font-weight="bold" font-style="italic" font-family="Liberation Sans, sans-serif">NS</text><text x="474.4" y="42.1" text-anchor="middle" font-size="8" font-weight="bold" font-style="italic" font-family="Liberation Sans, sans-serif">P = .016</text><line x1="374" x2="385.2" y1="76.7" y2="76.7" stroke="#444" stroke-width="0.7"/><circle cx="379.6" cy="76.7" r="1.9" fill="#fff" stroke="#000" stroke-width="1.2"/><text x="390.7" y="79.60000000000001" font-size="8.3" font-family="Liberation Sans, sans-serif" fill="#222">Day 0</text><line x1="374" x2="385.2" y1="87.9" y2="87.9" stroke="#444" stroke-width="0.7"/><circle cx="379.6" cy="87.9" r="2.1" fill="#000"/><text x="390.7" y="90.80000000000001" font-size="8.3" font-family="Liberation Sans, sans-serif" fill="#222">Day 6</text><text x="363.6" y="219.9" font-size="10.6" font-weight="bold" font-family="Liberation Sans, sans-serif">CD45RO<tspan dy="-5.6" dx="0.3" font-size="6.6">+</tspan></text><text x="448.0" y="219.9" font-size="10.6" font-weight="bold" font-family="Liberation Sans, sans-serif">CD45RO<tspan dy="-5.6" dx="0.3" font-size="6.6">-</tspan><tspan dy="5.6">/RA</tspan><tspan dy="-5.6" dx="0.3" font-size="6.6">+</tspan></text></g>
</svg>
</body></html>
